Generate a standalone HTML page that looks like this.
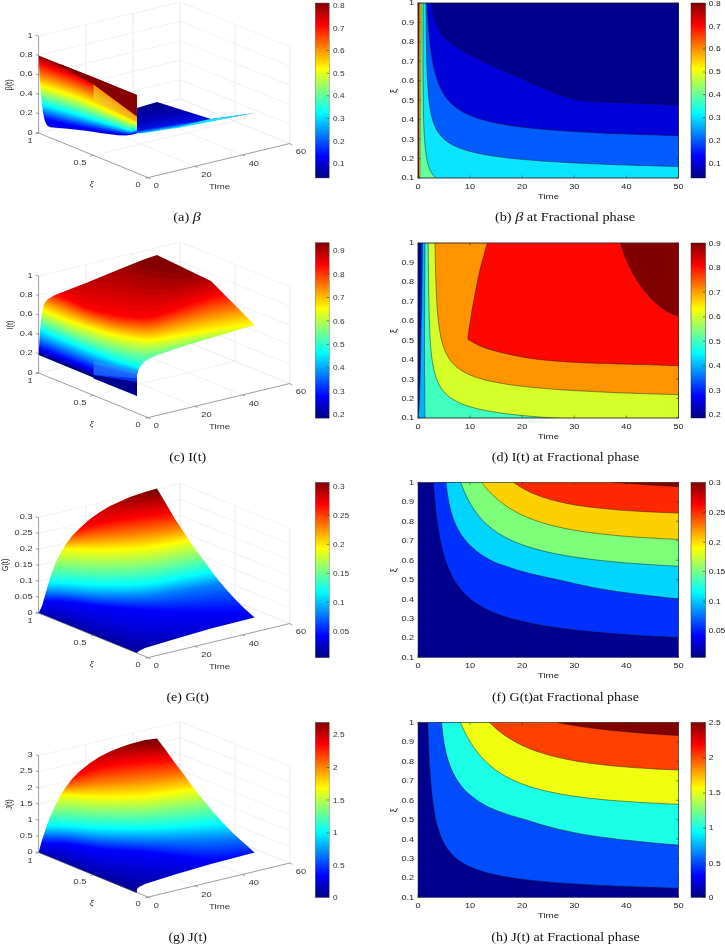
<!DOCTYPE html>
<html lang="en"><head><meta charset="utf-8"><title>Fractional phase figures</title>
<style>html,body{margin:0;padding:0;background:#fff}svg{display:block}</style></head>
<body>
<svg width="725" height="944" viewBox="0 0 725 944">
<rect width="725" height="944" fill="#fff"/>
<defs><filter id="soft" x="0" y="0" width="100%" height="100%" filterUnits="userSpaceOnUse" color-interpolation-filters="sRGB"><feGaussianBlur stdDeviation="0.5"/></filter></defs>
<g filter="url(#soft)">
<rect width="725" height="944" fill="#fff"/>
<defs><linearGradient id="jet" x1="0" y1="1" x2="0" y2="0">
<stop offset="0" stop-color="#000080"/>
<stop offset="0.125" stop-color="#0000ff"/>
<stop offset="0.375" stop-color="#00ffff"/>
<stop offset="0.625" stop-color="#ffff00"/>
<stop offset="0.875" stop-color="#ff0000"/>
<stop offset="1" stop-color="#800000"/>
</linearGradient></defs>
<line x1="85.8" y1="121.7" x2="195.2" y2="166.3" stroke="#e9e9e9" stroke-width="0.6"/>
<line x1="133" y1="110.3" x2="242.4" y2="154.9" stroke="#e9e9e9" stroke-width="0.6"/>
<line x1="180.2" y1="99" x2="289.6" y2="143.6" stroke="#e9e9e9" stroke-width="0.6"/>
<line x1="38.6" y1="133" x2="180.2" y2="99" stroke="#e9e9e9" stroke-width="0.6"/>
<line x1="93.3" y1="155.3" x2="234.9" y2="121.3" stroke="#e9e9e9" stroke-width="0.6"/>
<line x1="85.8" y1="121.7" x2="85.8" y2="24.7" stroke="#dcdcdc" stroke-width="0.6"/>
<line x1="133" y1="110.3" x2="133" y2="13.3" stroke="#dcdcdc" stroke-width="0.6"/>
<line x1="180.2" y1="99" x2="180.2" y2="2" stroke="#dcdcdc" stroke-width="0.6"/>
<line x1="235.1" y1="121.3" x2="235.1" y2="24.3" stroke="#dcdcdc" stroke-width="0.6"/>
<line x1="289.8" y1="143.6" x2="289.8" y2="46.6" stroke="#dcdcdc" stroke-width="0.6"/>
<line x1="38.6" y1="133" x2="180.4" y2="99" stroke="#e9e9e9" stroke-width="0.6"/>
<line x1="180.4" y1="99" x2="289.6" y2="143.6" stroke="#e9e9e9" stroke-width="0.6"/>
<line x1="38.6" y1="113.6" x2="180.4" y2="79.6" stroke="#e9e9e9" stroke-width="0.6"/>
<line x1="180.4" y1="79.6" x2="289.6" y2="124.2" stroke="#e9e9e9" stroke-width="0.6"/>
<line x1="38.6" y1="94.2" x2="180.4" y2="60.2" stroke="#e9e9e9" stroke-width="0.6"/>
<line x1="180.4" y1="60.2" x2="289.6" y2="104.8" stroke="#e9e9e9" stroke-width="0.6"/>
<line x1="38.6" y1="74.8" x2="180.4" y2="40.8" stroke="#e9e9e9" stroke-width="0.6"/>
<line x1="180.4" y1="40.8" x2="289.6" y2="85.4" stroke="#e9e9e9" stroke-width="0.6"/>
<line x1="38.6" y1="55.4" x2="180.4" y2="21.4" stroke="#e9e9e9" stroke-width="0.6"/>
<line x1="180.4" y1="21.4" x2="289.6" y2="66" stroke="#e9e9e9" stroke-width="0.6"/>
<line x1="38.6" y1="36" x2="180.4" y2="2" stroke="#e9e9e9" stroke-width="0.6"/>
<line x1="180.4" y1="2" x2="289.6" y2="46.6" stroke="#e9e9e9" stroke-width="0.6"/>
<defs><linearGradient id="fla" gradientUnits="userSpaceOnUse" x1="150" y1="104" x2="154.6" y2="131.6"><stop offset="0" stop-color="#00008c"/><stop offset="0.55" stop-color="#0000b8"/><stop offset="0.86" stop-color="#0010e8"/><stop offset="0.95" stop-color="#0090ff"/><stop offset="1" stop-color="#30ffff"/></linearGradient></defs>
<path d="M136.8 108 L157 102 L211 119 L254.6 113 L211 121.2 L175 128.3 L145 132.9 L139 133.4 L136.8 133.2Z" fill="url(#fla)"/>
<path d="M208 119.6 L254.6 112.7 L211 121.4 L175 128.5 L175 127.6Z" fill="#18e0ff"/>
<mask id="ca" maskUnits="userSpaceOnUse" x="0" y="0" width="725" height="944"><path d="M38.6 55.4 L136.9 95.1 L136.9 133.3 L133 134.6 L126 135.4 L118 135.2 L100 133 L88 131 L70 129 L50.3 127.2 L47.4 125.8 L45 121.4 L43 112.7 L41.1 98.3 L39.7 79Z" fill="#fff"/></mask>
<g mask="url(#ca)">
<path d="M34 50.5 L43.8 54.5 L57.6 60.1 L70 65.1 L78.8 68.6 L86.1 71.6 L93.6 74.6 L102.1 78.1 L110.8 81.6 L118 84.5 L123.1 86.5 L126.8 88 L130 89.3 L133.3 90.6 L136.1 91.8 L138 92.6 L138 145 L34 145Z" fill="#870000"/>
<path d="M34 52.8 L43.8 56.7 L57.6 62.3 L70 67.3 L78.8 70.9 L86.1 73.9 L93.6 76.9 L102.1 80.3 L110.8 83.8 L118 86.7 L123.1 88.8 L126.8 90.3 L130 91.6 L133.3 92.9 L136.1 94 L138 94.8 L138 145 L34 145Z" fill="#960000"/>
<path d="M34 55 L43.8 59 L57.6 64.6 L70 69.6 L78.8 73.1 L86.1 76.1 L93.6 79.1 L102.1 82.6 L110.8 86.1 L118 89 L123.1 91 L126.8 92.5 L130 93.8 L133.3 95.1 L136.1 96.3 L138 97.1 L138 145 L34 145Z" fill="#a40000"/>
<path d="M34 55.8 L43.8 59.8 L57.6 65.3 L70 70.2 L78.8 73.8 L86.1 76.7 L93.6 79.8 L102.1 83.2 L110.8 86.7 L118 89.6 L123.1 91.7 L126.8 93.2 L130 94.5 L133.3 95.8 L136.1 96.9 L138 97.7 L138 145 L34 145Z" fill="#b00000"/>
<path d="M34 56.7 L43.8 60.5 L57.6 66 L70 70.9 L78.8 74.4 L86.1 77.4 L93.6 80.4 L102.1 83.8 L110.8 87.3 L118 90.2 L123.1 92.3 L126.8 93.8 L130 95.1 L133.3 96.4 L136.1 97.5 L138 98.3 L138 145 L34 145Z" fill="#bc0000"/>
<path d="M34 57.5 L43.8 61.3 L57.6 66.7 L70 71.5 L78.8 75 L86.1 78 L93.6 81.1 L102.1 84.5 L110.8 87.9 L118 90.9 L123.1 92.9 L126.8 94.4 L130 95.8 L133.3 97.1 L136.1 98.2 L138 98.9 L138 145 L34 145Z" fill="#c80000"/>
<path d="M34 58.3 L43.8 62 L57.6 67.4 L70 72.2 L78.8 75.7 L86.1 78.7 L93.6 81.7 L102.1 85.1 L110.8 88.6 L118 91.5 L123.1 93.6 L126.8 95.1 L130 96.4 L133.3 97.7 L136.1 98.8 L138 99.5 L138 145 L34 145Z" fill="#d50000"/>
<path d="M34 59.1 L43.8 62.8 L57.6 68.1 L70 72.8 L78.8 76.3 L86.1 79.3 L93.6 82.4 L102.1 85.8 L110.8 89.2 L118 92.1 L123.1 94.2 L126.8 95.7 L130 97.1 L133.3 98.3 L136.1 99.4 L138 100.1 L138 145 L34 145Z" fill="#e10000"/>
<path d="M34 59.9 L43.8 63.6 L57.6 68.8 L70 73.5 L78.8 77 L86.1 80 L93.6 83 L102.1 86.4 L110.8 89.8 L118 92.7 L123.1 94.8 L126.8 96.4 L130 97.7 L133.3 99 L136.1 100 L138 100.8 L138 145 L34 145Z" fill="#ed0000"/>
<path d="M34 60.7 L43.8 64.3 L57.6 69.5 L70 74.1 L78.8 77.6 L86.1 80.6 L93.6 83.7 L102.1 87.1 L110.8 90.5 L118 93.4 L123.1 95.5 L126.8 97 L130 98.4 L133.3 99.6 L136.1 100.7 L138 101.4 L138 145 L34 145Z" fill="#f90000"/>
<path d="M34 61.5 L43.8 65.1 L57.6 70.2 L70 74.8 L78.8 78.2 L86.1 81.3 L93.6 84.3 L102.1 87.7 L110.8 91.1 L118 94 L123.1 96.1 L126.8 97.7 L130 99 L133.3 100.3 L136.1 101.3 L138 102 L138 145 L34 145Z" fill="#ff0600"/>
<path d="M34 62.6 L43.8 66.2 L57.6 71.2 L70 75.8 L78.8 79.2 L86.1 82.3 L93.6 85.3 L102.1 88.7 L110.8 92.2 L118 95.1 L123.1 97.2 L126.8 98.8 L130 100.1 L133.3 101.4 L136.1 102.4 L138 103.1 L138 145 L34 145Z" fill="#ff1300"/>
<path d="M34 63.8 L43.8 67.3 L57.6 72.2 L70 76.8 L78.8 80.2 L86.1 83.2 L93.6 86.3 L102.1 89.7 L110.8 93.2 L118 96.2 L123.1 98.3 L126.8 99.8 L130 101.2 L133.3 102.5 L136.1 103.5 L138 104.2 L138 145 L34 145Z" fill="#ff2000"/>
<path d="M34 64.9 L43.8 68.4 L57.6 73.3 L70 77.8 L78.8 81.2 L86.1 84.2 L93.6 87.3 L102.1 90.8 L110.8 94.3 L118 97.2 L123.1 99.4 L126.8 100.9 L130 102.3 L133.3 103.6 L136.1 104.6 L138 105.3 L138 145 L34 145Z" fill="#ff2d00"/>
<path d="M34 66 L43.8 69.5 L57.6 74.3 L70 78.8 L78.8 82.2 L86.1 85.2 L93.6 88.3 L102.1 91.8 L110.8 95.3 L118 98.3 L123.1 100.4 L126.8 102 L130 103.4 L133.3 104.7 L136.1 105.7 L138 106.4 L138 145 L34 145Z" fill="#ff3900"/>
<path d="M34 67.1 L43.8 70.5 L57.6 75.4 L70 79.8 L78.8 83.2 L86.1 86.2 L93.6 89.3 L102.1 92.8 L110.8 96.4 L118 99.4 L123.1 101.5 L126.8 103.1 L130 104.5 L133.3 105.8 L136.1 106.8 L138 107.5 L138 145 L34 145Z" fill="#ff4600"/>
<path d="M34 68.2 L43.8 71.6 L57.6 76.4 L70 80.9 L78.8 84.2 L86.1 87.2 L93.6 90.3 L102.1 93.8 L110.8 97.4 L118 100.5 L123.1 102.6 L126.8 104.2 L130 105.6 L133.3 106.9 L136.1 107.9 L138 108.6 L138 145 L34 145Z" fill="#ff5300"/>
<path d="M34 69.4 L43.8 72.7 L57.6 77.5 L70 81.9 L78.8 85.2 L86.1 88.2 L93.6 91.3 L102.1 94.8 L110.8 98.5 L118 101.5 L123.1 103.7 L126.8 105.3 L130 106.7 L133.3 108 L136.1 109 L138 109.7 L138 145 L34 145Z" fill="#ff6000"/>
<path d="M34 70.5 L43.8 73.8 L57.6 78.5 L70 82.9 L78.8 86.2 L86.1 89.2 L93.6 92.3 L102.1 95.9 L110.8 99.5 L118 102.6 L123.1 104.8 L126.8 106.4 L130 107.8 L133.3 109.1 L136.1 110.1 L138 110.8 L138 145 L34 145Z" fill="#ff6c00"/>
<path d="M34 71.6 L43.8 74.9 L57.6 79.6 L70 83.9 L78.8 87.2 L86.1 90.2 L93.6 93.3 L102.1 96.9 L110.8 100.6 L118 103.7 L123.1 105.9 L126.8 107.5 L130 108.9 L133.3 110.2 L136.1 111.2 L138 111.9 L138 145 L34 145Z" fill="#ff7900"/>
<path d="M34 72.8 L43.8 76 L57.6 80.6 L70 84.9 L78.8 88.2 L86.1 91.2 L93.6 94.3 L102.1 97.9 L110.8 101.6 L118 104.8 L123.1 107 L126.8 108.6 L130 110 L133.3 111.3 L136.1 112.3 L138 113 L138 145 L34 145Z" fill="#ff8600"/>
<path d="M34 73.9 L43.8 77.1 L57.6 81.6 L70 85.9 L78.8 89.2 L86.1 92.2 L93.6 95.3 L102.1 98.9 L110.8 102.7 L118 105.8 L123.1 108.1 L126.8 109.7 L130 111.1 L133.3 112.4 L136.1 113.4 L138 114.1 L138 145 L34 145Z" fill="#ff9300"/>
<path d="M34 75 L43.8 78.2 L57.6 82.7 L70 86.9 L78.8 90.2 L86.1 93.2 L93.6 96.3 L102.1 99.9 L110.8 103.7 L118 106.9 L123.1 109.1 L126.8 110.8 L130 112.2 L133.3 113.5 L136.1 114.5 L138 115.2 L138 145 L34 145Z" fill="#ff9f00"/>
<path d="M34 76.1 L43.8 79.3 L57.6 83.7 L70 87.9 L78.8 91.2 L86.1 94.2 L93.6 97.3 L102.1 101 L110.8 104.8 L118 108 L123.1 110.2 L126.8 111.9 L130 113.3 L133.3 114.6 L136.1 115.6 L138 116.3 L138 145 L34 145Z" fill="#ffac00"/>
<path d="M34 77.2 L43.8 80.4 L57.6 84.8 L70 88.9 L78.8 92.2 L86.1 95.2 L93.6 98.3 L102.1 102 L110.8 105.8 L118 109 L123.1 111.3 L126.8 113 L130 114.4 L133.3 115.7 L136.1 116.7 L138 117.4 L138 145 L34 145Z" fill="#ffb900"/>
<path d="M34 78.4 L43.8 81.5 L57.6 85.8 L70 90 L78.8 93.2 L86.1 96.2 L93.6 99.3 L102.1 103 L110.8 106.9 L118 110.1 L123.1 112.4 L126.8 114.1 L130 115.5 L133.3 116.8 L136.1 117.8 L138 118.5 L138 145 L34 145Z" fill="#ffc600"/>
<path d="M34 79.5 L43.8 82.5 L57.6 86.9 L70 91 L78.8 94.2 L86.1 97.1 L93.6 100.3 L102.1 104 L110.8 107.9 L118 111.2 L123.1 113.5 L126.8 115.2 L130 116.6 L133.3 117.9 L136.1 118.9 L138 119.6 L138 145 L34 145Z" fill="#ffd200"/>
<path d="M34 80.6 L43.8 83.6 L57.6 87.9 L70 92 L78.8 95.2 L86.1 98.1 L93.6 101.3 L102.1 105 L110.8 109 L118 112.3 L123.1 114.6 L126.8 116.3 L130 117.7 L133.3 119 L136.1 120 L138 120.7 L138 145 L34 145Z" fill="#ffdf00"/>
<path d="M34 81.8 L43.8 84.7 L57.6 89 L70 93 L78.8 96.2 L86.1 99.1 L93.6 102.3 L102.1 106.1 L110.8 110 L118 113.3 L123.1 115.7 L126.8 117.4 L130 118.8 L133.3 120.1 L136.1 121.1 L138 121.8 L138 145 L34 145Z" fill="#ffec00"/>
<path d="M34 82.9 L43.8 85.8 L57.6 90 L70 94 L78.8 97.2 L86.1 100.1 L93.6 103.3 L102.1 107.1 L110.8 111.1 L118 114.4 L123.1 116.8 L126.8 118.5 L130 119.9 L133.3 121.2 L136.1 122.2 L138 122.9 L138 145 L34 145Z" fill="#fff900"/>
<path d="M34 84 L43.8 86.9 L57.6 91.1 L70 95 L78.8 98.2 L86.1 101.1 L93.6 104.3 L102.1 108.1 L110.8 112.1 L118 115.5 L123.1 117.8 L126.8 119.6 L130 121 L133.3 122.3 L136.1 123.3 L138 124 L138 145 L34 145Z" fill="#f9ff06"/>
<path d="M34 84.9 L43.8 87.8 L57.6 91.9 L70 95.9 L78.8 99 L86.1 101.9 L93.6 105.1 L102.1 108.8 L110.8 112.7 L118 116.1 L123.1 118.4 L126.8 120.1 L130 121.5 L133.3 122.7 L136.1 123.6 L138 124.3 L138 145 L34 145Z" fill="#ecff13"/>
<path d="M34 85.8 L43.8 88.7 L57.6 92.8 L70 96.7 L78.8 99.8 L86.1 102.7 L93.6 105.8 L102.1 109.5 L110.8 113.4 L118 116.6 L123.1 118.9 L126.8 120.6 L130 122 L133.3 123.1 L136.1 124 L138 124.5 L138 145 L34 145Z" fill="#dfff20"/>
<path d="M34 86.7 L43.8 89.6 L57.6 93.7 L70 97.6 L78.8 100.7 L86.1 103.5 L93.6 106.6 L102.1 110.2 L110.8 114 L118 117.2 L123.1 119.4 L126.8 121.1 L130 122.4 L133.3 123.5 L136.1 124.3 L138 124.8 L138 145 L34 145Z" fill="#d2ff2d"/>
<path d="M34 87.6 L43.8 90.5 L57.6 94.6 L70 98.5 L78.8 101.5 L86.1 104.3 L93.6 107.3 L102.1 110.9 L110.8 114.6 L118 117.8 L123.1 120 L126.8 121.6 L130 122.9 L133.3 123.9 L136.1 124.6 L138 125.1 L138 145 L34 145Z" fill="#c6ff39"/>
<path d="M34 88.5 L43.8 91.4 L57.6 95.5 L70 99.3 L78.8 102.3 L86.1 105.1 L93.6 108.1 L102.1 111.6 L110.8 115.2 L118 118.3 L123.1 120.5 L126.8 122.1 L130 123.4 L133.3 124.3 L136.1 125 L138 125.4 L138 145 L34 145Z" fill="#b9ff46"/>
<path d="M34 89.4 L43.8 92.3 L57.6 96.4 L70 100.2 L78.8 103.2 L86.1 105.9 L93.6 108.9 L102.1 112.3 L110.8 115.9 L118 118.9 L123.1 121 L126.8 122.6 L130 123.8 L133.3 124.8 L136.1 125.3 L138 125.7 L138 145 L34 145Z" fill="#acff53"/>
<path d="M34 90.3 L43.8 93.2 L57.6 97.2 L70 101.1 L78.8 104 L86.1 106.8 L93.6 109.6 L102.1 113 L110.8 116.5 L118 119.5 L123.1 121.6 L126.8 123.1 L130 124.3 L133.3 125.2 L136.1 125.6 L138 125.9 L138 145 L34 145Z" fill="#9fff60"/>
<path d="M34 91.2 L43.8 94.1 L57.6 98.1 L70 101.9 L78.8 104.9 L86.1 107.6 L93.6 110.4 L102.1 113.7 L110.8 117.1 L118 120 L123.1 122.1 L126.8 123.6 L130 124.8 L133.3 125.6 L136.1 126 L138 126.2 L138 145 L34 145Z" fill="#93ff6c"/>
<path d="M34 92.1 L43.8 95 L57.6 99 L70 102.8 L78.8 105.7 L86.1 108.4 L93.6 111.1 L102.1 114.4 L110.8 117.7 L118 120.6 L123.1 122.6 L126.8 124.1 L130 125.3 L133.3 126 L136.1 126.3 L138 126.5 L138 145 L34 145Z" fill="#86ff79"/>
<path d="M34 93 L43.8 95.8 L57.6 99.9 L70 103.7 L78.8 106.5 L86.1 109.2 L93.6 111.9 L102.1 115.1 L110.8 118.4 L118 121.2 L123.1 123.2 L126.8 124.7 L130 125.8 L133.3 126.4 L136.1 126.6 L138 126.8 L138 145 L34 145Z" fill="#79ff86"/>
<path d="M34 93.9 L43.8 96.7 L57.6 100.8 L70 104.5 L78.8 107.4 L86.1 110 L93.6 112.7 L102.1 115.8 L110.8 119 L118 121.7 L123.1 123.7 L126.8 125.2 L130 126.2 L133.3 126.8 L136.1 127 L138 127 L138 145 L34 145Z" fill="#6cff93"/>
<path d="M34 94.8 L43.8 97.6 L57.6 101.6 L70 105.4 L78.8 108.2 L86.1 110.8 L93.6 113.4 L102.1 116.5 L110.8 119.6 L118 122.3 L123.1 124.2 L126.8 125.7 L130 126.7 L133.3 127.2 L136.1 127.3 L138 127.3 L138 145 L34 145Z" fill="#60ff9f"/>
<path d="M34 95.7 L43.8 98.5 L57.6 102.5 L70 106.2 L78.8 109.1 L86.1 111.6 L93.6 114.2 L102.1 117.2 L110.8 120.3 L118 122.8 L123.1 124.8 L126.8 126.2 L130 127.2 L133.3 127.6 L136.1 127.6 L138 127.6 L138 145 L34 145Z" fill="#53ffac"/>
<path d="M34 96.6 L43.8 99.4 L57.6 103.4 L70 107.1 L78.8 109.9 L86.1 112.4 L93.6 114.9 L102.1 117.9 L110.8 120.9 L118 123.4 L123.1 125.3 L126.8 126.7 L130 127.7 L133.3 128 L136.1 127.9 L138 127.8 L138 145 L34 145Z" fill="#46ffb9"/>
<path d="M34 97.5 L43.8 100.3 L57.6 104.3 L70 108 L78.8 110.7 L86.1 113.2 L93.6 115.7 L102.1 118.6 L110.8 121.5 L118 124 L123.1 125.8 L126.8 127.2 L130 128.1 L133.3 128.4 L136.1 128.3 L138 128.1 L138 145 L34 145Z" fill="#39ffc6"/>
<path d="M34 98.4 L43.8 101.2 L57.6 105.2 L70 108.8 L78.8 111.6 L86.1 114 L93.6 116.5 L102.1 119.3 L110.8 122.1 L118 124.5 L123.1 126.3 L126.8 127.7 L130 128.6 L133.3 128.8 L136.1 128.6 L138 128.4 L138 145 L34 145Z" fill="#2dffd2"/>
<path d="M34 99.3 L43.8 102.1 L57.6 106.1 L70 109.7 L78.8 112.4 L86.1 114.8 L93.6 117.2 L102.1 120 L110.8 122.8 L118 125.1 L123.1 126.9 L126.8 128.2 L130 129.1 L133.3 129.3 L136.1 128.9 L138 128.7 L138 145 L34 145Z" fill="#20ffdf"/>
<path d="M34 100.2 L43.8 103 L57.6 106.9 L70 110.6 L78.8 113.2 L86.1 115.6 L93.6 118 L102.1 120.7 L110.8 123.4 L118 125.7 L123.1 127.4 L126.8 128.7 L130 129.6 L133.3 129.7 L136.1 129.3 L138 128.9 L138 145 L34 145Z" fill="#13ffec"/>
<path d="M34 101.1 L43.8 103.9 L57.6 107.8 L70 111.4 L78.8 114.1 L86.1 116.4 L93.6 118.7 L102.1 121.4 L110.8 124 L118 126.2 L123.1 127.9 L126.8 129.2 L130 130 L133.3 130.1 L136.1 129.6 L138 129.2 L138 145 L34 145Z" fill="#06fff9"/>
<path d="M34 102 L43.8 104.8 L57.6 108.7 L70 112.3 L78.8 114.9 L86.1 117.2 L93.6 119.5 L102.1 122.1 L110.8 124.6 L118 126.8 L123.1 128.5 L126.8 129.7 L130 130.5 L133.3 130.5 L136.1 129.9 L138 129.5 L138 145 L34 145Z" fill="#00f9ff"/>
<path d="M34 102.7 L43.8 105.5 L57.6 109.4 L70 112.9 L78.8 115.5 L86.1 117.8 L93.6 120 L102.1 122.5 L110.8 125 L118 127.1 L123.1 128.8 L126.8 130 L130 130.7 L133.3 130.7 L136.1 130.1 L138 129.6 L138 145 L34 145Z" fill="#00ecff"/>
<path d="M34 103.5 L43.8 106.2 L57.6 110.1 L70 113.6 L78.8 116.1 L86.1 118.3 L93.6 120.5 L102.1 122.9 L110.8 125.4 L118 127.5 L123.1 129.1 L126.8 130.2 L130 130.9 L133.3 130.8 L136.1 130.2 L138 129.8 L138 145 L34 145Z" fill="#00dfff"/>
<path d="M34 104.2 L43.8 106.9 L57.6 110.8 L70 114.2 L78.8 116.7 L86.1 118.9 L93.6 121 L102.1 123.4 L110.8 125.8 L118 127.8 L123.1 129.3 L126.8 130.5 L130 131.1 L133.3 131 L136.1 130.4 L138 129.9 L138 145 L34 145Z" fill="#00d2ff"/>
<path d="M34 104.9 L43.8 107.6 L57.6 111.4 L70 114.9 L78.8 117.3 L86.1 119.4 L93.6 121.5 L102.1 123.8 L110.8 126.2 L118 128.2 L123.1 129.6 L126.8 130.7 L130 131.3 L133.3 131.2 L136.1 130.5 L138 130 L138 145 L34 145Z" fill="#00c6ff"/>
<path d="M34 105.6 L43.8 108.3 L57.6 112.1 L70 115.5 L78.8 117.9 L86.1 119.9 L93.6 122 L102.1 124.3 L110.8 126.6 L118 128.5 L123.1 129.9 L126.8 131 L130 131.5 L133.3 131.3 L136.1 130.7 L138 130.2 L138 145 L34 145Z" fill="#00b9ff"/>
<path d="M34 106.3 L43.8 109 L57.6 112.8 L70 116.2 L78.8 118.5 L86.1 120.5 L93.6 122.5 L102.1 124.7 L110.8 127 L118 128.8 L123.1 130.2 L126.8 131.2 L130 131.7 L133.3 131.5 L136.1 130.8 L138 130.3 L138 145 L34 145Z" fill="#00acff"/>
<path d="M34 107.1 L43.8 109.7 L57.6 113.5 L70 116.8 L78.8 119.1 L86.1 121 L93.6 123 L102.1 125.2 L110.8 127.4 L118 129.2 L123.1 130.5 L126.8 131.5 L130 131.9 L133.3 131.7 L136.1 131 L138 130.4 L138 145 L34 145Z" fill="#009fff"/>
<path d="M34 107.8 L43.8 110.4 L57.6 114.2 L70 117.5 L78.8 119.7 L86.1 121.6 L93.6 123.5 L102.1 125.6 L110.8 127.8 L118 129.5 L123.1 130.8 L126.8 131.7 L130 132.1 L133.3 131.9 L136.1 131.1 L138 130.6 L138 145 L34 145Z" fill="#0093ff"/>
<path d="M34 108.5 L43.8 111.1 L57.6 114.8 L70 118.1 L78.8 120.3 L86.1 122.1 L93.6 124 L102.1 126 L110.8 128.1 L118 129.9 L123.1 131.1 L126.8 131.9 L130 132.3 L133.3 132 L136.1 131.3 L138 130.7 L138 145 L34 145Z" fill="#0086ff"/>
<path d="M34 109.2 L43.8 111.9 L57.6 115.5 L70 118.8 L78.8 120.9 L86.1 122.7 L93.6 124.5 L102.1 126.5 L110.8 128.5 L118 130.2 L123.1 131.4 L126.8 132.2 L130 132.6 L133.3 132.2 L136.1 131.4 L138 130.8 L138 145 L34 145Z" fill="#0079ff"/>
<path d="M34 110 L43.8 112.6 L57.6 116.2 L70 119.4 L78.8 121.5 L86.1 123.2 L93.6 124.9 L102.1 126.9 L110.8 128.9 L118 130.5 L123.1 131.7 L126.8 132.4 L130 132.8 L133.3 132.4 L136.1 131.6 L138 131 L138 145 L34 145Z" fill="#006cff"/>
<path d="M34 110.7 L43.8 113.3 L57.6 116.9 L70 120 L78.8 122.1 L86.1 123.8 L93.6 125.4 L102.1 127.4 L110.8 129.3 L118 130.9 L123.1 132 L126.8 132.7 L130 133 L133.3 132.6 L136.1 131.7 L138 131.1 L138 145 L34 145Z" fill="#0060ff"/>
<path d="M34 111.4 L43.8 114 L57.6 117.6 L70 120.7 L78.8 122.7 L86.1 124.3 L93.6 125.9 L102.1 127.8 L110.8 129.7 L118 131.2 L123.1 132.3 L126.8 132.9 L130 133.2 L133.3 132.7 L136.1 131.9 L138 131.3 L138 145 L34 145Z" fill="#0053ff"/>
<path d="M34 112.2 L43.8 114.7 L57.6 118.2 L70 121.3 L78.8 123.3 L86.1 124.9 L93.6 126.4 L102.1 128.3 L110.8 130.1 L118 131.6 L123.1 132.5 L126.8 133.2 L130 133.4 L133.3 132.9 L136.1 132 L138 131.4 L138 145 L34 145Z" fill="#0046ff"/>
<path d="M34 112.9 L43.8 115.4 L57.6 118.9 L70 122 L78.8 123.9 L86.1 125.4 L93.6 126.9 L102.1 128.7 L110.8 130.5 L118 131.9 L123.1 132.8 L126.8 133.4 L130 133.6 L133.3 133.1 L136.1 132.2 L138 131.5 L138 145 L34 145Z" fill="#0039ff"/>
<path d="M34 113.6 L43.8 116.1 L57.6 119.6 L70 122.6 L78.8 124.5 L86.1 126 L93.6 127.4 L102.1 129.1 L110.8 130.9 L118 132.2 L123.1 133.1 L126.8 133.7 L130 133.8 L133.3 133.3 L136.1 132.3 L138 131.7 L138 145 L34 145Z" fill="#002dff"/>
<path d="M34 114.3 L43.8 116.8 L57.6 120.3 L70 123.3 L78.8 125.1 L86.1 126.5 L93.6 127.9 L102.1 129.6 L110.8 131.3 L118 132.6 L123.1 133.4 L126.8 133.9 L130 134 L133.3 133.4 L136.1 132.5 L138 131.8 L138 145 L34 145Z" fill="#0020ff"/>
<path d="M34 115 L43.8 117.5 L57.6 121 L70 123.9 L78.8 125.7 L86.1 127.1 L93.6 128.4 L102.1 130 L110.8 131.7 L118 132.9 L123.1 133.7 L126.8 134.1 L130 134.2 L133.3 133.6 L136.1 132.6 L138 131.9 L138 145 L34 145Z" fill="#0013ff"/>
<path d="M34 115.8 L43.8 118.2 L57.6 121.6 L70 124.6 L78.8 126.3 L86.1 127.6 L93.6 128.9 L102.1 130.5 L110.8 132 L118 133.3 L123.1 134 L126.8 134.4 L130 134.4 L133.3 133.8 L136.1 132.8 L138 132.1 L138 145 L34 145Z" fill="#0006ff"/>
<path d="M34 116.5 L43.8 118.9 L57.6 122.3 L70 125.2 L78.8 126.9 L86.1 128.2 L93.6 129.4 L102.1 130.9 L110.8 132.4 L118 133.6 L123.1 134.3 L126.8 134.6 L130 134.6 L133.3 134 L136.1 132.9 L138 132.2 L138 145 L34 145Z" fill="#0000f8"/>
<path d="M34 119.8 L43.8 121.8 L57.6 124.6 L70 127 L78.8 128.4 L86.1 129.5 L93.6 130.5 L102.1 132 L110.8 133.5 L118 134.6 L123.1 135.2 L126.8 135.5 L130 135.4 L133.3 134.8 L136.1 133.8 L138 133.1 L138 145 L34 145Z" fill="#0000eb"/>
<path d="M34 123.2 L43.8 124.7 L57.6 126.9 L70 128.8 L78.8 129.9 L86.1 130.7 L93.6 131.7 L102.1 133 L110.8 134.5 L118 135.6 L123.1 136.2 L126.8 136.3 L130 136.2 L133.3 135.6 L136.1 134.6 L138 133.9 L138 145 L34 145Z" fill="#0000dd"/>
<path d="M34 126.5 L43.8 127.6 L57.6 129.2 L70 130.6 L78.8 131.4 L86.1 132 L93.6 132.8 L102.1 134.1 L110.8 135.5 L118 136.6 L123.1 137.1 L126.8 137.2 L130 137 L133.3 136.4 L136.1 135.5 L138 134.8 L138 145 L34 145Z" fill="#0000d6"/>
</g>
<defs><linearGradient id="ora" gradientUnits="userSpaceOnUse" x1="115" y1="100.5" x2="109" y2="109.5"><stop offset="0" stop-color="#ff9400"/><stop offset="0.35" stop-color="#f4b31c"/><stop offset="1" stop-color="#f6d11a"/></linearGradient></defs>
<path d="M93.7 84.5 L136.9 116.3 L136.9 122 L93.7 100.5Z" fill="url(#ora)"/>
<path d="M93.7 77.3 L136.9 95.1 L136.9 116.6 L93.7 84.6 L60 66 L60 64Z" fill="#860000"/>
<line x1="38.6" y1="133" x2="38.6" y2="36" stroke="#5e5e5e" stroke-width="0.6"/>
<line x1="38.6" y1="133" x2="148" y2="177.6" stroke="#5e5e5e" stroke-width="0.6"/>
<line x1="148" y1="177.6" x2="289.6" y2="143.6" stroke="#5e5e5e" stroke-width="0.6"/>
<line x1="38.6" y1="133" x2="35.8" y2="132.2" stroke="#5e5e5e" stroke-width="0.6"/>
<text transform="translate(32.6,134.6) scale(1.270,1)" font-family='"Liberation Sans", sans-serif' font-size="7.30" text-anchor="end" fill="#333">0</text>
<line x1="38.6" y1="113.6" x2="35.8" y2="112.8" stroke="#5e5e5e" stroke-width="0.6"/>
<text transform="translate(32.6,115.2) scale(1.270,1)" font-family='"Liberation Sans", sans-serif' font-size="7.30" text-anchor="end" fill="#333">0.2</text>
<line x1="38.6" y1="94.2" x2="35.8" y2="93.4" stroke="#5e5e5e" stroke-width="0.6"/>
<text transform="translate(32.6,95.8) scale(1.270,1)" font-family='"Liberation Sans", sans-serif' font-size="7.30" text-anchor="end" fill="#333">0.4</text>
<line x1="38.6" y1="74.8" x2="35.8" y2="74" stroke="#5e5e5e" stroke-width="0.6"/>
<text transform="translate(32.6,76.4) scale(1.270,1)" font-family='"Liberation Sans", sans-serif' font-size="7.30" text-anchor="end" fill="#333">0.6</text>
<line x1="38.6" y1="55.4" x2="35.8" y2="54.6" stroke="#5e5e5e" stroke-width="0.6"/>
<text transform="translate(32.6,57) scale(1.270,1)" font-family='"Liberation Sans", sans-serif' font-size="7.30" text-anchor="end" fill="#333">0.8</text>
<line x1="38.6" y1="36" x2="35.8" y2="35.2" stroke="#5e5e5e" stroke-width="0.6"/>
<text transform="translate(32.6,37.6) scale(1.270,1)" font-family='"Liberation Sans", sans-serif' font-size="7.30" text-anchor="end" fill="#333">1</text>
<line x1="38.6" y1="133" x2="35.6" y2="133.9" stroke="#5e5e5e" stroke-width="0.6"/>
<text transform="translate(30,143.2) scale(1.270,1)" font-family='"Liberation Sans", sans-serif' font-size="7.30" text-anchor="middle" fill="#333">1</text>
<line x1="93.3" y1="155.3" x2="90.3" y2="156.2" stroke="#5e5e5e" stroke-width="0.6"/>
<text transform="translate(80,164.8) scale(1.270,1)" font-family='"Liberation Sans", sans-serif' font-size="7.30" text-anchor="middle" fill="#333">0.5</text>
<line x1="148" y1="177.6" x2="145" y2="178.5" stroke="#5e5e5e" stroke-width="0.6"/>
<text transform="translate(138,186.6) scale(1.270,1)" font-family='"Liberation Sans", sans-serif' font-size="7.30" text-anchor="middle" fill="#333">0</text>
<line x1="148" y1="177.6" x2="150.6" y2="178.8" stroke="#5e5e5e" stroke-width="0.6"/>
<text transform="translate(156.4,188.4) scale(1.270,1)" font-family='"Liberation Sans", sans-serif' font-size="7.30" text-anchor="middle" fill="#333">0</text>
<line x1="195.2" y1="166.3" x2="197.8" y2="167.5" stroke="#5e5e5e" stroke-width="0.6"/>
<text transform="translate(206.4,177.1) scale(1.270,1)" font-family='"Liberation Sans", sans-serif' font-size="7.30" text-anchor="middle" fill="#333">20</text>
<line x1="242.4" y1="154.9" x2="245" y2="156.1" stroke="#5e5e5e" stroke-width="0.6"/>
<text transform="translate(253.8,165.8) scale(1.270,1)" font-family='"Liberation Sans", sans-serif' font-size="7.30" text-anchor="middle" fill="#333">40</text>
<line x1="289.6" y1="143.6" x2="292.2" y2="144.8" stroke="#5e5e5e" stroke-width="0.6"/>
<text transform="translate(301,154.2) scale(1.270,1)" font-family='"Liberation Sans", sans-serif' font-size="7.30" text-anchor="middle" fill="#333">60</text>
<text transform="translate(91.5,185.8) scale(1.200,1)" font-family='"Liberation Sans", sans-serif' font-size="7.80" text-anchor="middle" fill="#333" font-style="italic">ξ</text>
<text transform="translate(219.5,189.2) scale(1.270,1)" font-family='"Liberation Sans", sans-serif' font-size="7.60" text-anchor="middle" fill="#333">Time</text>
<text transform="translate(12.2,85) scale(1.270,1) rotate(-90)" font-family='"Liberation Sans", sans-serif' font-size="7.40" text-anchor="middle" fill="#333">β(t)</text>
<rect x="315.2" y="3" width="14" height="175" fill="url(#jet)" stroke="#666" stroke-width="0.45"/>
<line x1="326.6" y1="5.4" x2="329.2" y2="5.4" stroke="#444" stroke-width="0.6"/>
<text transform="translate(333,8) scale(1.140,1)" font-family='"Liberation Sans", sans-serif' font-size="7.30" text-anchor="start" fill="#333">0.8</text>
<line x1="326.6" y1="28" x2="329.2" y2="28" stroke="#444" stroke-width="0.6"/>
<text transform="translate(333,30.6) scale(1.140,1)" font-family='"Liberation Sans", sans-serif' font-size="7.30" text-anchor="start" fill="#333">0.7</text>
<line x1="326.6" y1="50.6" x2="329.2" y2="50.6" stroke="#444" stroke-width="0.6"/>
<text transform="translate(333,53.2) scale(1.140,1)" font-family='"Liberation Sans", sans-serif' font-size="7.30" text-anchor="start" fill="#333">0.6</text>
<line x1="326.6" y1="73.2" x2="329.2" y2="73.2" stroke="#444" stroke-width="0.6"/>
<text transform="translate(333,75.8) scale(1.140,1)" font-family='"Liberation Sans", sans-serif' font-size="7.30" text-anchor="start" fill="#333">0.5</text>
<line x1="326.6" y1="95.8" x2="329.2" y2="95.8" stroke="#444" stroke-width="0.6"/>
<text transform="translate(333,98.4) scale(1.140,1)" font-family='"Liberation Sans", sans-serif' font-size="7.30" text-anchor="start" fill="#333">0.4</text>
<line x1="326.6" y1="118.4" x2="329.2" y2="118.4" stroke="#444" stroke-width="0.6"/>
<text transform="translate(333,121) scale(1.140,1)" font-family='"Liberation Sans", sans-serif' font-size="7.30" text-anchor="start" fill="#333">0.3</text>
<line x1="326.6" y1="141" x2="329.2" y2="141" stroke="#444" stroke-width="0.6"/>
<text transform="translate(333,143.6) scale(1.140,1)" font-family='"Liberation Sans", sans-serif' font-size="7.30" text-anchor="start" fill="#333">0.2</text>
<line x1="326.6" y1="163.6" x2="329.2" y2="163.6" stroke="#444" stroke-width="0.6"/>
<text transform="translate(333,166.2) scale(1.140,1)" font-family='"Liberation Sans", sans-serif' font-size="7.30" text-anchor="start" fill="#333">0.1</text>
<line x1="85.8" y1="361.7" x2="195.2" y2="406.3" stroke="#e9e9e9" stroke-width="0.6"/>
<line x1="133" y1="350.3" x2="242.4" y2="394.9" stroke="#e9e9e9" stroke-width="0.6"/>
<line x1="180.2" y1="339" x2="289.6" y2="383.6" stroke="#e9e9e9" stroke-width="0.6"/>
<line x1="38.6" y1="373" x2="180.2" y2="339" stroke="#e9e9e9" stroke-width="0.6"/>
<line x1="93.3" y1="395.3" x2="234.9" y2="361.3" stroke="#e9e9e9" stroke-width="0.6"/>
<line x1="85.8" y1="361.7" x2="85.8" y2="264.7" stroke="#dcdcdc" stroke-width="0.6"/>
<line x1="133" y1="350.3" x2="133" y2="253.3" stroke="#dcdcdc" stroke-width="0.6"/>
<line x1="180.2" y1="339" x2="180.2" y2="242" stroke="#dcdcdc" stroke-width="0.6"/>
<line x1="235.1" y1="361.3" x2="235.1" y2="264.3" stroke="#dcdcdc" stroke-width="0.6"/>
<line x1="289.8" y1="383.6" x2="289.8" y2="286.6" stroke="#dcdcdc" stroke-width="0.6"/>
<line x1="38.6" y1="373" x2="180.4" y2="339" stroke="#e9e9e9" stroke-width="0.6"/>
<line x1="180.4" y1="339" x2="289.6" y2="383.6" stroke="#e9e9e9" stroke-width="0.6"/>
<line x1="38.6" y1="353.6" x2="180.4" y2="319.6" stroke="#e9e9e9" stroke-width="0.6"/>
<line x1="180.4" y1="319.6" x2="289.6" y2="364.2" stroke="#e9e9e9" stroke-width="0.6"/>
<line x1="38.6" y1="334.2" x2="180.4" y2="300.2" stroke="#e9e9e9" stroke-width="0.6"/>
<line x1="180.4" y1="300.2" x2="289.6" y2="344.8" stroke="#e9e9e9" stroke-width="0.6"/>
<line x1="38.6" y1="314.8" x2="180.4" y2="280.8" stroke="#e9e9e9" stroke-width="0.6"/>
<line x1="180.4" y1="280.8" x2="289.6" y2="325.4" stroke="#e9e9e9" stroke-width="0.6"/>
<line x1="38.6" y1="295.4" x2="180.4" y2="261.4" stroke="#e9e9e9" stroke-width="0.6"/>
<line x1="180.4" y1="261.4" x2="289.6" y2="306" stroke="#e9e9e9" stroke-width="0.6"/>
<line x1="38.6" y1="276" x2="180.4" y2="242" stroke="#e9e9e9" stroke-width="0.6"/>
<line x1="180.4" y1="242" x2="289.6" y2="286.6" stroke="#e9e9e9" stroke-width="0.6"/>
<mask id="cc" maskUnits="userSpaceOnUse" x="0" y="0" width="725" height="944"><path d="M38.6 355 L136.8 395.6 L136.8 376 L139 368 L145 361 L155 356 L175 349 L211 338 L254.6 325 L211 281 L157 255 L145 259 L120 269 L86 283 L55 295 L48 299 L44 304 L42 312 L40 330Z" fill="#fff"/></mask>
<g mask="url(#cc)">
<path d="M34 240 L40.7 240 L50.4 240 L60 240 L68.7 240 L77.5 240 L86 240 L94.3 240 L102.4 240 L110 240 L117 240 L123.5 240 L130 240 L136.5 240 L143 240 L150 240 L157.6 240 L165.7 240 L175 240 L185.8 240 L197.8 240 L211 240 L227.6 240 L245.4 240 L258 240 L258 417.3 L34 417.3Z" fill="#800000"/>
<path d="M34 250 L40.7 249.9 L50.4 249.9 L60 250 L68.7 250.4 L77.5 251.1 L86 252 L94.3 253.2 L102.4 254.6 L110 256 L117 257.3 L123.5 258.7 L130 260 L136.5 261.4 L143 262.8 L150 264 L157.6 265 L165.7 265.9 L175 266 L185.8 265.4 L197.8 264.1 L211 262 L227.6 258.1 L245.4 253.4 L258 250 L258 417.3 L34 417.3Z" fill="#870000"/>
<path d="M34 259 L40.7 259 L50.4 258.9 L60 259 L68.7 259.2 L77.5 259.6 L86 260 L94.3 260.5 L102.4 261.2 L110 262 L117 263 L123.5 264.2 L130 265.5 L136.5 267 L143 268.6 L150 270 L157.6 271.2 L165.7 272.3 L175 272.5 L185.8 271.8 L197.8 270.3 L211 268 L227.6 264.1 L245.4 259.4 L258 256 L258 417.3 L34 417.3Z" fill="#960000"/>
<path d="M34 268 L40.7 268 L50.4 268 L60 268 L68.7 268 L77.5 268 L86 268 L94.3 267.9 L102.4 267.8 L110 268 L117 268.7 L123.5 269.7 L130 271 L136.5 272.6 L143 274.4 L150 276 L157.6 277.4 L165.7 278.7 L175 279 L185.8 278.2 L197.8 276.5 L211 274 L227.6 270.1 L245.4 265.4 L258 262 L258 417.3 L34 417.3Z" fill="#a60000"/>
<path d="M34 275.5 L40.7 275.5 L50.4 275.5 L60 275.5 L68.7 275.5 L77.5 275.5 L86 275.5 L94.3 275.2 L102.4 274.9 L110 275 L117 275.8 L123.5 277.1 L130 278.5 L136.5 280 L143 281.5 L150 282.8 L157.6 283.7 L165.7 284.2 L175 284 L185.8 282.8 L197.8 280.7 L211 278 L227.6 274 L245.4 269.3 L258 266 L258 417.3 L34 417.3Z" fill="#b50000"/>
<path d="M34 283 L40.7 283 L50.4 283 L60 283 L68.7 283 L77.5 283.1 L86 283 L94.3 282.6 L102.4 282 L110 282 L117 283 L123.5 284.5 L130 286 L136.5 287.4 L143 288.6 L150 289.5 L157.6 289.9 L165.7 289.8 L175 289 L185.8 287.3 L197.8 284.9 L211 282 L227.6 277.9 L245.4 273.3 L258 270 L258 417.3 L34 417.3Z" fill="#c30000"/>
<path d="M34 283.8 L40.7 284.2 L50.4 284.8 L60 285.5 L68.7 286.3 L77.5 287.2 L86 287.9 L94.3 288 L102.4 288 L110 288.4 L117 289.4 L123.5 290.8 L130 292.1 L136.5 293.3 L143 294.4 L150 295 L157.6 295 L165.7 294.4 L175 293.1 L185.8 291 L197.8 288.2 L211 285 L227.6 280.9 L245.4 276.4 L258 273.2 L258 417.3 L34 417.3Z" fill="#d10000"/>
<path d="M34 284.6 L40.7 285.4 L50.4 286.6 L60 288 L68.7 289.6 L77.5 291.3 L86 292.7 L94.3 293.5 L102.4 294 L110 294.7 L117 295.8 L123.5 297.1 L130 298.2 L136.5 299.3 L143 300.2 L150 300.5 L157.6 300 L165.7 298.9 L175 297.2 L185.8 294.7 L197.8 291.5 L211 288 L227.6 283.9 L245.4 279.5 L258 276.4 L258 417.3 L34 417.3Z" fill="#de0000"/>
<path d="M34 285.4 L40.7 286.6 L50.4 288.5 L60 290.5 L68.7 292.8 L77.5 295.4 L86 297.6 L94.3 299 L102.4 300.1 L110 301.1 L117 302.2 L123.5 303.3 L130 304.3 L136.5 305.2 L143 306 L150 306 L157.6 305.1 L165.7 303.5 L175 301.3 L185.8 298.3 L197.8 294.7 L211 291 L227.6 286.9 L245.4 282.6 L258 279.6 L258 417.3 L34 417.3Z" fill="#eb0000"/>
<path d="M34 286.2 L40.7 287.9 L50.4 290.3 L60 293 L68.7 296.1 L77.5 299.5 L86 302.4 L94.3 304.5 L102.4 306.1 L110 307.4 L117 308.6 L123.5 309.6 L130 310.4 L136.5 311.2 L143 311.7 L150 311.5 L157.6 310.2 L165.7 308.1 L175 305.4 L185.8 302 L197.8 298 L211 294 L227.6 289.8 L245.4 285.7 L258 282.8 L258 417.3 L34 417.3Z" fill="#f80000"/>
<path d="M34 287 L40.7 289.1 L50.4 292.1 L60 295.5 L68.7 299.4 L77.5 303.6 L86 307.3 L94.3 310 L102.4 312.1 L110 313.8 L117 315.1 L123.5 315.9 L130 316.5 L136.5 317.1 L143 317.5 L150 317 L157.6 315.3 L165.7 312.7 L175 309.5 L185.8 305.6 L197.8 301.2 L211 297 L227.6 292.8 L245.4 288.8 L258 286 L258 417.3 L34 417.3Z" fill="#ff0600"/>
<path d="M34 287.9 L40.7 290 L50.4 293.1 L60 296.6 L68.7 300.4 L77.5 304.6 L86 308.3 L94.3 311 L102.4 313.1 L110 314.8 L117 316.1 L123.5 317 L130 317.6 L136.5 318.2 L143 318.6 L150 318.1 L157.6 316.5 L165.7 313.9 L175 310.9 L185.8 307.1 L197.8 302.8 L211 298.7 L227.6 294.6 L245.4 290.6 L258 287.9 L258 417.3 L34 417.3Z" fill="#ff1300"/>
<path d="M34 288.8 L40.7 291 L50.4 294.1 L60 297.6 L68.7 301.5 L77.5 305.6 L86 309.2 L94.3 312 L102.4 314.1 L110 315.8 L117 317.2 L123.5 318.1 L130 318.7 L136.5 319.4 L143 319.8 L150 319.3 L157.6 317.7 L165.7 315.2 L175 312.2 L185.8 308.6 L197.8 304.4 L211 300.4 L227.6 296.4 L245.4 292.5 L258 289.8 L258 417.3 L34 417.3Z" fill="#ff2000"/>
<path d="M34 289.7 L40.7 291.9 L50.4 295.1 L60 298.6 L68.7 302.5 L77.5 306.6 L86 310.2 L94.3 312.9 L102.4 315.1 L110 316.9 L117 318.2 L123.5 319.1 L130 319.8 L136.5 320.5 L143 320.9 L150 320.4 L157.6 318.9 L165.7 316.5 L175 313.6 L185.8 310 L197.8 306 L211 302.1 L227.6 298.2 L245.4 294.4 L258 291.7 L258 417.3 L34 417.3Z" fill="#ff2d00"/>
<path d="M34 290.6 L40.7 292.9 L50.4 296.2 L60 299.7 L68.7 303.5 L77.5 307.6 L86 311.2 L94.3 313.9 L102.4 316.1 L110 317.9 L117 319.2 L123.5 320.2 L130 320.9 L136.5 321.6 L143 322 L150 321.6 L157.6 320.1 L165.7 317.7 L175 314.9 L185.8 311.5 L197.8 307.6 L211 303.8 L227.6 300 L245.4 296.2 L258 293.6 L258 417.3 L34 417.3Z" fill="#ff3900"/>
<path d="M34 291.5 L40.7 293.8 L50.4 297.2 L60 300.8 L68.7 304.6 L77.5 308.6 L86 312.1 L94.3 314.9 L102.4 317.1 L110 318.9 L117 320.3 L123.5 321.3 L130 322 L136.5 322.7 L143 323.1 L150 322.8 L157.6 321.3 L165.7 319 L175 316.2 L185.8 313 L197.8 309.2 L211 305.5 L227.6 301.7 L245.4 298.1 L258 295.5 L258 417.3 L34 417.3Z" fill="#ff4600"/>
<path d="M34 292.4 L40.7 294.8 L50.4 298.2 L60 301.8 L68.7 305.6 L77.5 309.6 L86 313.1 L94.3 315.9 L102.4 318.1 L110 319.9 L117 321.3 L123.5 322.4 L130 323.1 L136.5 323.8 L143 324.2 L150 323.9 L157.6 322.5 L165.7 320.3 L175 317.6 L185.8 314.4 L197.8 310.8 L211 307.2 L227.6 303.5 L245.4 299.9 L258 297.4 L258 417.3 L34 417.3Z" fill="#ff5300"/>
<path d="M34 293.3 L40.7 295.7 L50.4 299.2 L60 302.9 L68.7 306.6 L77.5 310.6 L86 314.1 L94.3 316.8 L102.4 319.1 L110 320.9 L117 322.4 L123.5 323.4 L130 324.2 L136.5 324.9 L143 325.4 L150 325.1 L157.6 323.7 L165.7 321.5 L175 318.9 L185.8 315.9 L197.8 312.4 L211 308.9 L227.6 305.3 L245.4 301.8 L258 299.3 L258 417.3 L34 417.3Z" fill="#ff6000"/>
<path d="M34 294.2 L40.7 296.7 L50.4 300.2 L60 303.9 L68.7 307.7 L77.5 311.6 L86 315.1 L94.3 317.8 L102.4 320.1 L110 322 L117 323.4 L123.5 324.5 L130 325.3 L136.5 326 L143 326.5 L150 326.2 L157.6 324.9 L165.7 322.8 L175 320.3 L185.8 317.3 L197.8 314 L211 310.6 L227.6 307.1 L245.4 303.6 L258 301.2 L258 417.3 L34 417.3Z" fill="#ff6c00"/>
<path d="M34 295.1 L40.7 297.6 L50.4 301.2 L60 304.9 L68.7 308.7 L77.5 312.6 L86 316 L94.3 318.8 L102.4 321.1 L110 323 L117 324.5 L123.5 325.6 L130 326.4 L136.5 327.1 L143 327.6 L150 327.4 L157.6 326.1 L165.7 324.1 L175 321.6 L185.8 318.8 L197.8 315.5 L211 312.3 L227.6 308.9 L245.4 305.5 L258 303.1 L258 417.3 L34 417.3Z" fill="#ff7900"/>
<path d="M34 296 L40.7 298.6 L50.4 302.2 L60 306 L68.7 309.7 L77.5 313.6 L86 317 L94.3 319.8 L102.4 322.1 L110 324 L117 325.5 L123.5 326.6 L130 327.5 L136.5 328.3 L143 328.7 L150 328.5 L157.6 327.3 L165.7 325.3 L175 323 L185.8 320.3 L197.8 317.1 L211 314 L227.6 310.7 L245.4 307.3 L258 305 L258 417.3 L34 417.3Z" fill="#ff8600"/>
<path d="M34 297 L40.7 299.6 L50.4 303.3 L60 307.1 L68.7 310.8 L77.5 314.6 L86 318 L94.3 320.7 L102.4 323.1 L110 325 L117 326.5 L123.5 327.7 L130 328.6 L136.5 329.4 L143 329.9 L150 329.6 L157.6 328.5 L165.7 326.6 L175 324.4 L185.8 321.7 L197.8 318.7 L211 315.6 L227.6 312.4 L245.4 309.1 L258 306.9 L258 417.3 L34 417.3Z" fill="#ff9300"/>
<path d="M34 298.1 L40.7 300.7 L50.4 304.4 L60 308.3 L68.7 311.9 L77.5 315.7 L86 319 L94.3 321.7 L102.4 324 L110 326 L117 327.6 L123.5 328.7 L130 329.6 L136.5 330.4 L143 331 L150 330.8 L157.6 329.7 L165.7 327.9 L175 325.7 L185.8 323.2 L197.8 320.2 L211 317.3 L227.6 314.1 L245.4 310.9 L258 308.7 L258 417.3 L34 417.3Z" fill="#ff9f00"/>
<path d="M34 299.1 L40.7 301.8 L50.4 305.6 L60 309.4 L68.7 313 L77.5 316.7 L86 320 L94.3 322.7 L102.4 325 L110 327 L117 328.6 L123.5 329.8 L130 330.7 L136.5 331.5 L143 332.1 L150 331.9 L157.6 330.9 L165.7 329.1 L175 327.1 L185.8 324.6 L197.8 321.8 L211 318.9 L227.6 315.9 L245.4 312.7 L258 310.6 L258 417.3 L34 417.3Z" fill="#ffac00"/>
<path d="M34 300.2 L40.7 302.8 L50.4 306.7 L60 310.5 L68.7 314.1 L77.5 317.7 L86 321 L94.3 323.7 L102.4 326 L110 328 L117 329.6 L123.5 330.8 L130 331.8 L136.5 332.6 L143 333.2 L150 333.1 L157.6 332.1 L165.7 330.4 L175 328.4 L185.8 326 L197.8 323.3 L211 320.6 L227.6 317.6 L245.4 314.5 L258 312.4 L258 417.3 L34 417.3Z" fill="#ffb900"/>
<path d="M34 301.2 L40.7 303.9 L50.4 307.8 L60 311.6 L68.7 315.2 L77.5 318.8 L86 321.9 L94.3 324.7 L102.4 327 L110 329 L117 330.6 L123.5 331.9 L130 332.9 L136.5 333.7 L143 334.3 L150 334.2 L157.6 333.3 L165.7 331.7 L175 329.8 L185.8 327.5 L197.8 324.9 L211 322.2 L227.6 319.3 L245.4 316.3 L258 314.2 L258 417.3 L34 417.3Z" fill="#ffc600"/>
<path d="M34 302.2 L40.7 305 L50.4 308.9 L60 312.8 L68.7 316.3 L77.5 319.8 L86 322.9 L94.3 325.6 L102.4 328 L110 330 L117 331.6 L123.5 332.9 L130 333.9 L136.5 334.8 L143 335.4 L150 335.4 L157.6 334.5 L165.7 333 L175 331.1 L185.8 328.9 L197.8 326.5 L211 323.9 L227.6 321.1 L245.4 318.1 L258 316.1 L258 417.3 L34 417.3Z" fill="#ffd200"/>
<path d="M34 303.3 L40.7 306.1 L50.4 310 L60 313.9 L68.7 317.4 L77.5 320.8 L86 323.9 L94.3 326.6 L102.4 329 L110 331 L117 332.6 L123.5 334 L130 335 L136.5 335.9 L143 336.5 L150 336.6 L157.6 335.7 L165.7 334.2 L175 332.4 L185.8 330.4 L197.8 328 L211 325.6 L227.6 322.8 L245.4 319.9 L258 317.9 L258 417.3 L34 417.3Z" fill="#ffdf00"/>
<path d="M34 304.3 L40.7 307.1 L50.4 311.1 L60 315 L68.7 318.5 L77.5 321.9 L86 324.9 L94.3 327.6 L102.4 330 L110 332 L117 333.7 L123.5 335 L130 336.1 L136.5 337 L143 337.7 L150 337.7 L157.6 336.9 L165.7 335.5 L175 333.8 L185.8 331.8 L197.8 329.6 L211 327.2 L227.6 324.5 L245.4 321.7 L258 319.8 L258 417.3 L34 417.3Z" fill="#ffec00"/>
<path d="M34 305.4 L40.7 308.2 L50.4 312.2 L60 316.2 L68.7 319.6 L77.5 322.9 L86 325.9 L94.3 328.6 L102.4 331 L110 333 L117 334.7 L123.5 336 L130 337.1 L136.5 338.1 L143 338.8 L150 338.9 L157.6 338.1 L165.7 336.8 L175 335.1 L185.8 333.3 L197.8 331.1 L211 328.9 L227.6 326.2 L245.4 323.6 L258 321.6 L258 417.3 L34 417.3Z" fill="#fff900"/>
<path d="M34 306.4 L40.7 309.3 L50.4 313.4 L60 317.3 L68.7 320.7 L77.5 323.9 L86 326.9 L94.3 329.6 L102.4 331.9 L110 334 L117 335.7 L123.5 337.1 L130 338.2 L136.5 339.2 L143 339.9 L150 340 L157.6 339.3 L165.7 338 L175 336.5 L185.8 334.7 L197.8 332.7 L211 330.5 L227.6 328 L245.4 325.4 L258 323.5 L258 417.3 L34 417.3Z" fill="#f9ff06"/>
<path d="M34 307.4 L40.7 310.3 L50.4 314.4 L60 318.4 L68.7 321.8 L77.5 325 L86 328 L94.3 330.7 L102.4 333.1 L110 335.2 L117 336.9 L123.5 338.3 L130 339.5 L136.5 340.5 L143 341.2 L150 341.3 L157.6 340.6 L165.7 339.3 L175 337.6 L185.8 335.8 L197.8 333.7 L211 331.6 L227.6 329 L245.4 326.4 L258 324.6 L258 417.3 L34 417.3Z" fill="#ecff13"/>
<path d="M34 308.4 L40.7 311.3 L50.4 315.5 L60 319.4 L68.7 322.9 L77.5 326.1 L86 329.1 L94.3 331.8 L102.4 334.3 L110 336.4 L117 338.2 L123.5 339.6 L130 340.8 L136.5 341.8 L143 342.5 L150 342.6 L157.6 341.8 L165.7 340.5 L175 338.8 L185.8 336.9 L197.8 334.8 L211 332.6 L227.6 330.1 L245.4 327.4 L258 325.6 L258 417.3 L34 417.3Z" fill="#dfff20"/>
<path d="M34 309.4 L40.7 312.4 L50.4 316.5 L60 320.5 L68.7 323.9 L77.5 327.2 L86 330.2 L94.3 333 L102.4 335.4 L110 337.6 L117 339.4 L123.5 340.9 L130 342 L136.5 343.1 L143 343.8 L150 343.9 L157.6 343.1 L165.7 341.7 L175 339.9 L185.8 338.1 L197.8 335.9 L211 333.6 L227.6 331.1 L245.4 328.5 L258 326.6 L258 417.3 L34 417.3Z" fill="#d2ff2d"/>
<path d="M34 310.4 L40.7 313.4 L50.4 317.6 L60 321.6 L68.7 325 L77.5 328.3 L86 331.3 L94.3 334.1 L102.4 336.6 L110 338.8 L117 340.6 L123.5 342.1 L130 343.3 L136.5 344.4 L143 345.1 L150 345.2 L157.6 344.4 L165.7 342.9 L175 341.1 L185.8 339.2 L197.8 337 L211 334.7 L227.6 332.2 L245.4 329.5 L258 327.7 L258 417.3 L34 417.3Z" fill="#c6ff39"/>
<path d="M34 311.4 L40.7 314.4 L50.4 318.6 L60 322.6 L68.7 326.1 L77.5 329.4 L86 332.4 L94.3 335.2 L102.4 337.8 L110 340 L117 341.9 L123.5 343.4 L130 344.6 L136.5 345.7 L143 346.4 L150 346.5 L157.6 345.6 L165.7 344.1 L175 342.2 L185.8 340.3 L197.8 338 L211 335.8 L227.6 333.2 L245.4 330.6 L258 328.8 L258 417.3 L34 417.3Z" fill="#b9ff46"/>
<path d="M34 312.5 L40.7 315.4 L50.4 319.7 L60 323.7 L68.7 327.2 L77.5 330.5 L86 333.6 L94.3 336.4 L102.4 339 L110 341.2 L117 343.1 L123.5 344.6 L130 345.9 L136.5 347 L143 347.7 L150 347.8 L157.6 346.9 L165.7 345.3 L175 343.4 L185.8 341.4 L197.8 339.1 L211 336.8 L227.6 334.2 L245.4 331.6 L258 329.8 L258 417.3 L34 417.3Z" fill="#acff53"/>
<path d="M34 313.5 L40.7 316.5 L50.4 320.7 L60 324.8 L68.7 328.3 L77.5 331.6 L86 334.7 L94.3 337.5 L102.4 340.1 L110 342.4 L117 344.3 L123.5 345.9 L130 347.2 L136.5 348.3 L143 349 L150 349.1 L157.6 348.1 L165.7 346.5 L175 344.6 L185.8 342.5 L197.8 340.2 L211 337.9 L227.6 335.3 L245.4 332.7 L258 330.9 L258 417.3 L34 417.3Z" fill="#9fff60"/>
<path d="M34 314.5 L40.7 317.5 L50.4 321.8 L60 325.9 L68.7 329.4 L77.5 332.7 L86 335.8 L94.3 338.7 L102.4 341.3 L110 343.6 L117 345.5 L123.5 347.2 L130 348.4 L136.5 349.6 L143 350.3 L150 350.4 L157.6 349.4 L165.7 347.7 L175 345.7 L185.8 343.6 L197.8 341.3 L211 338.9 L227.6 336.3 L245.4 333.7 L258 331.9 L258 417.3 L34 417.3Z" fill="#93ff6c"/>
<path d="M34 315.5 L40.7 318.5 L50.4 322.8 L60 326.9 L68.7 330.4 L77.5 333.8 L86 336.9 L94.3 339.8 L102.4 342.5 L110 344.8 L117 346.8 L123.5 348.4 L130 349.7 L136.5 350.9 L143 351.7 L150 351.7 L157.6 350.7 L165.7 348.9 L175 346.9 L185.8 344.7 L197.8 342.3 L211 339.9 L227.6 337.4 L245.4 334.8 L258 332.9 L258 417.3 L34 417.3Z" fill="#86ff79"/>
<path d="M34 316.5 L40.7 319.5 L50.4 323.9 L60 328 L68.7 331.5 L77.5 334.9 L86 338 L94.3 340.9 L102.4 343.6 L110 346 L117 348 L123.5 349.7 L130 351 L136.5 352.1 L143 353 L150 353 L157.6 351.9 L165.7 350.1 L175 348 L185.8 345.8 L197.8 343.4 L211 341 L227.6 338.4 L245.4 335.8 L258 334 L258 417.3 L34 417.3Z" fill="#79ff86"/>
<path d="M34 317.6 L40.7 320.6 L50.4 324.9 L60 329 L68.7 332.6 L77.5 335.9 L86 339.1 L94.3 342 L102.4 344.8 L110 347.2 L117 349.3 L123.5 351 L130 352.4 L136.5 353.6 L143 354.5 L150 354.6 L157.6 353.5 L165.7 351.6 L175 349.4 L185.8 347.1 L197.8 344.7 L211 342.2 L227.6 339.6 L245.4 336.9 L258 335.1 L258 417.3 L34 417.3Z" fill="#6cff93"/>
<path d="M34 318.6 L40.7 321.6 L50.4 325.9 L60 330 L68.7 333.6 L77.5 337 L86 340.2 L94.3 343.2 L102.4 345.9 L110 348.4 L117 350.5 L123.5 352.3 L130 353.8 L136.5 355.1 L143 356.1 L150 356.2 L157.6 355.1 L165.7 353 L175 350.8 L185.8 348.5 L197.8 345.9 L211 343.4 L227.6 340.7 L245.4 338.1 L258 336.2 L258 417.3 L34 417.3Z" fill="#60ff9f"/>
<path d="M34 319.6 L40.7 322.7 L50.4 326.9 L60 331.1 L68.7 334.6 L77.5 338.1 L86 341.3 L94.3 344.3 L102.4 347.1 L110 349.6 L117 351.8 L123.5 353.7 L130 355.2 L136.5 356.6 L143 357.7 L150 357.8 L157.6 356.6 L165.7 354.5 L175 352.2 L185.8 349.8 L197.8 347.2 L211 344.6 L227.6 341.9 L245.4 339.2 L258 337.3 L258 417.3 L34 417.3Z" fill="#53ffac"/>
<path d="M34 320.7 L40.7 323.7 L50.4 327.9 L60 332.1 L68.7 335.7 L77.5 339.1 L86 342.4 L94.3 345.4 L102.4 348.3 L110 350.8 L117 353 L123.5 355 L130 356.6 L136.5 358.1 L143 359.2 L150 359.4 L157.6 358.2 L165.7 356 L175 353.6 L185.8 351.1 L197.8 348.4 L211 345.8 L227.6 343 L245.4 340.3 L258 338.4 L258 417.3 L34 417.3Z" fill="#46ffb9"/>
<path d="M34 321.8 L40.7 324.7 L50.4 329 L60 333.1 L68.7 336.7 L77.5 340.2 L86 343.4 L94.3 346.5 L102.4 349.4 L110 352 L117 354.3 L123.5 356.3 L130 358 L136.5 359.6 L143 360.8 L150 361 L157.6 359.7 L165.7 357.5 L175 355 L185.8 352.5 L197.8 349.7 L211 347 L227.6 344.2 L245.4 341.4 L258 339.5 L258 417.3 L34 417.3Z" fill="#39ffc6"/>
<path d="M34 322.8 L40.7 325.8 L50.4 330 L60 334.1 L68.7 337.7 L77.5 341.2 L86 344.5 L94.3 347.6 L102.4 350.6 L110 353.2 L117 355.6 L123.5 357.6 L130 359.4 L136.5 361 L143 362.3 L150 362.6 L157.6 361.3 L165.7 359 L175 356.4 L185.8 353.8 L197.8 351 L211 348.2 L227.6 345.3 L245.4 342.5 L258 340.6 L258 417.3 L34 417.3Z" fill="#2dffd2"/>
<path d="M34 323.9 L40.7 326.8 L50.4 331 L60 335.1 L68.7 338.8 L77.5 342.3 L86 345.6 L94.3 348.8 L102.4 351.7 L110 354.4 L117 356.8 L123.5 359 L130 360.8 L136.5 362.5 L143 363.9 L150 364.2 L157.6 362.9 L165.7 360.4 L175 357.8 L185.8 355.1 L197.8 352.2 L211 349.4 L227.6 346.5 L245.4 343.7 L258 341.7 L258 417.3 L34 417.3Z" fill="#20ffdf"/>
<path d="M34 324.9 L40.7 327.8 L50.4 332 L60 336.2 L68.7 339.8 L77.5 343.4 L86 346.7 L94.3 349.9 L102.4 352.9 L110 355.6 L117 358.1 L123.5 360.3 L130 362.2 L136.5 364 L143 365.5 L150 365.8 L157.6 364.4 L165.7 361.9 L175 359.2 L185.8 356.5 L197.8 353.5 L211 350.6 L227.6 347.7 L245.4 344.8 L258 342.8 L258 417.3 L34 417.3Z" fill="#13ffec"/>
<path d="M34 325.9 L40.7 328.9 L50.4 333.1 L60 337.2 L68.7 340.8 L77.5 344.4 L86 347.8 L94.3 351 L102.4 354 L110 356.8 L117 359.3 L123.5 361.6 L130 363.6 L136.5 365.5 L143 367 L150 367.4 L157.6 366 L165.7 363.4 L175 360.6 L185.8 357.8 L197.8 354.7 L211 351.8 L227.6 348.8 L245.4 345.9 L258 343.9 L258 417.3 L34 417.3Z" fill="#06fff9"/>
<path d="M34 327 L40.7 329.9 L50.4 334.1 L60 338.2 L68.7 341.9 L77.5 345.5 L86 348.9 L94.3 352.1 L102.4 355.2 L110 358 L117 360.6 L123.5 363 L130 365 L136.5 367 L143 368.6 L150 369 L157.6 367.6 L165.7 364.9 L175 362 L185.8 359.1 L197.8 356 L211 353 L227.6 350 L245.4 347 L258 345 L258 417.3 L34 417.3Z" fill="#00f9ff"/>
<path d="M34 328 L40.7 330.9 L50.4 335 L60 339.1 L68.7 342.8 L77.5 346.4 L86 349.8 L94.3 353 L102.4 356.1 L110 358.9 L117 361.4 L123.5 363.7 L130 365.6 L136.5 367.6 L143 369.2 L150 369.6 L157.6 368.2 L165.7 365.6 L175 362.8 L185.8 360 L197.8 356.9 L211 353.9 L227.6 350.9 L245.4 348 L258 346 L258 417.3 L34 417.3Z" fill="#00ecff"/>
<path d="M34 329 L40.7 331.9 L50.4 336 L60 340.1 L68.7 343.7 L77.5 347.3 L86 350.7 L94.3 354 L102.4 357 L110 359.8 L117 362.3 L123.5 364.4 L130 366.3 L136.5 368.2 L143 369.8 L150 370.2 L157.6 368.9 L165.7 366.4 L175 363.6 L185.8 360.8 L197.8 357.7 L211 354.8 L227.6 351.8 L245.4 349 L258 347 L258 417.3 L34 417.3Z" fill="#00dfff"/>
<path d="M34 330 L40.7 332.9 L50.4 336.9 L60 341 L68.7 344.6 L77.5 348.2 L86 351.6 L94.3 354.9 L102.4 357.9 L110 360.7 L117 363.1 L123.5 365.1 L130 366.9 L136.5 368.8 L143 370.4 L150 370.8 L157.6 369.5 L165.7 367.1 L175 364.4 L185.8 361.6 L197.8 358.6 L211 355.7 L227.6 352.8 L245.4 350 L258 348 L258 417.3 L34 417.3Z" fill="#00d2ff"/>
<path d="M34 331 L40.7 333.8 L50.4 337.9 L60 341.9 L68.7 345.5 L77.5 349.1 L86 352.5 L94.3 355.8 L102.4 358.9 L110 361.6 L117 363.9 L123.5 365.9 L130 367.6 L136.5 369.4 L143 371 L150 371.4 L157.6 370.2 L165.7 367.8 L175 365.2 L185.8 362.5 L197.8 359.5 L211 356.6 L227.6 353.7 L245.4 350.9 L258 349 L258 417.3 L34 417.3Z" fill="#00c6ff"/>
<path d="M34 332 L40.7 334.8 L50.4 338.9 L60 342.9 L68.7 346.5 L77.5 350 L86 353.4 L94.3 356.7 L102.4 359.8 L110 362.5 L117 364.7 L123.5 366.6 L130 368.2 L136.5 370 L143 371.5 L150 372 L157.6 370.8 L165.7 368.5 L175 366 L185.8 363.3 L197.8 360.4 L211 357.5 L227.6 354.6 L245.4 351.9 L258 350 L258 417.3 L34 417.3Z" fill="#00b9ff"/>
<path d="M34 333 L40.7 335.8 L50.4 339.8 L60 343.8 L68.7 347.4 L77.5 351 L86 354.4 L94.3 357.6 L102.4 360.7 L110 363.4 L117 365.6 L123.5 367.3 L130 368.9 L136.5 370.6 L143 372.1 L150 372.6 L157.6 371.5 L165.7 369.3 L175 366.8 L185.8 364.2 L197.8 361.2 L211 358.4 L227.6 355.6 L245.4 352.9 L258 351 L258 417.3 L34 417.3Z" fill="#00acff"/>
<path d="M34 334 L40.7 336.8 L50.4 340.8 L60 344.7 L68.7 348.3 L77.5 351.9 L86 355.3 L94.3 358.5 L102.4 361.6 L110 364.3 L117 366.4 L123.5 368.1 L130 369.6 L136.5 371.2 L143 372.7 L150 373.2 L157.6 372.1 L165.7 370 L175 367.6 L185.8 365 L197.8 362.1 L211 359.3 L227.6 356.5 L245.4 353.9 L258 352 L258 417.3 L34 417.3Z" fill="#009fff"/>
<path d="M34 335 L40.7 337.8 L50.4 341.7 L60 345.6 L68.7 349.2 L77.5 352.8 L86 356.2 L94.3 359.4 L102.4 362.5 L110 365.2 L117 367.2 L123.5 368.8 L130 370.2 L136.5 371.8 L143 373.3 L150 373.8 L157.6 372.8 L165.7 370.7 L175 368.4 L185.8 365.8 L197.8 363 L211 360.2 L227.6 357.5 L245.4 354.8 L258 353 L258 417.3 L34 417.3Z" fill="#0093ff"/>
<path d="M34 336 L40.7 338.7 L50.4 342.7 L60 346.6 L68.7 350.1 L77.5 353.7 L86 357.1 L94.3 360.4 L102.4 363.5 L110 366.1 L117 368 L123.5 369.5 L130 370.9 L136.5 372.4 L143 373.9 L150 374.4 L157.6 373.4 L165.7 371.5 L175 369.2 L185.8 366.7 L197.8 363.8 L211 361.1 L227.6 358.4 L245.4 355.8 L258 354 L258 417.3 L34 417.3Z" fill="#0086ff"/>
<path d="M34 337 L40.7 339.7 L50.4 343.6 L60 347.5 L68.7 351.1 L77.5 354.6 L86 358 L94.3 361.3 L102.4 364.4 L110 367 L117 368.9 L123.5 370.2 L130 371.5 L136.5 373.1 L143 374.5 L150 375 L157.6 374.1 L165.7 372.2 L175 370 L185.8 367.5 L197.8 364.7 L211 362 L227.6 359.3 L245.4 356.8 L258 355 L258 417.3 L34 417.3Z" fill="#0079ff"/>
<path d="M34 337.9 L40.7 340.7 L50.4 344.5 L60 348.4 L68.7 351.9 L77.5 355.5 L86 358.9 L94.3 362.2 L102.4 365.3 L110 367.9 L117 369.8 L123.5 371.1 L130 372.4 L136.5 373.9 L143 375.3 L150 375.8 L157.6 374.9 L165.7 373 L175 370.8 L185.8 368.3 L197.8 365.5 L211 362.8 L227.6 360.1 L245.4 357.6 L258 355.8 L258 417.3 L34 417.3Z" fill="#006cff"/>
<path d="M34 338.9 L40.7 341.6 L50.4 345.4 L60 349.3 L68.7 352.8 L77.5 356.4 L86 359.8 L94.3 363.1 L102.4 366.2 L110 368.8 L117 370.6 L123.5 372 L130 373.2 L136.5 374.7 L143 376.1 L150 376.6 L157.6 375.7 L165.7 373.8 L175 371.6 L185.8 369.1 L197.8 366.3 L211 363.6 L227.6 360.9 L245.4 358.4 L258 356.6 L258 417.3 L34 417.3Z" fill="#0060ff"/>
<path d="M34 339.8 L40.7 342.5 L50.4 346.3 L60 350.2 L68.7 353.7 L77.5 357.3 L86 360.7 L94.3 364 L102.4 367.1 L110 369.7 L117 371.5 L123.5 372.8 L130 374.1 L136.5 375.5 L143 376.9 L150 377.4 L157.6 376.5 L165.7 374.6 L175 372.4 L185.8 369.9 L197.8 367.1 L211 364.4 L227.6 361.7 L245.4 359.2 L258 357.4 L258 417.3 L34 417.3Z" fill="#0053ff"/>
<path d="M34 340.8 L40.7 343.4 L50.4 347.3 L60 351.1 L68.7 354.6 L77.5 358.2 L86 361.6 L94.3 364.9 L102.4 368 L110 370.6 L117 372.4 L123.5 373.7 L130 374.9 L136.5 376.4 L143 377.8 L150 378.2 L157.6 377.3 L165.7 375.4 L175 373.2 L185.8 370.7 L197.8 367.9 L211 365.2 L227.6 362.5 L245.4 360 L258 358.2 L258 417.3 L34 417.3Z" fill="#0046ff"/>
<path d="M34 341.7 L40.7 344.4 L50.4 348.2 L60 352 L68.7 355.5 L77.5 359.1 L86 362.4 L94.3 365.7 L102.4 368.9 L110 371.5 L117 373.3 L123.5 374.6 L130 375.8 L136.5 377.2 L143 378.6 L150 379 L157.6 378.1 L165.7 376.2 L175 374 L185.8 371.5 L197.8 368.7 L211 366 L227.6 363.3 L245.4 360.8 L258 359 L258 417.3 L34 417.3Z" fill="#0039ff"/>
<path d="M34 342.6 L40.7 345.3 L50.4 349.1 L60 352.9 L68.7 356.4 L77.5 360 L86 363.3 L94.3 366.6 L102.4 369.8 L110 372.4 L117 374.2 L123.5 375.5 L130 376.6 L136.5 378 L143 379.4 L150 379.8 L157.6 378.9 L165.7 377 L175 374.8 L185.8 372.3 L197.8 369.5 L211 366.8 L227.6 364.1 L245.4 361.6 L258 359.8 L258 417.3 L34 417.3Z" fill="#002dff"/>
<path d="M34 343.6 L40.7 346.2 L50.4 350 L60 353.8 L68.7 357.3 L77.5 360.8 L86 364.2 L94.3 367.5 L102.4 370.7 L110 373.3 L117 375.1 L123.5 376.3 L130 377.4 L136.5 378.9 L143 380.2 L150 380.6 L157.6 379.6 L165.7 377.8 L175 375.6 L185.8 373.1 L197.8 370.3 L211 367.6 L227.6 364.9 L245.4 362.4 L258 360.6 L258 417.3 L34 417.3Z" fill="#0020ff"/>
<path d="M34 344.5 L40.7 347.2 L50.4 350.9 L60 354.7 L68.7 358.2 L77.5 361.7 L86 365.1 L94.3 368.4 L102.4 371.6 L110 374.2 L117 376 L123.5 377.2 L130 378.3 L136.5 379.7 L143 381 L150 381.4 L157.6 380.4 L165.7 378.6 L175 376.4 L185.8 373.9 L197.8 371.1 L211 368.4 L227.6 365.7 L245.4 363.2 L258 361.4 L258 417.3 L34 417.3Z" fill="#0013ff"/>
<path d="M34 345.5 L40.7 348.1 L50.4 351.8 L60 355.6 L68.7 359.1 L77.5 362.6 L86 366 L94.3 369.3 L102.4 372.5 L110 375.1 L117 376.9 L123.5 378.1 L130 379.1 L136.5 380.5 L143 381.8 L150 382.2 L157.6 381.2 L165.7 379.4 L175 377.2 L185.8 374.7 L197.8 371.9 L211 369.2 L227.6 366.5 L245.4 364 L258 362.2 L258 417.3 L34 417.3Z" fill="#0006ff"/>
<path d="M34 346.4 L40.7 349 L50.4 352.7 L60 356.5 L68.7 360 L77.5 363.5 L86 366.9 L94.3 370.2 L102.4 373.4 L110 376 L117 377.7 L123.5 378.9 L130 380 L136.5 381.4 L143 382.6 L150 383 L157.6 382 L165.7 380.2 L175 378 L185.8 375.5 L197.8 372.7 L211 370 L227.6 367.3 L245.4 364.8 L258 363 L258 417.3 L34 417.3Z" fill="#0000f9"/>
<path d="M34 347 L40.7 349.6 L50.4 353.4 L60 357.1 L68.7 360.6 L77.5 364.2 L86 367.6 L94.3 370.9 L102.4 374.1 L110 376.8 L117 378.6 L123.5 379.8 L130 380.9 L136.5 382.3 L143 383.5 L150 383.9 L157.6 382.9 L165.7 381.1 L175 378.9 L185.8 376.4 L197.8 373.6 L211 370.9 L227.6 368.2 L245.4 365.7 L258 363.9 L258 417.3 L34 417.3Z" fill="#0000ec"/>
<path d="M34 347.6 L40.7 350.3 L50.4 354 L60 357.8 L68.7 361.3 L77.5 364.8 L86 368.2 L94.3 371.6 L102.4 374.9 L110 377.6 L117 379.4 L123.5 380.7 L130 381.8 L136.5 383.2 L143 384.4 L150 384.8 L157.6 383.8 L165.7 382 L175 379.8 L185.8 377.3 L197.8 374.5 L211 371.8 L227.6 369.1 L245.4 366.6 L258 364.8 L258 417.3 L34 417.3Z" fill="#0000df"/>
<path d="M34 348.2 L40.7 350.9 L50.4 354.6 L60 358.4 L68.7 361.9 L77.5 365.5 L86 368.9 L94.3 372.3 L102.4 375.6 L110 378.4 L117 380.3 L123.5 381.6 L130 382.7 L136.5 384.1 L143 385.3 L150 385.7 L157.6 384.7 L165.7 382.9 L175 380.7 L185.8 378.2 L197.8 375.4 L211 372.7 L227.6 370 L245.4 367.5 L258 365.7 L258 417.3 L34 417.3Z" fill="#0000d2"/>
<path d="M34 348.8 L40.7 351.5 L50.4 355.3 L60 359.1 L68.7 362.6 L77.5 366.1 L86 369.5 L94.3 373 L102.4 376.4 L110 379.2 L117 381.1 L123.5 382.4 L130 383.6 L136.5 385 L143 386.2 L150 386.6 L157.6 385.6 L165.7 383.8 L175 381.6 L185.8 379.1 L197.8 376.3 L211 373.6 L227.6 370.9 L245.4 368.4 L258 366.6 L258 417.3 L34 417.3Z" fill="#0000c6"/>
<path d="M34 349.4 L40.7 352.1 L50.4 355.9 L60 359.8 L68.7 363.2 L77.5 366.8 L86 370.2 L94.3 373.7 L102.4 377.1 L110 380 L117 381.9 L123.5 383.3 L130 384.5 L136.5 385.9 L143 387.1 L150 387.5 L157.6 386.5 L165.7 384.7 L175 382.5 L185.8 380 L197.8 377.2 L211 374.5 L227.6 371.8 L245.4 369.3 L258 367.5 L258 417.3 L34 417.3Z" fill="#0000b9"/>
<path d="M34 350.1 L40.7 352.7 L50.4 356.6 L60 360.4 L68.7 363.9 L77.5 367.4 L86 370.9 L94.3 374.4 L102.4 377.9 L110 380.8 L117 382.8 L123.5 384.2 L130 385.4 L136.5 386.8 L143 388.1 L150 388.4 L157.6 387.4 L165.7 385.6 L175 383.4 L185.8 380.9 L197.8 378.1 L211 375.4 L227.6 372.7 L245.4 370.2 L258 368.4 L258 417.3 L34 417.3Z" fill="#0000ac"/>
<path d="M34 350.7 L40.7 353.4 L50.4 357.2 L60 361.1 L68.7 364.5 L77.5 368.1 L86 371.5 L94.3 375.1 L102.4 378.7 L110 381.6 L117 383.6 L123.5 385.1 L130 386.3 L136.5 387.7 L143 389 L150 389.3 L157.6 388.3 L165.7 386.5 L175 384.3 L185.8 381.8 L197.8 379 L211 376.3 L227.6 373.6 L245.4 371.1 L258 369.3 L258 417.3 L34 417.3Z" fill="#00009f"/>
<path d="M34 351.3 L40.7 354 L50.4 357.8 L60 361.7 L68.7 365.2 L77.5 368.7 L86 372.2 L94.3 375.8 L102.4 379.4 L110 382.4 L117 384.5 L123.5 385.9 L130 387.2 L136.5 388.6 L143 389.9 L150 390.2 L157.6 389.2 L165.7 387.4 L175 385.2 L185.8 382.7 L197.8 379.9 L211 377.2 L227.6 374.5 L245.4 372 L258 370.2 L258 417.3 L34 417.3Z" fill="#000093"/>
<path d="M34 351.9 L40.7 354.6 L50.4 358.5 L60 362.4 L68.7 365.8 L77.5 369.4 L86 372.8 L94.3 376.5 L102.4 380.2 L110 383.2 L117 385.3 L123.5 386.8 L130 388.1 L136.5 389.5 L143 390.8 L150 391.1 L157.6 390.1 L165.7 388.3 L175 386.1 L185.8 383.6 L197.8 380.8 L211 378.1 L227.6 375.4 L245.4 372.9 L258 371.1 L258 417.3 L34 417.3Z" fill="#000086"/>
<path d="M34 352.5 L40.7 355.2 L50.4 359.1 L60 363 L68.7 366.5 L77.5 370 L86 373.5 L94.3 377.2 L102.4 380.9 L110 384 L117 386.1 L123.5 387.7 L130 389 L136.5 390.4 L143 391.7 L150 392 L157.6 391 L165.7 389.2 L175 387 L185.8 384.5 L197.8 381.7 L211 379 L227.6 376.3 L245.4 373.8 L258 372 L258 417.3 L34 417.3Z" fill="#000080"/>
</g>
<path d="M93.6 374.5 L137 381.8 L137 396 L93.6 378.6Z" fill="#00008f"/>
<path d="M93.6 374.9 L137 378 L137 382.1Z" fill="#0030f0"/>
<defs><linearGradient id="pat" gradientUnits="userSpaceOnUse" x1="115" y1="365" x2="112" y2="377"><stop offset="0" stop-color="#14b0ff"/><stop offset="0.45" stop-color="#1c68ff"/><stop offset="1" stop-color="#1458fa"/></linearGradient></defs>
<path d="M93.6 360.9 L137 371.5 L137 378.3 L93.6 374.9Z" fill="url(#pat)"/>
<line x1="38.6" y1="373" x2="38.6" y2="276" stroke="#5e5e5e" stroke-width="0.6"/>
<line x1="38.6" y1="373" x2="148" y2="417.6" stroke="#5e5e5e" stroke-width="0.6"/>
<line x1="148" y1="417.6" x2="289.6" y2="383.6" stroke="#5e5e5e" stroke-width="0.6"/>
<line x1="38.6" y1="373" x2="35.8" y2="372.2" stroke="#5e5e5e" stroke-width="0.6"/>
<text transform="translate(32.6,374.6) scale(1.270,1)" font-family='"Liberation Sans", sans-serif' font-size="7.30" text-anchor="end" fill="#333">0</text>
<line x1="38.6" y1="353.6" x2="35.8" y2="352.8" stroke="#5e5e5e" stroke-width="0.6"/>
<text transform="translate(32.6,355.2) scale(1.270,1)" font-family='"Liberation Sans", sans-serif' font-size="7.30" text-anchor="end" fill="#333">0.2</text>
<line x1="38.6" y1="334.2" x2="35.8" y2="333.4" stroke="#5e5e5e" stroke-width="0.6"/>
<text transform="translate(32.6,335.8) scale(1.270,1)" font-family='"Liberation Sans", sans-serif' font-size="7.30" text-anchor="end" fill="#333">0.4</text>
<line x1="38.6" y1="314.8" x2="35.8" y2="314" stroke="#5e5e5e" stroke-width="0.6"/>
<text transform="translate(32.6,316.4) scale(1.270,1)" font-family='"Liberation Sans", sans-serif' font-size="7.30" text-anchor="end" fill="#333">0.6</text>
<line x1="38.6" y1="295.4" x2="35.8" y2="294.6" stroke="#5e5e5e" stroke-width="0.6"/>
<text transform="translate(32.6,297) scale(1.270,1)" font-family='"Liberation Sans", sans-serif' font-size="7.30" text-anchor="end" fill="#333">0.8</text>
<line x1="38.6" y1="276" x2="35.8" y2="275.2" stroke="#5e5e5e" stroke-width="0.6"/>
<text transform="translate(32.6,277.6) scale(1.270,1)" font-family='"Liberation Sans", sans-serif' font-size="7.30" text-anchor="end" fill="#333">1</text>
<line x1="38.6" y1="373" x2="35.6" y2="373.9" stroke="#5e5e5e" stroke-width="0.6"/>
<text transform="translate(30,383.2) scale(1.270,1)" font-family='"Liberation Sans", sans-serif' font-size="7.30" text-anchor="middle" fill="#333">1</text>
<line x1="93.3" y1="395.3" x2="90.3" y2="396.2" stroke="#5e5e5e" stroke-width="0.6"/>
<text transform="translate(80,404.8) scale(1.270,1)" font-family='"Liberation Sans", sans-serif' font-size="7.30" text-anchor="middle" fill="#333">0.5</text>
<line x1="148" y1="417.6" x2="145" y2="418.5" stroke="#5e5e5e" stroke-width="0.6"/>
<text transform="translate(138,426.6) scale(1.270,1)" font-family='"Liberation Sans", sans-serif' font-size="7.30" text-anchor="middle" fill="#333">0</text>
<line x1="148" y1="417.6" x2="150.6" y2="418.8" stroke="#5e5e5e" stroke-width="0.6"/>
<text transform="translate(156.4,428.4) scale(1.270,1)" font-family='"Liberation Sans", sans-serif' font-size="7.30" text-anchor="middle" fill="#333">0</text>
<line x1="195.2" y1="406.3" x2="197.8" y2="407.5" stroke="#5e5e5e" stroke-width="0.6"/>
<text transform="translate(206.4,417.1) scale(1.270,1)" font-family='"Liberation Sans", sans-serif' font-size="7.30" text-anchor="middle" fill="#333">20</text>
<line x1="242.4" y1="394.9" x2="245" y2="396.1" stroke="#5e5e5e" stroke-width="0.6"/>
<text transform="translate(253.8,405.8) scale(1.270,1)" font-family='"Liberation Sans", sans-serif' font-size="7.30" text-anchor="middle" fill="#333">40</text>
<line x1="289.6" y1="383.6" x2="292.2" y2="384.8" stroke="#5e5e5e" stroke-width="0.6"/>
<text transform="translate(301,394.2) scale(1.270,1)" font-family='"Liberation Sans", sans-serif' font-size="7.30" text-anchor="middle" fill="#333">60</text>
<text transform="translate(91.5,425.8) scale(1.200,1)" font-family='"Liberation Sans", sans-serif' font-size="7.80" text-anchor="middle" fill="#333" font-style="italic">ξ</text>
<text transform="translate(219.5,429.2) scale(1.270,1)" font-family='"Liberation Sans", sans-serif' font-size="7.60" text-anchor="middle" fill="#333">Time</text>
<text transform="translate(13.2,325) scale(1.270,1) rotate(-90)" font-family='"Liberation Sans", sans-serif' font-size="7.40" text-anchor="middle" fill="#333">I(t)</text>
<rect x="315.2" y="242.6" width="14" height="175.6" fill="url(#jet)" stroke="#666" stroke-width="0.45"/>
<line x1="326.6" y1="250.5" x2="329.2" y2="250.5" stroke="#444" stroke-width="0.6"/>
<text transform="translate(333,253.1) scale(1.140,1)" font-family='"Liberation Sans", sans-serif' font-size="7.30" text-anchor="start" fill="#333">0.9</text>
<line x1="326.6" y1="274" x2="329.2" y2="274" stroke="#444" stroke-width="0.6"/>
<text transform="translate(333,276.6) scale(1.140,1)" font-family='"Liberation Sans", sans-serif' font-size="7.30" text-anchor="start" fill="#333">0.8</text>
<line x1="326.6" y1="297.4" x2="329.2" y2="297.4" stroke="#444" stroke-width="0.6"/>
<text transform="translate(333,300) scale(1.140,1)" font-family='"Liberation Sans", sans-serif' font-size="7.30" text-anchor="start" fill="#333">0.7</text>
<line x1="326.6" y1="320.9" x2="329.2" y2="320.9" stroke="#444" stroke-width="0.6"/>
<text transform="translate(333,323.5) scale(1.140,1)" font-family='"Liberation Sans", sans-serif' font-size="7.30" text-anchor="start" fill="#333">0.6</text>
<line x1="326.6" y1="344.4" x2="329.2" y2="344.4" stroke="#444" stroke-width="0.6"/>
<text transform="translate(333,347) scale(1.140,1)" font-family='"Liberation Sans", sans-serif' font-size="7.30" text-anchor="start" fill="#333">0.5</text>
<line x1="326.6" y1="367.8" x2="329.2" y2="367.8" stroke="#444" stroke-width="0.6"/>
<text transform="translate(333,370.4) scale(1.140,1)" font-family='"Liberation Sans", sans-serif' font-size="7.30" text-anchor="start" fill="#333">0.4</text>
<line x1="326.6" y1="391.3" x2="329.2" y2="391.3" stroke="#444" stroke-width="0.6"/>
<text transform="translate(333,393.9) scale(1.140,1)" font-family='"Liberation Sans", sans-serif' font-size="7.30" text-anchor="start" fill="#333">0.3</text>
<line x1="326.6" y1="414.8" x2="329.2" y2="414.8" stroke="#444" stroke-width="0.6"/>
<text transform="translate(333,417.4) scale(1.140,1)" font-family='"Liberation Sans", sans-serif' font-size="7.30" text-anchor="start" fill="#333">0.2</text>
<line x1="85.8" y1="601.7" x2="195.2" y2="646.3" stroke="#e9e9e9" stroke-width="0.6"/>
<line x1="133" y1="590.3" x2="242.4" y2="634.9" stroke="#e9e9e9" stroke-width="0.6"/>
<line x1="180.2" y1="579" x2="289.6" y2="623.6" stroke="#e9e9e9" stroke-width="0.6"/>
<line x1="38.6" y1="613" x2="180.2" y2="579" stroke="#e9e9e9" stroke-width="0.6"/>
<line x1="93.3" y1="635.3" x2="234.9" y2="601.3" stroke="#e9e9e9" stroke-width="0.6"/>
<line x1="85.8" y1="601.7" x2="85.8" y2="506.1" stroke="#dcdcdc" stroke-width="0.6"/>
<line x1="133" y1="590.3" x2="133" y2="494.7" stroke="#dcdcdc" stroke-width="0.6"/>
<line x1="180.2" y1="579" x2="180.2" y2="483.4" stroke="#dcdcdc" stroke-width="0.6"/>
<line x1="235.1" y1="601.3" x2="235.1" y2="505.7" stroke="#dcdcdc" stroke-width="0.6"/>
<line x1="289.8" y1="623.6" x2="289.8" y2="528" stroke="#dcdcdc" stroke-width="0.6"/>
<line x1="38.6" y1="613" x2="180.4" y2="579" stroke="#e9e9e9" stroke-width="0.6"/>
<line x1="180.4" y1="579" x2="289.6" y2="623.6" stroke="#e9e9e9" stroke-width="0.6"/>
<line x1="38.6" y1="597.1" x2="180.4" y2="563.1" stroke="#e9e9e9" stroke-width="0.6"/>
<line x1="180.4" y1="563.1" x2="289.6" y2="607.7" stroke="#e9e9e9" stroke-width="0.6"/>
<line x1="38.6" y1="581.2" x2="180.4" y2="547.2" stroke="#e9e9e9" stroke-width="0.6"/>
<line x1="180.4" y1="547.2" x2="289.6" y2="591.8" stroke="#e9e9e9" stroke-width="0.6"/>
<line x1="38.6" y1="565.3" x2="180.4" y2="531.3" stroke="#e9e9e9" stroke-width="0.6"/>
<line x1="180.4" y1="531.3" x2="289.6" y2="575.9" stroke="#e9e9e9" stroke-width="0.6"/>
<line x1="38.6" y1="549.4" x2="180.4" y2="515.4" stroke="#e9e9e9" stroke-width="0.6"/>
<line x1="180.4" y1="515.4" x2="289.6" y2="560" stroke="#e9e9e9" stroke-width="0.6"/>
<line x1="38.6" y1="533.5" x2="180.4" y2="499.5" stroke="#e9e9e9" stroke-width="0.6"/>
<line x1="180.4" y1="499.5" x2="289.6" y2="544.1" stroke="#e9e9e9" stroke-width="0.6"/>
<line x1="38.6" y1="517.4" x2="180.4" y2="483.4" stroke="#e9e9e9" stroke-width="0.6"/>
<line x1="180.4" y1="483.4" x2="289.6" y2="528" stroke="#e9e9e9" stroke-width="0.6"/>
<mask id="ce" maskUnits="userSpaceOnUse" x="0" y="0" width="725" height="944"><path d="M38.6 613 L42 606 L46 592 L50 578 L55 564 L60 554 L66 544 L72 536 L80 528 L90 519 L100 512 L110 506 L120 501.4 L130 497 L145 492 L157 488.4 L165 502 L175 519 L185 534 L195 549 L205 562 L215 576 L225 588 L235 599 L245 609 L254.6 617.6 L211 628.6 L175 639 L145 648 L139 651 L136.8 653Z" fill="#fff"/></mask>
<g mask="url(#ce)">
<path d="M34 470 L42.2 470 L54 470 L66 470 L76.8 470 L87.8 470 L100 470 L114.4 470 L130 470 L145 470 L159.1 470 L172.6 470 L185 470 L195.3 470 L204.4 470 L215 470 L230 470 L246.4 470 L258 470 L258 670 L34 670Z" fill="#800000"/>
<path d="M34 496 L42.2 495.4 L54 494.7 L66 494 L76.8 493.6 L87.8 493.3 L100 493 L114.4 492.7 L130 492.4 L145 492 L159.1 491.4 L172.6 490.6 L185 490 L195.3 489.6 L204.4 489.3 L215 489 L230 488.6 L246.4 488.3 L258 488 L258 670 L34 670Z" fill="#860000"/>
<path d="M34 499.9 L42.2 499.3 L54 498.6 L66 497.8 L76.8 497.2 L87.8 496.6 L100 496 L114.4 495.5 L130 495 L145 494.4 L159.1 493.6 L172.6 492.8 L185 492.1 L195.3 491.6 L204.4 491.3 L215 490.9 L230 490.5 L246.4 490 L258 489.7 L258 670 L34 670Z" fill="#930000"/>
<path d="M34 503.8 L42.2 503.2 L54 502.4 L66 501.6 L76.8 500.7 L87.8 499.9 L100 499 L114.4 498.3 L130 497.5 L145 496.8 L159.1 495.9 L172.6 495 L185 494.2 L195.3 493.6 L204.4 493.2 L215 492.8 L230 492.3 L246.4 491.8 L258 491.4 L258 670 L34 670Z" fill="#9f0000"/>
<path d="M34 507.7 L42.2 507.1 L54 506.3 L66 505.4 L76.8 504.3 L87.8 503.1 L100 502 L114.4 501 L130 500.1 L145 499.2 L159.1 498.2 L172.6 497.2 L185 496.3 L195.3 495.7 L204.4 495.2 L215 494.7 L230 494.1 L246.4 493.5 L258 493.1 L258 670 L34 670Z" fill="#ac0000"/>
<path d="M34 511.6 L42.2 511 L54 510.2 L66 509.2 L76.8 507.9 L87.8 506.4 L100 505 L114.4 503.8 L130 502.7 L145 501.6 L159.1 500.5 L172.6 499.4 L185 498.4 L195.3 497.7 L204.4 497.1 L215 496.6 L230 495.9 L246.4 495.3 L258 494.8 L258 670 L34 670Z" fill="#b90000"/>
<path d="M34 515.5 L42.2 514.9 L54 514.1 L66 513 L76.8 511.5 L87.8 509.7 L100 508 L114.4 506.6 L130 505.3 L145 504 L159.1 502.7 L172.6 501.5 L185 500.5 L195.3 499.7 L204.4 499.1 L215 498.5 L230 497.8 L246.4 497 L258 496.5 L258 670 L34 670Z" fill="#c60000"/>
<path d="M34 519.4 L42.2 518.8 L54 518 L66 516.8 L76.8 515.1 L87.8 513 L100 511 L114.4 509.3 L130 507.8 L145 506.4 L159.1 505 L172.6 503.7 L185 502.6 L195.3 501.7 L204.4 501.1 L215 500.4 L230 499.6 L246.4 498.8 L258 498.2 L258 670 L34 670Z" fill="#d20000"/>
<path d="M34 523.3 L42.2 522.7 L54 521.9 L66 520.6 L76.8 518.6 L87.8 516.2 L100 514 L114.4 512.1 L130 510.4 L145 508.8 L159.1 507.3 L172.6 505.9 L185 504.7 L195.3 503.8 L204.4 503 L215 502.3 L230 501.4 L246.4 500.5 L258 499.9 L258 670 L34 670Z" fill="#df0000"/>
<path d="M34 527.2 L42.2 526.6 L54 525.8 L66 524.4 L76.8 522.2 L87.8 519.5 L100 517 L114.4 514.9 L130 513 L145 511.2 L159.1 509.6 L172.6 508.1 L185 506.8 L195.3 505.8 L204.4 505 L215 504.2 L230 503.2 L246.4 502.3 L258 501.6 L258 670 L34 670Z" fill="#ec0000"/>
<path d="M34 531.1 L42.2 530.5 L54 529.7 L66 528.2 L76.8 525.8 L87.8 522.8 L100 520 L114.4 517.7 L130 515.5 L145 513.6 L159.1 511.8 L172.6 510.3 L185 508.9 L195.3 507.8 L204.4 507 L215 506.1 L230 505.1 L246.4 504 L258 503.3 L258 670 L34 670Z" fill="#f90000"/>
<path d="M34 535 L42.2 534.4 L54 533.6 L66 532 L76.8 529.4 L87.8 526.1 L100 523 L114.4 520.4 L130 518.1 L145 516 L159.1 514.1 L172.6 512.4 L185 511 L195.3 509.9 L204.4 508.9 L215 508 L230 506.9 L246.4 505.8 L258 505 L258 670 L34 670Z" fill="#ff0600"/>
<path d="M34 535.6 L42.2 535.1 L54 534.3 L66 532.8 L76.8 530.4 L87.8 527.3 L100 524.4 L114.4 522 L130 519.8 L145 517.7 L159.1 515.8 L172.6 514.1 L185 512.6 L195.3 511.4 L204.4 510.5 L215 509.5 L230 508.4 L246.4 507.2 L258 506.4 L258 670 L34 670Z" fill="#ff1300"/>
<path d="M34 536.2 L42.2 535.7 L54 534.9 L66 533.6 L76.8 531.3 L87.8 528.5 L100 525.8 L114.4 523.5 L130 521.4 L145 519.4 L159.1 517.5 L172.6 515.7 L185 514.2 L195.3 513 L204.4 512 L215 511 L230 509.8 L246.4 508.6 L258 507.8 L258 670 L34 670Z" fill="#ff2000"/>
<path d="M34 536.8 L42.2 536.4 L54 535.6 L66 534.4 L76.8 532.3 L87.8 529.7 L100 527.2 L114.4 525.1 L130 523 L145 521.1 L159.1 519.2 L172.6 517.4 L185 515.8 L195.3 514.6 L204.4 513.5 L215 512.5 L230 511.3 L246.4 510.1 L258 509.2 L258 670 L34 670Z" fill="#ff2d00"/>
<path d="M34 537.4 L42.2 537 L54 536.3 L66 535.2 L76.8 533.3 L87.8 530.9 L100 528.6 L114.4 526.6 L130 524.7 L145 522.8 L159.1 520.9 L172.6 519 L185 517.4 L195.3 516.1 L204.4 515.1 L215 514 L230 512.7 L246.4 511.5 L258 510.6 L258 670 L34 670Z" fill="#ff3900"/>
<path d="M34 538 L42.2 537.6 L54 537 L66 536 L76.8 534.3 L87.8 532.1 L100 530 L114.4 528.1 L130 526.3 L145 524.5 L159.1 522.6 L172.6 520.7 L185 519 L195.3 517.7 L204.4 516.6 L215 515.5 L230 514.2 L246.4 512.9 L258 512 L258 670 L34 670Z" fill="#ff4600"/>
<path d="M34 538.6 L42.2 538.3 L54 537.7 L66 536.8 L76.8 535.3 L87.8 533.3 L100 531.4 L114.4 529.7 L130 528 L145 526.2 L159.1 524.3 L172.6 522.3 L185 520.6 L195.3 519.3 L204.4 518.1 L215 517 L230 515.7 L246.4 514.3 L258 513.4 L258 670 L34 670Z" fill="#ff5300"/>
<path d="M34 539.2 L42.2 538.9 L54 538.4 L66 537.6 L76.8 536.2 L87.8 534.5 L100 532.8 L114.4 531.2 L130 529.6 L145 527.9 L159.1 526 L172.6 524 L185 522.2 L195.3 520.8 L204.4 519.7 L215 518.5 L230 517.1 L246.4 515.8 L258 514.8 L258 670 L34 670Z" fill="#ff6000"/>
<path d="M34 539.8 L42.2 539.5 L54 539.1 L66 538.4 L76.8 537.2 L87.8 535.7 L100 534.2 L114.4 532.7 L130 531.2 L145 529.6 L159.1 527.7 L172.6 525.6 L185 523.8 L195.3 522.4 L204.4 521.2 L215 520 L230 518.6 L246.4 517.2 L258 516.2 L258 670 L34 670Z" fill="#ff6c00"/>
<path d="M34 540.4 L42.2 540.2 L54 539.8 L66 539.2 L76.8 538.2 L87.8 536.9 L100 535.6 L114.4 534.3 L130 532.9 L145 531.3 L159.1 529.4 L172.6 527.3 L185 525.4 L195.3 524 L204.4 522.7 L215 521.5 L230 520.1 L246.4 518.6 L258 517.6 L258 670 L34 670Z" fill="#ff7900"/>
<path d="M34 541 L42.2 540.8 L54 540.5 L66 540 L76.8 539.2 L87.8 538.1 L100 537 L114.4 535.8 L130 534.5 L145 533 L159.1 531.1 L172.6 528.9 L185 527 L195.3 525.5 L204.4 524.3 L215 523 L230 521.5 L246.4 520 L258 519 L258 670 L34 670Z" fill="#ff8600"/>
<path d="M34 541.8 L42.2 541.6 L54 541.4 L66 540.9 L76.8 540.2 L87.8 539.3 L100 538.3 L114.4 537.2 L130 536 L145 534.5 L159.1 532.6 L172.6 530.4 L185 528.4 L195.3 526.9 L204.4 525.6 L215 524.3 L230 522.8 L246.4 521.3 L258 520.2 L258 670 L34 670Z" fill="#ff9300"/>
<path d="M34 542.6 L42.2 542.4 L54 542.2 L66 541.8 L76.8 541.2 L87.8 540.5 L100 539.6 L114.4 538.6 L130 537.4 L145 536 L159.1 534.1 L172.6 531.8 L185 529.8 L195.3 528.3 L204.4 526.9 L215 525.6 L230 524 L246.4 522.5 L258 521.4 L258 670 L34 670Z" fill="#ff9f00"/>
<path d="M34 543.4 L42.2 543.3 L54 543 L66 542.7 L76.8 542.2 L87.8 541.7 L100 540.9 L114.4 540 L130 538.9 L145 537.5 L159.1 535.5 L172.6 533.3 L185 531.2 L195.3 529.6 L204.4 528.3 L215 526.9 L230 525.3 L246.4 523.7 L258 522.6 L258 670 L34 670Z" fill="#ffac00"/>
<path d="M34 544.2 L42.2 544.1 L54 543.9 L66 543.6 L76.8 543.3 L87.8 542.8 L100 542.2 L114.4 541.4 L130 540.4 L145 539 L159.1 537 L172.6 534.7 L185 532.6 L195.3 531 L204.4 529.6 L215 528.2 L230 526.6 L246.4 524.9 L258 523.8 L258 670 L34 670Z" fill="#ffb900"/>
<path d="M34 545 L42.2 544.9 L54 544.7 L66 544.5 L76.8 544.3 L87.8 544 L100 543.5 L114.4 542.8 L130 541.8 L145 540.5 L159.1 538.5 L172.6 536.1 L185 534 L195.3 532.4 L204.4 530.9 L215 529.5 L230 527.8 L246.4 526.2 L258 525 L258 670 L34 670Z" fill="#ffc600"/>
<path d="M34 545.8 L42.2 545.7 L54 545.6 L66 545.4 L76.8 545.3 L87.8 545.2 L100 544.8 L114.4 544.2 L130 543.3 L145 542 L159.1 540 L172.6 537.6 L185 535.4 L195.3 533.7 L204.4 532.3 L215 530.8 L230 529.1 L246.4 527.4 L258 526.2 L258 670 L34 670Z" fill="#ffd200"/>
<path d="M34 546.6 L42.2 546.5 L54 546.4 L66 546.3 L76.8 546.3 L87.8 546.3 L100 546.1 L114.4 545.6 L130 544.8 L145 543.5 L159.1 541.5 L172.6 539 L185 536.8 L195.3 535.1 L204.4 533.6 L215 532.1 L230 530.4 L246.4 528.6 L258 527.4 L258 670 L34 670Z" fill="#ffdf00"/>
<path d="M34 547.4 L42.2 547.3 L54 547.2 L66 547.2 L76.8 547.3 L87.8 547.5 L100 547.4 L114.4 547 L130 546.2 L145 545 L159.1 543 L172.6 540.5 L185 538.2 L195.3 536.5 L204.4 534.9 L215 533.4 L230 531.6 L246.4 529.8 L258 528.6 L258 670 L34 670Z" fill="#ffec00"/>
<path d="M34 548.2 L42.2 548.1 L54 548.1 L66 548.1 L76.8 548.4 L87.8 548.7 L100 548.7 L114.4 548.3 L130 547.7 L145 546.5 L159.1 544.5 L172.6 541.9 L185 539.6 L195.3 537.8 L204.4 536.3 L215 534.7 L230 532.9 L246.4 531.1 L258 529.8 L258 670 L34 670Z" fill="#fff900"/>
<path d="M34 549 L42.2 549 L54 548.9 L66 549 L76.8 549.4 L87.8 549.9 L100 550 L114.4 549.7 L130 549.1 L145 548 L159.1 546 L172.6 543.4 L185 541 L195.3 539.2 L204.4 537.6 L215 536 L230 534.1 L246.4 532.3 L258 531 L258 670 L34 670Z" fill="#f9ff06"/>
<path d="M34 550.7 L42.2 550.7 L54 550.6 L66 550.7 L76.8 551.1 L87.8 551.6 L100 551.8 L114.4 551.5 L130 550.9 L145 549.8 L159.1 547.8 L172.6 545.2 L185 542.8 L195.3 541 L204.4 539.4 L215 537.8 L230 535.9 L246.4 534.1 L258 532.8 L258 670 L34 670Z" fill="#ecff13"/>
<path d="M34 552.4 L42.2 552.4 L54 552.3 L66 552.4 L76.8 552.8 L87.8 553.3 L100 553.5 L114.4 553.3 L130 552.7 L145 551.6 L159.1 549.6 L172.6 547 L185 544.6 L195.3 542.8 L204.4 541.2 L215 539.6 L230 537.7 L246.4 535.9 L258 534.6 L258 670 L34 670Z" fill="#dfff20"/>
<path d="M34 554.1 L42.2 554.1 L54 554 L66 554.1 L76.8 554.5 L87.8 555 L100 555.2 L114.4 555 L130 554.5 L145 553.4 L159.1 551.4 L172.6 548.8 L185 546.4 L195.3 544.6 L204.4 543 L215 541.4 L230 539.5 L246.4 537.7 L258 536.4 L258 670 L34 670Z" fill="#d2ff2d"/>
<path d="M34 555.8 L42.2 555.8 L54 555.7 L66 555.8 L76.8 556.2 L87.8 556.8 L100 557 L114.4 556.8 L130 556.3 L145 555.2 L159.1 553.2 L172.6 550.6 L185 548.2 L195.3 546.4 L204.4 544.8 L215 543.2 L230 541.3 L246.4 539.5 L258 538.2 L258 670 L34 670Z" fill="#c6ff39"/>
<path d="M34 557.5 L42.2 557.5 L54 557.4 L66 557.5 L76.8 557.9 L87.8 558.5 L100 558.8 L114.4 558.6 L130 558.1 L145 557 L159.1 555 L172.6 552.4 L185 550 L195.3 548.2 L204.4 546.6 L215 545 L230 543.1 L246.4 541.3 L258 540 L258 670 L34 670Z" fill="#b9ff46"/>
<path d="M34 559.2 L42.2 559.2 L54 559.1 L66 559.2 L76.8 559.6 L87.8 560.2 L100 560.5 L114.4 560.4 L130 559.9 L145 558.8 L159.1 556.8 L172.6 554.2 L185 551.8 L195.3 550 L204.4 548.4 L215 546.8 L230 544.9 L246.4 543.1 L258 541.8 L258 670 L34 670Z" fill="#acff53"/>
<path d="M34 560.9 L42.2 560.9 L54 560.8 L66 560.9 L76.8 561.4 L87.8 562 L100 562.2 L114.4 562.1 L130 561.7 L145 560.6 L159.1 558.6 L172.6 556 L185 553.6 L195.3 551.8 L204.4 550.2 L215 548.6 L230 546.7 L246.4 544.9 L258 543.6 L258 670 L34 670Z" fill="#9fff60"/>
<path d="M34 562.6 L42.2 562.5 L54 562.5 L66 562.6 L76.8 563.1 L87.8 563.7 L100 564 L114.4 563.9 L130 563.4 L145 562.4 L159.1 560.4 L172.6 557.8 L185 555.4 L195.3 553.6 L204.4 552 L215 550.4 L230 548.5 L246.4 546.7 L258 545.4 L258 670 L34 670Z" fill="#93ff6c"/>
<path d="M34 564.3 L42.2 564.2 L54 564.2 L66 564.3 L76.8 564.8 L87.8 565.4 L100 565.8 L114.4 565.7 L130 565.2 L145 564.2 L159.1 562.2 L172.6 559.6 L185 557.2 L195.3 555.4 L204.4 553.8 L215 552.2 L230 550.3 L246.4 548.5 L258 547.2 L258 670 L34 670Z" fill="#86ff79"/>
<path d="M34 566 L42.2 565.9 L54 565.9 L66 566 L76.8 566.5 L87.8 567.2 L100 567.5 L114.4 567.4 L130 567 L145 566 L159.1 564 L172.6 561.4 L185 559 L195.3 557.2 L204.4 555.6 L215 554 L230 552.1 L246.4 550.3 L258 549 L258 670 L34 670Z" fill="#79ff86"/>
<path d="M34 567.6 L42.2 567.6 L54 567.6 L66 567.7 L76.8 568.2 L87.8 568.9 L100 569.2 L114.4 569.2 L130 568.8 L145 567.8 L159.1 565.8 L172.6 563.2 L185 560.8 L195.3 559 L204.4 557.4 L215 555.8 L230 553.9 L246.4 552 L258 550.7 L258 670 L34 670Z" fill="#6cff93"/>
<path d="M34 569.2 L42.2 569.2 L54 569.2 L66 569.4 L76.8 569.9 L87.8 570.6 L100 571 L114.4 571 L130 570.6 L145 569.6 L159.1 567.6 L172.6 565 L185 562.6 L195.3 560.8 L204.4 559.2 L215 557.6 L230 555.7 L246.4 553.8 L258 552.4 L258 670 L34 670Z" fill="#60ff9f"/>
<path d="M34 570.8 L42.2 570.8 L54 570.9 L66 571.1 L76.8 571.7 L87.8 572.4 L100 572.8 L114.4 572.7 L130 572.4 L145 571.4 L159.1 569.4 L172.6 566.8 L185 564.4 L195.3 562.6 L204.4 561 L215 559.4 L230 557.5 L246.4 555.5 L258 554.1 L258 670 L34 670Z" fill="#53ffac"/>
<path d="M34 572.4 L42.2 572.5 L54 572.6 L66 572.8 L76.8 573.4 L87.8 574.1 L100 574.5 L114.4 574.5 L130 574.2 L145 573.2 L159.1 571.2 L172.6 568.6 L185 566.2 L195.3 564.4 L204.4 562.8 L215 561.2 L230 559.2 L246.4 557.2 L258 555.8 L258 670 L34 670Z" fill="#46ffb9"/>
<path d="M34 574 L42.2 574.1 L54 574.2 L66 574.5 L76.8 575.1 L87.8 575.8 L100 576.2 L114.4 576.3 L130 576 L145 575 L159.1 573 L172.6 570.4 L185 568 L195.3 566.2 L204.4 564.6 L215 563 L230 561 L246.4 558.9 L258 557.5 L258 670 L34 670Z" fill="#39ffc6"/>
<path d="M34 575.6 L42.2 575.7 L54 575.9 L66 576.2 L76.8 576.8 L87.8 577.6 L100 578 L114.4 578 L130 577.7 L145 576.8 L159.1 574.8 L172.6 572.2 L185 569.8 L195.3 568 L204.4 566.4 L215 564.8 L230 562.8 L246.4 560.7 L258 559.2 L258 670 L34 670Z" fill="#2dffd2"/>
<path d="M34 577.2 L42.2 577.3 L54 577.6 L66 577.9 L76.8 578.5 L87.8 579.3 L100 579.8 L114.4 579.8 L130 579.5 L145 578.6 L159.1 576.6 L172.6 574 L185 571.6 L195.3 569.8 L204.4 568.2 L215 566.6 L230 564.5 L246.4 562.4 L258 560.9 L258 670 L34 670Z" fill="#20ffdf"/>
<path d="M34 578.8 L42.2 579 L54 579.2 L66 579.6 L76.8 580.3 L87.8 581 L100 581.5 L114.4 581.6 L130 581.3 L145 580.4 L159.1 578.4 L172.6 575.8 L185 573.4 L195.3 571.6 L204.4 570.1 L215 568.4 L230 566.3 L246.4 564.1 L258 562.6 L258 670 L34 670Z" fill="#13ffec"/>
<path d="M34 580.4 L42.2 580.6 L54 580.9 L66 581.3 L76.8 582 L87.8 582.8 L100 583.2 L114.4 583.3 L130 583.1 L145 582.2 L159.1 580.2 L172.6 577.6 L185 575.2 L195.3 573.4 L204.4 571.9 L215 570.2 L230 568.1 L246.4 565.9 L258 564.3 L258 670 L34 670Z" fill="#06fff9"/>
<path d="M34 582 L42.2 582.2 L54 582.6 L66 583 L76.8 583.7 L87.8 584.5 L100 585 L114.4 585.1 L130 584.9 L145 584 L159.1 582 L172.6 579.4 L185 577 L195.3 575.2 L204.4 573.7 L215 572 L230 569.9 L246.4 567.6 L258 566 L258 670 L34 670Z" fill="#00f9ff"/>
<path d="M34 583 L42.2 583.2 L54 583.5 L66 584 L76.8 584.7 L87.8 585.6 L100 586.1 L114.4 586.2 L130 586.1 L145 585.2 L159.1 583.3 L172.6 580.7 L185 578.3 L195.3 576.5 L204.4 575 L215 573.3 L230 571.2 L246.4 568.9 L258 567.3 L258 670 L34 670Z" fill="#00ecff"/>
<path d="M34 584 L42.2 584.2 L54 584.5 L66 585 L76.8 585.8 L87.8 586.6 L100 587.2 L114.4 587.4 L130 587.2 L145 586.4 L159.1 584.5 L172.6 582 L185 579.6 L195.3 577.8 L204.4 576.3 L215 574.6 L230 572.5 L246.4 570.2 L258 568.6 L258 670 L34 670Z" fill="#00dfff"/>
<path d="M34 585 L42.2 585.2 L54 585.5 L66 586 L76.8 586.8 L87.8 587.7 L100 588.3 L114.4 588.5 L130 588.4 L145 587.6 L159.1 585.7 L172.6 583.2 L185 580.9 L195.3 579.1 L204.4 577.6 L215 575.9 L230 573.8 L246.4 571.5 L258 569.9 L258 670 L34 670Z" fill="#00d2ff"/>
<path d="M34 586 L42.2 586.2 L54 586.5 L66 587 L76.8 587.8 L87.8 588.8 L100 589.4 L114.4 589.6 L130 589.6 L145 588.8 L159.1 587 L172.6 584.5 L185 582.2 L195.3 580.5 L204.4 578.9 L215 577.2 L230 575.1 L246.4 572.8 L258 571.2 L258 670 L34 670Z" fill="#00c6ff"/>
<path d="M34 587 L42.2 587.2 L54 587.5 L66 588 L76.8 588.8 L87.8 589.8 L100 590.5 L114.4 590.8 L130 590.7 L145 590 L159.1 588.2 L172.6 585.8 L185 583.5 L195.3 581.8 L204.4 580.2 L215 578.5 L230 576.4 L246.4 574.1 L258 572.5 L258 670 L34 670Z" fill="#00b9ff"/>
<path d="M34 588 L42.2 588.2 L54 588.5 L66 589 L76.8 589.9 L87.8 590.9 L100 591.6 L114.4 591.9 L130 591.9 L145 591.2 L159.1 589.5 L172.6 587.1 L185 584.8 L195.3 583.1 L204.4 581.5 L215 579.8 L230 577.7 L246.4 575.4 L258 573.8 L258 670 L34 670Z" fill="#00acff"/>
<path d="M34 589 L42.2 589.2 L54 589.5 L66 590 L76.8 590.9 L87.8 592 L100 592.7 L114.4 593 L130 593.1 L145 592.4 L159.1 590.7 L172.6 588.3 L185 586.1 L195.3 584.4 L204.4 582.8 L215 581.1 L230 579 L246.4 576.7 L258 575.1 L258 670 L34 670Z" fill="#009fff"/>
<path d="M34 590 L42.2 590.2 L54 590.5 L66 591 L76.8 591.9 L87.8 593 L100 593.8 L114.4 594.2 L130 594.2 L145 593.6 L159.1 591.9 L172.6 589.6 L185 587.4 L195.3 585.7 L204.4 584.1 L215 582.4 L230 580.3 L246.4 578 L258 576.4 L258 670 L34 670Z" fill="#0093ff"/>
<path d="M34 591 L42.2 591.2 L54 591.5 L66 592 L76.8 592.9 L87.8 594.1 L100 594.9 L114.4 595.3 L130 595.4 L145 594.8 L159.1 593.2 L172.6 590.9 L185 588.7 L195.3 587 L204.4 585.4 L215 583.7 L230 581.6 L246.4 579.3 L258 577.7 L258 670 L34 670Z" fill="#0086ff"/>
<path d="M34 592 L42.2 592.2 L54 592.5 L66 593 L76.8 594 L87.8 595.1 L100 596 L114.4 596.4 L130 596.6 L145 596 L159.1 594.4 L172.6 592.1 L185 590 L195.3 588.3 L204.4 586.7 L215 585 L230 582.9 L246.4 580.6 L258 579 L258 670 L34 670Z" fill="#0079ff"/>
<path d="M34 592.9 L42.2 593.1 L54 593.4 L66 593.9 L76.8 594.9 L87.8 596.1 L100 597 L114.4 597.5 L130 597.8 L145 597.4 L159.1 596.1 L172.6 594.1 L185 592.2 L195.3 590.7 L204.4 589.2 L215 587.7 L230 585.8 L246.4 583.7 L258 582.3 L258 670 L34 670Z" fill="#006cff"/>
<path d="M34 593.8 L42.2 594 L54 594.3 L66 594.8 L76.8 595.8 L87.8 597 L100 598 L114.4 598.6 L130 599 L145 598.8 L159.1 597.7 L172.6 596 L185 594.4 L195.3 593.1 L204.4 591.8 L215 590.4 L230 588.7 L246.4 586.9 L258 585.6 L258 670 L34 670Z" fill="#0060ff"/>
<path d="M34 594.7 L42.2 594.9 L54 595.2 L66 595.7 L76.8 596.7 L87.8 598 L100 599 L114.4 599.7 L130 600.2 L145 600.2 L159.1 599.4 L172.6 598 L185 596.6 L195.3 595.5 L204.4 594.3 L215 593.1 L230 591.6 L246.4 590 L258 588.9 L258 670 L34 670Z" fill="#0053ff"/>
<path d="M34 595.6 L42.2 595.8 L54 596.1 L66 596.6 L76.8 597.6 L87.8 598.9 L100 600 L114.4 600.8 L130 601.5 L145 601.6 L159.1 601 L172.6 599.9 L185 598.8 L195.3 597.8 L204.4 596.9 L215 595.8 L230 594.5 L246.4 593.2 L258 592.2 L258 670 L34 670Z" fill="#0046ff"/>
<path d="M34 596.5 L42.2 596.7 L54 596.9 L66 597.5 L76.8 598.5 L87.8 599.9 L100 601 L114.4 601.9 L130 602.7 L145 603 L159.1 602.6 L172.6 601.9 L185 601 L195.3 600.2 L204.4 599.4 L215 598.5 L230 597.4 L246.4 596.3 L258 595.5 L258 670 L34 670Z" fill="#0039ff"/>
<path d="M34 597.4 L42.2 597.6 L54 597.8 L66 598.4 L76.8 599.5 L87.8 600.8 L100 602 L114.4 603 L130 603.9 L145 604.4 L159.1 604.3 L172.6 603.8 L185 603.2 L195.3 602.6 L204.4 601.9 L215 601.2 L230 600.3 L246.4 599.4 L258 598.8 L258 670 L34 670Z" fill="#002dff"/>
<path d="M34 598.3 L42.2 598.5 L54 598.7 L66 599.3 L76.8 600.4 L87.8 601.7 L100 603 L114.4 604.1 L130 605.1 L145 605.8 L159.1 605.9 L172.6 605.7 L185 605.4 L195.3 605 L204.4 604.5 L215 603.9 L230 603.3 L246.4 602.6 L258 602.1 L258 670 L34 670Z" fill="#0020ff"/>
<path d="M34 599.2 L42.2 599.4 L54 599.6 L66 600.2 L76.8 601.3 L87.8 602.7 L100 604 L114.4 605.2 L130 606.4 L145 607.2 L159.1 607.6 L172.6 607.7 L185 607.6 L195.3 607.4 L204.4 607 L215 606.6 L230 606.2 L246.4 605.7 L258 605.4 L258 670 L34 670Z" fill="#0013ff"/>
<path d="M34 600.1 L42.2 600.3 L54 600.5 L66 601.1 L76.8 602.2 L87.8 603.6 L100 605 L114.4 606.3 L130 607.6 L145 608.6 L159.1 609.2 L172.6 609.6 L185 609.8 L195.3 609.8 L204.4 609.5 L215 609.3 L230 609.1 L246.4 608.9 L258 608.7 L258 670 L34 670Z" fill="#0006ff"/>
<path d="M34 601 L42.2 601.1 L54 601.4 L66 602 L76.8 603.1 L87.8 604.6 L100 606 L114.4 607.4 L130 608.8 L145 610 L159.1 610.9 L172.6 611.6 L185 612 L195.3 612.1 L204.4 612.1 L215 612 L230 612 L246.4 612 L258 612 L258 670 L34 670Z" fill="#0000f9"/>
<path d="M34 603 L42.2 603.4 L54 604 L66 605 L76.8 606.6 L87.8 608.6 L100 610.5 L114.4 612.3 L130 614.1 L145 615.5 L159.1 616.4 L172.6 617 L185 617.2 L195.3 617.2 L204.4 616.9 L215 616.5 L230 616.1 L246.4 615.8 L258 615.5 L258 670 L34 670Z" fill="#0000ee"/>
<path d="M34 605 L42.2 605.6 L54 606.6 L66 608 L76.8 610.1 L87.8 612.6 L100 615 L114.4 617.2 L130 619.4 L145 621 L159.1 621.9 L172.6 622.4 L185 622.5 L195.3 622.2 L204.4 621.6 L215 621 L230 620.3 L246.4 619.5 L258 619 L258 670 L34 670Z" fill="#0000e2"/>
<path d="M34 607 L42.2 607.9 L54 609.2 L66 611 L76.8 613.6 L87.8 616.6 L100 619.5 L114.4 622.2 L130 624.6 L145 626.5 L159.1 627.5 L172.6 627.8 L185 627.8 L195.3 627.3 L204.4 626.4 L215 625.5 L230 624.4 L246.4 623.3 L258 622.5 L258 670 L34 670Z" fill="#0000d7"/>
<path d="M34 609 L42.2 610.1 L54 611.8 L66 614 L76.8 617 L87.8 620.6 L100 624 L114.4 627.1 L130 629.9 L145 632 L159.1 633 L172.6 633.2 L185 633 L195.3 632.3 L204.4 631.2 L215 630 L230 628.6 L246.4 627.1 L258 626 L258 670 L34 670Z" fill="#0000cb"/>
<path d="M34 610.2 L42.2 611.8 L54 614 L66 616.8 L76.8 620.1 L87.8 623.9 L100 627.5 L114.4 631.1 L130 634.5 L145 636.8 L159.1 637.3 L172.6 636.8 L185 636 L195.3 635.1 L204.4 633.8 L215 632.5 L230 631 L246.4 629.4 L258 628.2 L258 670 L34 670Z" fill="#0000be"/>
<path d="M34 611.5 L42.2 613.4 L54 616.3 L66 619.5 L76.8 623.1 L87.8 627.1 L100 631 L114.4 635.1 L130 639 L145 641.5 L159.1 641.7 L172.6 640.4 L185 639 L195.3 637.8 L204.4 636.4 L215 635 L230 633.4 L246.4 631.7 L258 630.5 L258 670 L34 670Z" fill="#0000b1"/>
<path d="M34 612.8 L42.2 615.1 L54 618.5 L66 622.2 L76.8 626.1 L87.8 630.4 L100 634.5 L114.4 639 L130 643.5 L145 646.2 L159.1 646 L172.6 644 L185 642 L195.3 640.5 L204.4 639 L215 637.5 L230 635.8 L246.4 634 L258 632.8 L258 670 L34 670Z" fill="#0000a4"/>
<path d="M34 614 L42.2 616.8 L54 620.8 L66 625 L76.8 629.2 L87.8 633.6 L100 638 L114.4 643 L130 648.1 L145 651 L159.1 650.4 L172.6 647.6 L185 645 L195.3 643.3 L204.4 641.6 L215 640 L230 638.1 L246.4 636.3 L258 635 L258 670 L34 670Z" fill="#000096"/>
<path d="M34 627 L42.2 628.9 L54 631.8 L66 635 L76.8 638.6 L87.8 642.5 L100 646.5 L114.4 651 L130 655.4 L145 658 L159.1 657.4 L172.6 654.9 L185 652.5 L195.3 650.8 L204.4 649.1 L215 647.5 L230 645.6 L246.4 643.8 L258 642.5 L258 670 L34 670Z" fill="#000087"/>
</g>
<line x1="38.6" y1="613" x2="38.6" y2="517.4" stroke="#5e5e5e" stroke-width="0.6"/>
<line x1="38.6" y1="613" x2="148" y2="657.6" stroke="#5e5e5e" stroke-width="0.6"/>
<line x1="148" y1="657.6" x2="289.6" y2="623.6" stroke="#5e5e5e" stroke-width="0.6"/>
<line x1="38.6" y1="613" x2="35.8" y2="612.2" stroke="#5e5e5e" stroke-width="0.6"/>
<text transform="translate(32.6,614.6) scale(1.270,1)" font-family='"Liberation Sans", sans-serif' font-size="7.30" text-anchor="end" fill="#333">0</text>
<line x1="38.6" y1="597.1" x2="35.8" y2="596.3" stroke="#5e5e5e" stroke-width="0.6"/>
<text transform="translate(32.6,598.7) scale(1.270,1)" font-family='"Liberation Sans", sans-serif' font-size="7.30" text-anchor="end" fill="#333">0.05</text>
<line x1="38.6" y1="581.2" x2="35.8" y2="580.4" stroke="#5e5e5e" stroke-width="0.6"/>
<text transform="translate(32.6,582.8) scale(1.270,1)" font-family='"Liberation Sans", sans-serif' font-size="7.30" text-anchor="end" fill="#333">0.1</text>
<line x1="38.6" y1="565.3" x2="35.8" y2="564.5" stroke="#5e5e5e" stroke-width="0.6"/>
<text transform="translate(32.6,566.9) scale(1.270,1)" font-family='"Liberation Sans", sans-serif' font-size="7.30" text-anchor="end" fill="#333">0.15</text>
<line x1="38.6" y1="549.4" x2="35.8" y2="548.6" stroke="#5e5e5e" stroke-width="0.6"/>
<text transform="translate(32.6,551) scale(1.270,1)" font-family='"Liberation Sans", sans-serif' font-size="7.30" text-anchor="end" fill="#333">0.2</text>
<line x1="38.6" y1="533.5" x2="35.8" y2="532.7" stroke="#5e5e5e" stroke-width="0.6"/>
<text transform="translate(32.6,535.1) scale(1.270,1)" font-family='"Liberation Sans", sans-serif' font-size="7.30" text-anchor="end" fill="#333">0.25</text>
<line x1="38.6" y1="517.6" x2="35.8" y2="516.8" stroke="#5e5e5e" stroke-width="0.6"/>
<text transform="translate(32.6,519.2) scale(1.270,1)" font-family='"Liberation Sans", sans-serif' font-size="7.30" text-anchor="end" fill="#333">0.3</text>
<line x1="38.6" y1="613" x2="35.6" y2="613.9" stroke="#5e5e5e" stroke-width="0.6"/>
<text transform="translate(30,623.2) scale(1.270,1)" font-family='"Liberation Sans", sans-serif' font-size="7.30" text-anchor="middle" fill="#333">1</text>
<line x1="93.3" y1="635.3" x2="90.3" y2="636.2" stroke="#5e5e5e" stroke-width="0.6"/>
<text transform="translate(80,644.8) scale(1.270,1)" font-family='"Liberation Sans", sans-serif' font-size="7.30" text-anchor="middle" fill="#333">0.5</text>
<line x1="148" y1="657.6" x2="145" y2="658.5" stroke="#5e5e5e" stroke-width="0.6"/>
<text transform="translate(138,666.6) scale(1.270,1)" font-family='"Liberation Sans", sans-serif' font-size="7.30" text-anchor="middle" fill="#333">0</text>
<line x1="148" y1="657.6" x2="150.6" y2="658.8" stroke="#5e5e5e" stroke-width="0.6"/>
<text transform="translate(156.4,668.4) scale(1.270,1)" font-family='"Liberation Sans", sans-serif' font-size="7.30" text-anchor="middle" fill="#333">0</text>
<line x1="195.2" y1="646.3" x2="197.8" y2="647.5" stroke="#5e5e5e" stroke-width="0.6"/>
<text transform="translate(206.4,657.1) scale(1.270,1)" font-family='"Liberation Sans", sans-serif' font-size="7.30" text-anchor="middle" fill="#333">20</text>
<line x1="242.4" y1="634.9" x2="245" y2="636.1" stroke="#5e5e5e" stroke-width="0.6"/>
<text transform="translate(253.8,645.8) scale(1.270,1)" font-family='"Liberation Sans", sans-serif' font-size="7.30" text-anchor="middle" fill="#333">40</text>
<line x1="289.6" y1="623.6" x2="292.2" y2="624.8" stroke="#5e5e5e" stroke-width="0.6"/>
<text transform="translate(301,634.2) scale(1.270,1)" font-family='"Liberation Sans", sans-serif' font-size="7.30" text-anchor="middle" fill="#333">60</text>
<text transform="translate(91.5,665.8) scale(1.200,1)" font-family='"Liberation Sans", sans-serif' font-size="7.80" text-anchor="middle" fill="#333" font-style="italic">ξ</text>
<text transform="translate(219.5,669.2) scale(1.270,1)" font-family='"Liberation Sans", sans-serif' font-size="7.60" text-anchor="middle" fill="#333">Time</text>
<text transform="translate(8.4,565) scale(1.270,1) rotate(-90)" font-family='"Liberation Sans", sans-serif' font-size="7.40" text-anchor="middle" fill="#333">G(t)</text>
<rect x="315.2" y="482.3" width="14" height="175.5" fill="url(#jet)" stroke="#666" stroke-width="0.45"/>
<line x1="326.6" y1="486.5" x2="329.2" y2="486.5" stroke="#444" stroke-width="0.6"/>
<text transform="translate(333,489.1) scale(1.140,1)" font-family='"Liberation Sans", sans-serif' font-size="7.30" text-anchor="start" fill="#333">0.3</text>
<line x1="326.6" y1="515.4" x2="329.2" y2="515.4" stroke="#444" stroke-width="0.6"/>
<text transform="translate(333,518) scale(1.140,1)" font-family='"Liberation Sans", sans-serif' font-size="7.30" text-anchor="start" fill="#333">0.25</text>
<line x1="326.6" y1="544.3" x2="329.2" y2="544.3" stroke="#444" stroke-width="0.6"/>
<text transform="translate(333,546.9) scale(1.140,1)" font-family='"Liberation Sans", sans-serif' font-size="7.30" text-anchor="start" fill="#333">0.2</text>
<line x1="326.6" y1="573.3" x2="329.2" y2="573.3" stroke="#444" stroke-width="0.6"/>
<text transform="translate(333,575.9) scale(1.140,1)" font-family='"Liberation Sans", sans-serif' font-size="7.30" text-anchor="start" fill="#333">0.15</text>
<line x1="326.6" y1="602.2" x2="329.2" y2="602.2" stroke="#444" stroke-width="0.6"/>
<text transform="translate(333,604.8) scale(1.140,1)" font-family='"Liberation Sans", sans-serif' font-size="7.30" text-anchor="start" fill="#333">0.1</text>
<line x1="326.6" y1="631.2" x2="329.2" y2="631.2" stroke="#444" stroke-width="0.6"/>
<text transform="translate(333,633.8) scale(1.140,1)" font-family='"Liberation Sans", sans-serif' font-size="7.30" text-anchor="start" fill="#333">0.05</text>
<line x1="85.8" y1="841.2" x2="195.2" y2="885.8" stroke="#e9e9e9" stroke-width="0.6"/>
<line x1="133" y1="829.8" x2="242.4" y2="874.4" stroke="#e9e9e9" stroke-width="0.6"/>
<line x1="180.2" y1="818.5" x2="289.6" y2="863.1" stroke="#e9e9e9" stroke-width="0.6"/>
<line x1="38.6" y1="852.5" x2="180.2" y2="818.5" stroke="#e9e9e9" stroke-width="0.6"/>
<line x1="93.3" y1="874.8" x2="234.9" y2="840.8" stroke="#e9e9e9" stroke-width="0.6"/>
<line x1="85.8" y1="841.2" x2="85.8" y2="744.3" stroke="#dcdcdc" stroke-width="0.6"/>
<line x1="133" y1="829.8" x2="133" y2="732.9" stroke="#dcdcdc" stroke-width="0.6"/>
<line x1="180.2" y1="818.5" x2="180.2" y2="721.6" stroke="#dcdcdc" stroke-width="0.6"/>
<line x1="235.1" y1="840.8" x2="235.1" y2="743.9" stroke="#dcdcdc" stroke-width="0.6"/>
<line x1="289.8" y1="863.1" x2="289.8" y2="766.2" stroke="#dcdcdc" stroke-width="0.6"/>
<line x1="38.6" y1="852.5" x2="180.4" y2="818.5" stroke="#e9e9e9" stroke-width="0.6"/>
<line x1="180.4" y1="818.5" x2="289.6" y2="863.1" stroke="#e9e9e9" stroke-width="0.6"/>
<line x1="38.6" y1="836.4" x2="180.4" y2="802.4" stroke="#e9e9e9" stroke-width="0.6"/>
<line x1="180.4" y1="802.4" x2="289.6" y2="847" stroke="#e9e9e9" stroke-width="0.6"/>
<line x1="38.6" y1="820.2" x2="180.4" y2="786.2" stroke="#e9e9e9" stroke-width="0.6"/>
<line x1="180.4" y1="786.2" x2="289.6" y2="830.8" stroke="#e9e9e9" stroke-width="0.6"/>
<line x1="38.6" y1="804" x2="180.4" y2="770" stroke="#e9e9e9" stroke-width="0.6"/>
<line x1="180.4" y1="770" x2="289.6" y2="814.6" stroke="#e9e9e9" stroke-width="0.6"/>
<line x1="38.6" y1="787.9" x2="180.4" y2="753.9" stroke="#e9e9e9" stroke-width="0.6"/>
<line x1="180.4" y1="753.9" x2="289.6" y2="798.5" stroke="#e9e9e9" stroke-width="0.6"/>
<line x1="38.6" y1="771.8" x2="180.4" y2="737.8" stroke="#e9e9e9" stroke-width="0.6"/>
<line x1="180.4" y1="737.8" x2="289.6" y2="782.4" stroke="#e9e9e9" stroke-width="0.6"/>
<line x1="38.6" y1="755.6" x2="180.4" y2="721.6" stroke="#e9e9e9" stroke-width="0.6"/>
<line x1="180.4" y1="721.6" x2="289.6" y2="766.2" stroke="#e9e9e9" stroke-width="0.6"/>
<mask id="cg" maskUnits="userSpaceOnUse" x="0" y="0" width="725" height="944"><path d="M38.6 852.5 L42 840 L46 828 L50 817 L55 806 L60 796 L66 787 L72 779 L80 771 L90 763 L100 756.6 L110 751.6 L120 747.4 L130 744 L145 740 L157 738.6 L165 749 L175 763 L185 776 L195 790 L205 802 L215 814 L225 825 L235 835 L245 844 L254.6 852.4 L211 864 L175 874.4 L145 884 L139 887 L137 889 L136.8 893Z" fill="#fff"/></mask>
<g mask="url(#cg)">
<path d="M34 720 L42.2 720 L54 720 L66 720 L76.8 720 L87.8 720 L100 720 L114.4 720 L130 720 L145 720 L159.1 720 L172.6 720 L185 720 L195.3 720 L204.4 720 L215 720 L230 720 L246.4 720 L258 720 L258 910 L34 910Z" fill="#800000"/>
<path d="M34 748 L42.2 747.5 L54 746.7 L66 746 L76.8 745.3 L87.8 744.7 L100 744 L114.4 743.3 L130 742.7 L145 742 L159.1 741.3 L172.6 740.6 L185 740 L195.3 739.6 L204.4 739.3 L215 739 L230 738.6 L246.4 738.3 L258 738 L258 910 L34 910Z" fill="#860000"/>
<path d="M34 751.3 L42.2 750.8 L54 750 L66 749.2 L76.8 748.3 L87.8 747.3 L100 746.3 L114.4 745.5 L130 744.7 L145 743.9 L159.1 743.2 L172.6 742.4 L185 741.9 L195.3 741.4 L204.4 741.1 L215 740.8 L230 740.4 L246.4 740 L258 739.7 L258 910 L34 910Z" fill="#930000"/>
<path d="M34 754.6 L42.2 754.1 L54 753.3 L66 752.4 L76.8 751.2 L87.8 749.9 L100 748.6 L114.4 747.6 L130 746.6 L145 745.8 L159.1 745 L172.6 744.3 L185 743.7 L195.3 743.3 L204.4 742.9 L215 742.6 L230 742.2 L246.4 741.7 L258 741.4 L258 910 L34 910Z" fill="#9f0000"/>
<path d="M34 757.9 L42.2 757.4 L54 756.6 L66 755.6 L76.8 754.2 L87.8 752.4 L100 750.9 L114.4 749.7 L130 748.6 L145 747.7 L159.1 746.9 L172.6 746.2 L185 745.5 L195.3 745.1 L204.4 744.8 L215 744.4 L230 743.9 L246.4 743.4 L258 743.1 L258 910 L34 910Z" fill="#ac0000"/>
<path d="M34 761.2 L42.2 760.7 L54 759.9 L66 758.8 L76.8 757.1 L87.8 755 L100 753.2 L114.4 751.8 L130 750.6 L145 749.6 L159.1 748.7 L172.6 748 L185 747.4 L195.3 746.9 L204.4 746.6 L215 746.2 L230 745.7 L246.4 745.2 L258 744.8 L258 910 L34 910Z" fill="#b90000"/>
<path d="M34 764.5 L42.2 764 L54 763.2 L66 762 L76.8 760 L87.8 757.6 L100 755.5 L114.4 753.9 L130 752.6 L145 751.5 L159.1 750.6 L172.6 749.9 L185 749.2 L195.3 748.8 L204.4 748.4 L215 748 L230 747.5 L246.4 746.9 L258 746.5 L258 910 L34 910Z" fill="#c60000"/>
<path d="M34 767.8 L42.2 767.3 L54 766.5 L66 765.2 L76.8 763 L87.8 760.2 L100 757.8 L114.4 756 L130 754.6 L145 753.4 L159.1 752.4 L172.6 751.7 L185 751.1 L195.3 750.6 L204.4 750.2 L215 749.8 L230 749.2 L246.4 748.6 L258 748.2 L258 910 L34 910Z" fill="#d20000"/>
<path d="M34 771.1 L42.2 770.6 L54 769.8 L66 768.4 L76.8 765.9 L87.8 762.8 L100 760.1 L114.4 758.1 L130 756.6 L145 755.3 L159.1 754.3 L172.6 753.6 L185 753 L195.3 752.4 L204.4 752 L215 751.6 L230 751 L246.4 750.4 L258 749.9 L258 910 L34 910Z" fill="#df0000"/>
<path d="M34 774.4 L42.2 773.9 L54 773.1 L66 771.6 L76.8 768.9 L87.8 765.4 L100 762.4 L114.4 760.3 L130 758.6 L145 757.2 L159.1 756.2 L172.6 755.4 L185 754.8 L195.3 754.3 L204.4 753.9 L215 753.4 L230 752.8 L246.4 752.1 L258 751.6 L258 910 L34 910Z" fill="#ec0000"/>
<path d="M34 777.7 L42.2 777.2 L54 776.4 L66 774.8 L76.8 771.8 L87.8 768 L100 764.7 L114.4 762.4 L130 760.6 L145 759.1 L159.1 758 L172.6 757.3 L185 756.6 L195.3 756.1 L204.4 755.7 L215 755.2 L230 754.5 L246.4 753.8 L258 753.3 L258 910 L34 910Z" fill="#f90000"/>
<path d="M34 781 L42.2 780.5 L54 779.7 L66 778 L76.8 774.7 L87.8 770.6 L100 767 L114.4 764.5 L130 762.6 L145 761 L159.1 759.9 L172.6 759.1 L185 758.5 L195.3 757.9 L204.4 757.5 L215 757 L230 756.3 L246.4 755.5 L258 755 L258 910 L34 910Z" fill="#ff0600"/>
<path d="M34 781.7 L42.2 781.3 L54 780.5 L66 778.9 L76.8 775.9 L87.8 772 L100 768.6 L114.4 766.2 L130 764.4 L145 762.9 L159.1 761.7 L172.6 760.9 L185 760.1 L195.3 759.5 L204.4 759.1 L215 758.5 L230 757.7 L246.4 756.9 L258 756.3 L258 910 L34 910Z" fill="#ff1300"/>
<path d="M34 782.4 L42.2 782 L54 781.3 L66 779.8 L76.8 777 L87.8 773.4 L100 770.2 L114.4 768 L130 766.2 L145 764.7 L159.1 763.5 L172.6 762.6 L185 761.8 L195.3 761.1 L204.4 760.6 L215 760 L230 759.2 L246.4 758.2 L258 757.6 L258 910 L34 910Z" fill="#ff2000"/>
<path d="M34 783.1 L42.2 782.7 L54 782.1 L66 780.7 L76.8 778.1 L87.8 774.7 L100 771.8 L114.4 769.7 L130 768 L145 766.5 L159.1 765.3 L172.6 764.3 L185 763.5 L195.3 762.7 L204.4 762.2 L215 761.5 L230 760.6 L246.4 759.6 L258 758.9 L258 910 L34 910Z" fill="#ff2d00"/>
<path d="M34 783.8 L42.2 783.5 L54 782.9 L66 781.6 L76.8 779.2 L87.8 776.1 L100 773.4 L114.4 771.4 L130 769.8 L145 768.4 L159.1 767.1 L172.6 766 L185 765.1 L195.3 764.3 L204.4 763.7 L215 763 L230 762 L246.4 761 L258 760.2 L258 910 L34 910Z" fill="#ff3900"/>
<path d="M34 784.5 L42.2 784.2 L54 783.6 L66 782.5 L76.8 780.3 L87.8 777.5 L100 775 L114.4 773.2 L130 771.6 L145 770.2 L159.1 768.9 L172.6 767.8 L185 766.8 L195.3 765.9 L204.4 765.3 L215 764.5 L230 763.4 L246.4 762.3 L258 761.5 L258 910 L34 910Z" fill="#ff4600"/>
<path d="M34 785.2 L42.2 784.9 L54 784.4 L66 783.4 L76.8 781.4 L87.8 778.9 L100 776.6 L114.4 774.9 L130 773.5 L145 772.1 L159.1 770.8 L172.6 769.5 L185 768.4 L195.3 767.5 L204.4 766.8 L215 766 L230 764.9 L246.4 763.7 L258 762.8 L258 910 L34 910Z" fill="#ff5300"/>
<path d="M34 785.9 L42.2 785.7 L54 785.2 L66 784.3 L76.8 782.5 L87.8 780.3 L100 778.2 L114.4 776.6 L130 775.3 L145 774 L159.1 772.6 L172.6 771.2 L185 770 L195.3 769.1 L204.4 768.4 L215 767.5 L230 766.3 L246.4 765 L258 764.1 L258 910 L34 910Z" fill="#ff6000"/>
<path d="M34 786.6 L42.2 786.4 L54 786 L66 785.2 L76.8 783.6 L87.8 781.6 L100 779.8 L114.4 778.4 L130 777.1 L145 775.8 L159.1 774.4 L172.6 773 L185 771.7 L195.3 770.7 L204.4 769.9 L215 769 L230 767.7 L246.4 766.4 L258 765.4 L258 910 L34 910Z" fill="#ff6c00"/>
<path d="M34 787.3 L42.2 787.1 L54 786.8 L66 786.1 L76.8 784.8 L87.8 783 L100 781.4 L114.4 780.1 L130 778.9 L145 777.6 L159.1 776.2 L172.6 774.7 L185 773.4 L195.3 772.3 L204.4 771.5 L215 770.5 L230 769.2 L246.4 767.7 L258 766.7 L258 910 L34 910Z" fill="#ff7900"/>
<path d="M34 788 L42.2 787.9 L54 787.6 L66 787 L76.8 785.9 L87.8 784.4 L100 783 L114.4 781.8 L130 780.7 L145 779.5 L159.1 778 L172.6 776.4 L185 775 L195.3 773.9 L204.4 773 L215 772 L230 770.6 L246.4 769.1 L258 768 L258 910 L34 910Z" fill="#ff8600"/>
<path d="M34 788.7 L42.2 788.6 L54 788.3 L66 787.8 L76.8 786.8 L87.8 785.6 L100 784.4 L114.4 783.4 L130 782.3 L145 781.1 L159.1 779.7 L172.6 778 L185 776.5 L195.3 775.4 L204.4 774.5 L215 773.4 L230 772 L246.4 770.4 L258 769.3 L258 910 L34 910Z" fill="#ff9300"/>
<path d="M34 789.4 L42.2 789.3 L54 789 L66 788.6 L76.8 787.8 L87.8 786.8 L100 785.8 L114.4 784.9 L130 783.9 L145 782.8 L159.1 781.3 L172.6 779.6 L185 778.1 L195.3 776.9 L204.4 775.9 L215 774.8 L230 773.3 L246.4 771.7 L258 770.6 L258 910 L34 910Z" fill="#ff9f00"/>
<path d="M34 790.1 L42.2 790 L54 789.8 L66 789.4 L76.8 788.8 L87.8 788 L100 787.2 L114.4 786.4 L130 785.5 L145 784.5 L159.1 783 L172.6 781.2 L185 779.6 L195.3 778.4 L204.4 777.4 L215 776.2 L230 774.7 L246.4 773 L258 771.9 L258 910 L34 910Z" fill="#ffac00"/>
<path d="M34 790.8 L42.2 790.7 L54 790.5 L66 790.2 L76.8 789.8 L87.8 789.2 L100 788.6 L114.4 787.9 L130 787.1 L145 786.1 L159.1 784.6 L172.6 782.8 L185 781.2 L195.3 779.9 L204.4 778.8 L215 777.6 L230 776 L246.4 774.4 L258 773.2 L258 910 L34 910Z" fill="#ffb900"/>
<path d="M34 791.5 L42.2 791.4 L54 791.2 L66 791 L76.8 790.8 L87.8 790.4 L100 790 L114.4 789.4 L130 788.8 L145 787.8 L159.1 786.2 L172.6 784.4 L185 782.8 L195.3 781.4 L204.4 780.3 L215 779 L230 777.4 L246.4 775.7 L258 774.5 L258 910 L34 910Z" fill="#ffc600"/>
<path d="M34 792.2 L42.2 792.1 L54 791.9 L66 791.8 L76.8 791.7 L87.8 791.7 L100 791.4 L114.4 791 L130 790.4 L145 789.4 L159.1 787.9 L172.6 786 L185 784.3 L195.3 782.9 L204.4 781.7 L215 780.4 L230 778.7 L246.4 777 L258 775.8 L258 910 L34 910Z" fill="#ffd200"/>
<path d="M34 792.9 L42.2 792.8 L54 792.7 L66 792.6 L76.8 792.7 L87.8 792.9 L100 792.8 L114.4 792.5 L130 792 L145 791 L159.1 789.5 L172.6 787.6 L185 785.9 L195.3 784.4 L204.4 783.2 L215 781.8 L230 780.1 L246.4 778.3 L258 777.1 L258 910 L34 910Z" fill="#ffdf00"/>
<path d="M34 793.6 L42.2 793.5 L54 793.4 L66 793.4 L76.8 793.7 L87.8 794.1 L100 794.2 L114.4 794 L130 793.6 L145 792.7 L159.1 791.2 L172.6 789.2 L185 787.4 L195.3 785.9 L204.4 784.6 L215 783.2 L230 781.5 L246.4 779.7 L258 778.4 L258 910 L34 910Z" fill="#ffec00"/>
<path d="M34 794.3 L42.2 794.2 L54 794.1 L66 794.2 L76.8 794.7 L87.8 795.3 L100 795.6 L114.4 795.5 L130 795.2 L145 794.4 L159.1 792.8 L172.6 790.8 L185 789 L195.3 787.4 L204.4 786.1 L215 784.6 L230 782.8 L246.4 781 L258 779.7 L258 910 L34 910Z" fill="#fff900"/>
<path d="M34 795 L42.2 794.9 L54 794.9 L66 795 L76.8 795.6 L87.8 796.5 L100 797 L114.4 797.1 L130 796.8 L145 796 L159.1 794.5 L172.6 792.4 L185 790.5 L195.3 788.9 L204.4 787.5 L215 786 L230 784.2 L246.4 782.3 L258 781 L258 910 L34 910Z" fill="#f9ff06"/>
<path d="M34 796.5 L42.2 796.4 L54 796.4 L66 796.5 L76.8 797.1 L87.8 798 L100 798.5 L114.4 798.6 L130 798.3 L145 797.6 L159.1 796.1 L172.6 794.1 L185 792.2 L195.3 790.7 L204.4 789.3 L215 787.9 L230 786.1 L246.4 784.2 L258 782.9 L258 910 L34 910Z" fill="#ecff13"/>
<path d="M34 798 L42.2 797.9 L54 797.9 L66 798 L76.8 798.6 L87.8 799.5 L100 800 L114.4 800.1 L130 799.9 L145 799.2 L159.1 797.8 L172.6 795.8 L185 794 L195.3 792.5 L204.4 791.1 L215 789.7 L230 787.9 L246.4 786.1 L258 784.8 L258 910 L34 910Z" fill="#dfff20"/>
<path d="M34 799.5 L42.2 799.4 L54 799.4 L66 799.5 L76.8 800.1 L87.8 801 L100 801.5 L114.4 801.6 L130 801.5 L145 800.8 L159.1 799.4 L172.6 797.5 L185 795.8 L195.3 794.3 L204.4 793 L215 791.5 L230 789.8 L246.4 788 L258 786.7 L258 910 L34 910Z" fill="#d2ff2d"/>
<path d="M34 801 L42.2 800.9 L54 800.9 L66 801 L76.8 801.6 L87.8 802.5 L100 803 L114.4 803.2 L130 803 L145 802.4 L159.1 801.1 L172.6 799.2 L185 797.5 L195.3 796.1 L204.4 794.8 L215 793.4 L230 791.7 L246.4 789.9 L258 788.6 L258 910 L34 910Z" fill="#c6ff39"/>
<path d="M34 802.5 L42.2 802.4 L54 802.4 L66 802.5 L76.8 803.1 L87.8 803.9 L100 804.5 L114.4 804.7 L130 804.6 L145 804 L159.1 802.7 L172.6 800.9 L185 799.2 L195.3 797.9 L204.4 796.6 L215 795.2 L230 793.5 L246.4 791.8 L258 790.5 L258 910 L34 910Z" fill="#b9ff46"/>
<path d="M34 804 L42.2 803.9 L54 803.9 L66 804 L76.8 804.6 L87.8 805.4 L100 806 L114.4 806.2 L130 806.1 L145 805.6 L159.1 804.4 L172.6 802.6 L185 801 L195.3 799.7 L204.4 798.4 L215 797.1 L230 795.4 L246.4 793.6 L258 792.4 L258 910 L34 910Z" fill="#acff53"/>
<path d="M34 805.5 L42.2 805.4 L54 805.4 L66 805.5 L76.8 806.1 L87.8 806.9 L100 807.5 L114.4 807.7 L130 807.7 L145 807.2 L159.1 806 L172.6 804.3 L185 802.8 L195.3 801.5 L204.4 800.3 L215 799 L230 797.3 L246.4 795.5 L258 794.3 L258 910 L34 910Z" fill="#9fff60"/>
<path d="M34 807 L42.2 806.9 L54 806.9 L66 807 L76.8 807.6 L87.8 808.4 L100 809 L114.4 809.2 L130 809.3 L145 808.8 L159.1 807.6 L172.6 806 L185 804.5 L195.3 803.3 L204.4 802.1 L215 800.8 L230 799.2 L246.4 797.4 L258 796.2 L258 910 L34 910Z" fill="#93ff6c"/>
<path d="M34 808.5 L42.2 808.4 L54 808.4 L66 808.5 L76.8 809.1 L87.8 809.9 L100 810.5 L114.4 810.8 L130 810.8 L145 810.4 L159.1 809.3 L172.6 807.7 L185 806.2 L195.3 805 L204.4 803.9 L215 802.6 L230 801 L246.4 799.3 L258 798.1 L258 910 L34 910Z" fill="#86ff79"/>
<path d="M34 810 L42.2 809.9 L54 809.9 L66 810 L76.8 810.6 L87.8 811.4 L100 812 L114.4 812.3 L130 812.4 L145 812 L159.1 810.9 L172.6 809.4 L185 808 L195.3 806.8 L204.4 805.7 L215 804.5 L230 802.9 L246.4 801.2 L258 800 L258 910 L34 910Z" fill="#79ff86"/>
<path d="M34 811.5 L42.2 811.5 L54 811.4 L66 811.6 L76.8 812.2 L87.8 813 L100 813.6 L114.4 813.9 L130 814 L145 813.6 L159.1 812.6 L172.6 811.2 L185 809.8 L195.3 808.7 L204.4 807.6 L215 806.5 L230 804.9 L246.4 803.3 L258 802.1 L258 910 L34 910Z" fill="#6cff93"/>
<path d="M34 813 L42.2 813 L54 813 L66 813.2 L76.8 813.8 L87.8 814.6 L100 815.2 L114.4 815.5 L130 815.6 L145 815.3 L159.1 814.3 L172.6 812.9 L185 811.6 L195.3 810.5 L204.4 809.5 L215 808.4 L230 806.9 L246.4 805.3 L258 804.2 L258 910 L34 910Z" fill="#60ff9f"/>
<path d="M34 814.5 L42.2 814.5 L54 814.6 L66 814.8 L76.8 815.4 L87.8 816.2 L100 816.8 L114.4 817.1 L130 817.2 L145 817 L159.1 816 L172.6 814.7 L185 813.4 L195.3 812.4 L204.4 811.4 L215 810.4 L230 808.9 L246.4 807.4 L258 806.3 L258 910 L34 910Z" fill="#53ffac"/>
<path d="M34 816 L42.2 816 L54 816.1 L66 816.4 L76.8 817 L87.8 817.8 L100 818.4 L114.4 818.7 L130 818.9 L145 818.6 L159.1 817.7 L172.6 816.4 L185 815.2 L195.3 814.2 L204.4 813.3 L215 812.3 L230 810.9 L246.4 809.4 L258 808.4 L258 910 L34 910Z" fill="#46ffb9"/>
<path d="M34 817.5 L42.2 817.6 L54 817.7 L66 818 L76.8 818.6 L87.8 819.4 L100 820 L114.4 820.3 L130 820.5 L145 820.2 L159.1 819.4 L172.6 818.2 L185 817 L195.3 816.1 L204.4 815.2 L215 814.2 L230 812.9 L246.4 811.5 L258 810.5 L258 910 L34 910Z" fill="#39ffc6"/>
<path d="M34 819 L42.2 819.1 L54 819.3 L66 819.6 L76.8 820.2 L87.8 821 L100 821.6 L114.4 822 L130 822.1 L145 821.9 L159.1 821.1 L172.6 819.9 L185 818.8 L195.3 817.9 L204.4 817.1 L215 816.2 L230 814.9 L246.4 813.6 L258 812.6 L258 910 L34 910Z" fill="#2dffd2"/>
<path d="M34 820.5 L42.2 820.6 L54 820.8 L66 821.2 L76.8 821.8 L87.8 822.6 L100 823.2 L114.4 823.6 L130 823.7 L145 823.5 L159.1 822.8 L172.6 821.7 L185 820.6 L195.3 819.8 L204.4 819 L215 818.1 L230 816.9 L246.4 815.6 L258 814.7 L258 910 L34 910Z" fill="#20ffdf"/>
<path d="M34 822 L42.2 822.2 L54 822.4 L66 822.8 L76.8 823.4 L87.8 824.2 L100 824.8 L114.4 825.2 L130 825.4 L145 825.2 L159.1 824.5 L172.6 823.4 L185 822.4 L195.3 821.6 L204.4 820.9 L215 820.1 L230 819 L246.4 817.7 L258 816.8 L258 910 L34 910Z" fill="#13ffec"/>
<path d="M34 823.5 L42.2 823.7 L54 824 L66 824.4 L76.8 825 L87.8 825.8 L100 826.4 L114.4 826.8 L130 827 L145 826.9 L159.1 826.2 L172.6 825.2 L185 824.2 L195.3 823.5 L204.4 822.8 L215 822 L230 821 L246.4 819.8 L258 818.9 L258 910 L34 910Z" fill="#06fff9"/>
<path d="M34 825 L42.2 825.2 L54 825.6 L66 826 L76.8 826.6 L87.8 827.4 L100 828 L114.4 828.4 L130 828.6 L145 828.5 L159.1 827.9 L172.6 826.9 L185 826 L195.3 825.3 L204.4 824.7 L215 824 L230 823 L246.4 821.8 L258 821 L258 910 L34 910Z" fill="#00f9ff"/>
<path d="M34 825.9 L42.2 826.1 L54 826.4 L66 826.9 L76.8 827.6 L87.8 828.4 L100 829 L114.4 829.5 L130 829.7 L145 829.6 L159.1 829.1 L172.6 828.2 L185 827.4 L195.3 826.8 L204.4 826.2 L215 825.5 L230 824.5 L246.4 823.3 L258 822.5 L258 910 L34 910Z" fill="#00ecff"/>
<path d="M34 826.8 L42.2 827 L54 827.3 L66 827.8 L76.8 828.5 L87.8 829.4 L100 830.1 L114.4 830.6 L130 830.8 L145 830.8 L159.1 830.3 L172.6 829.6 L185 828.8 L195.3 828.2 L204.4 827.7 L215 827 L230 826 L246.4 824.8 L258 824 L258 910 L34 910Z" fill="#00dfff"/>
<path d="M34 827.7 L42.2 827.9 L54 828.2 L66 828.7 L76.8 829.5 L87.8 830.4 L100 831.1 L114.4 831.6 L130 831.9 L145 832 L159.1 831.6 L172.6 830.9 L185 830.2 L195.3 829.7 L204.4 829.2 L215 828.5 L230 827.5 L246.4 826.3 L258 825.5 L258 910 L34 910Z" fill="#00d2ff"/>
<path d="M34 828.6 L42.2 828.8 L54 829.1 L66 829.6 L76.8 830.4 L87.8 831.4 L100 832.2 L114.4 832.7 L130 833 L145 833.1 L159.1 832.8 L172.6 832.2 L185 831.6 L195.3 831.1 L204.4 830.6 L215 830 L230 829 L246.4 827.8 L258 827 L258 910 L34 910Z" fill="#00c6ff"/>
<path d="M34 829.5 L42.2 829.7 L54 830 L66 830.5 L76.8 831.4 L87.8 832.4 L100 833.2 L114.4 833.8 L130 834.1 L145 834.2 L159.1 834 L172.6 833.5 L185 833 L195.3 832.6 L204.4 832.1 L215 831.5 L230 830.5 L246.4 829.3 L258 828.5 L258 910 L34 910Z" fill="#00b9ff"/>
<path d="M34 830.4 L42.2 830.6 L54 830.9 L66 831.4 L76.8 832.3 L87.8 833.4 L100 834.3 L114.4 834.9 L130 835.3 L145 835.4 L159.1 835.2 L172.6 834.8 L185 834.4 L195.3 834 L204.4 833.6 L215 833 L230 832 L246.4 830.8 L258 830 L258 910 L34 910Z" fill="#00acff"/>
<path d="M34 831.3 L42.2 831.5 L54 831.8 L66 832.3 L76.8 833.2 L87.8 834.4 L100 835.4 L114.4 836 L130 836.4 L145 836.5 L159.1 836.5 L172.6 836.2 L185 835.8 L195.3 835.5 L204.4 835.1 L215 834.5 L230 833.5 L246.4 832.3 L258 831.5 L258 910 L34 910Z" fill="#009fff"/>
<path d="M34 832.2 L42.2 832.4 L54 832.7 L66 833.2 L76.8 834.2 L87.8 835.4 L100 836.4 L114.4 837 L130 837.5 L145 837.7 L159.1 837.7 L172.6 837.5 L185 837.2 L195.3 836.9 L204.4 836.6 L215 836 L230 835 L246.4 833.8 L258 833 L258 910 L34 910Z" fill="#0093ff"/>
<path d="M34 833.1 L42.2 833.3 L54 833.6 L66 834.1 L76.8 835.1 L87.8 836.4 L100 837.5 L114.4 838.1 L130 838.6 L145 838.9 L159.1 838.9 L172.6 838.8 L185 838.6 L195.3 838.4 L204.4 838 L215 837.5 L230 836.5 L246.4 835.3 L258 834.5 L258 910 L34 910Z" fill="#0086ff"/>
<path d="M34 834 L42.2 834.2 L54 834.4 L66 835 L76.8 836.1 L87.8 837.4 L100 838.5 L114.4 839.2 L130 839.7 L145 840 L159.1 840.1 L172.6 840.1 L185 840 L195.3 839.8 L204.4 839.5 L215 839 L230 838 L246.4 836.9 L258 836 L258 910 L34 910Z" fill="#0079ff"/>
<path d="M34 834.9 L42.2 835.1 L54 835.3 L66 835.9 L76.8 837 L87.8 838.4 L100 839.5 L114.4 840.3 L130 840.8 L145 841.2 L159.1 841.5 L172.6 841.7 L185 841.7 L195.3 841.7 L204.4 841.5 L215 841.1 L230 840.1 L246.4 838.8 L258 837.9 L258 910 L34 910Z" fill="#006cff"/>
<path d="M34 835.8 L42.2 836 L54 836.2 L66 836.8 L76.8 837.9 L87.8 839.4 L100 840.6 L114.4 841.4 L130 841.9 L145 842.4 L159.1 842.8 L172.6 843.2 L185 843.4 L195.3 843.5 L204.4 843.5 L215 843.2 L230 842.2 L246.4 840.8 L258 839.8 L258 910 L34 910Z" fill="#0060ff"/>
<path d="M34 836.7 L42.2 836.8 L54 837.1 L66 837.7 L76.8 838.9 L87.8 840.4 L100 841.6 L114.4 842.5 L130 843.1 L145 843.6 L159.1 844.2 L172.6 844.7 L185 845.1 L195.3 845.4 L204.4 845.6 L215 845.3 L230 844.2 L246.4 842.8 L258 841.7 L258 910 L34 910Z" fill="#0053ff"/>
<path d="M34 837.6 L42.2 837.7 L54 838 L66 838.6 L76.8 839.8 L87.8 841.4 L100 842.7 L114.4 843.6 L130 844.2 L145 844.8 L159.1 845.5 L172.6 846.2 L185 846.8 L195.3 847.3 L204.4 847.6 L215 847.4 L230 846.3 L246.4 844.7 L258 843.6 L258 910 L34 910Z" fill="#0046ff"/>
<path d="M34 838.5 L42.2 838.6 L54 838.9 L66 839.5 L76.8 840.8 L87.8 842.4 L100 843.8 L114.4 844.6 L130 845.3 L145 846 L159.1 846.9 L172.6 847.8 L185 848.5 L195.3 849.1 L204.4 849.6 L215 849.5 L230 848.4 L246.4 846.7 L258 845.5 L258 910 L34 910Z" fill="#0039ff"/>
<path d="M34 839.4 L42.2 839.5 L54 839.8 L66 840.4 L76.8 841.7 L87.8 843.4 L100 844.8 L114.4 845.7 L130 846.4 L145 847.2 L159.1 848.2 L172.6 849.3 L185 850.2 L195.3 851 L204.4 851.6 L215 851.6 L230 850.5 L246.4 848.7 L258 847.4 L258 910 L34 910Z" fill="#002dff"/>
<path d="M34 840.3 L42.2 840.4 L54 840.7 L66 841.3 L76.8 842.6 L87.8 844.3 L100 845.9 L114.4 846.8 L130 847.6 L145 848.4 L159.1 849.6 L172.6 850.8 L185 851.9 L195.3 852.9 L204.4 853.6 L215 853.7 L230 852.5 L246.4 850.7 L258 849.3 L258 910 L34 910Z" fill="#0020ff"/>
<path d="M34 841.2 L42.2 841.3 L54 841.6 L66 842.2 L76.8 843.6 L87.8 845.3 L100 846.9 L114.4 847.9 L130 848.7 L145 849.6 L159.1 850.9 L172.6 852.4 L185 853.6 L195.3 854.7 L204.4 855.6 L215 855.8 L230 854.6 L246.4 852.6 L258 851.2 L258 910 L34 910Z" fill="#0013ff"/>
<path d="M34 842.1 L42.2 842.2 L54 842.4 L66 843.1 L76.8 844.5 L87.8 846.3 L100 848 L114.4 849 L130 849.8 L145 850.8 L159.1 852.2 L172.6 853.9 L185 855.3 L195.3 856.6 L204.4 857.7 L215 857.9 L230 856.7 L246.4 854.6 L258 853.1 L258 910 L34 910Z" fill="#0006ff"/>
<path d="M34 843 L42.2 843.1 L54 843.3 L66 844 L76.8 845.4 L87.8 847.3 L100 849 L114.4 850.1 L130 850.9 L145 852 L159.1 853.6 L172.6 855.4 L185 857 L195.3 858.4 L204.4 859.7 L215 860 L230 858.7 L246.4 856.6 L258 855 L258 910 L34 910Z" fill="#0000f9"/>
<path d="M34 844.5 L42.2 844.9 L54 845.6 L66 846.8 L76.8 848.6 L87.8 850.8 L100 852.8 L114.4 854.1 L130 855.3 L145 856.5 L159.1 858 L172.6 859.5 L185 860.8 L195.3 861.9 L204.4 862.9 L215 863 L230 861.6 L246.4 859.4 L258 857.8 L258 910 L34 910Z" fill="#0000ee"/>
<path d="M34 846 L42.2 846.8 L54 847.9 L66 849.5 L76.8 851.7 L87.8 854.2 L100 856.5 L114.4 858.2 L130 859.7 L145 861 L159.1 862.3 L172.6 863.5 L185 864.5 L195.3 865.4 L204.4 866.1 L215 866 L230 864.5 L246.4 862.2 L258 860.5 L258 910 L34 910Z" fill="#0000e2"/>
<path d="M34 847.5 L42.2 848.6 L54 850.2 L66 852.2 L76.8 854.8 L87.8 857.7 L100 860.2 L114.4 862.3 L130 864 L145 865.5 L159.1 866.7 L172.6 867.6 L185 868.2 L195.3 868.9 L204.4 869.3 L215 869 L230 867.4 L246.4 865 L258 863.2 L258 910 L34 910Z" fill="#0000d7"/>
<path d="M34 849 L42.2 850.4 L54 852.6 L66 855 L76.8 857.9 L87.8 861.1 L100 864 L114.4 866.4 L130 868.4 L145 870 L159.1 871 L172.6 871.6 L185 872 L195.3 872.4 L204.4 872.5 L215 872 L230 870.2 L246.4 867.8 L258 866 L258 910 L34 910Z" fill="#0000cb"/>
<path d="M34 850.2 L42.2 852 L54 854.6 L66 857.5 L76.8 860.7 L87.8 864.2 L100 867.5 L114.4 870.5 L130 873.1 L145 875 L159.1 875.7 L172.6 875.5 L185 875.2 L195.3 875.1 L204.4 874.9 L215 874 L230 872 L246.4 869.4 L258 867.5 L258 910 L34 910Z" fill="#0000be"/>
<path d="M34 851.5 L42.2 853.6 L54 856.7 L66 860 L76.8 863.6 L87.8 867.4 L100 871 L114.4 874.5 L130 877.9 L145 880 L159.1 880.3 L172.6 879.5 L185 878.5 L195.3 877.9 L204.4 877.2 L215 876 L230 873.7 L246.4 871 L258 869 L258 910 L34 910Z" fill="#0000b1"/>
<path d="M34 852.8 L42.2 855.2 L54 858.7 L66 862.5 L76.8 866.4 L87.8 870.5 L100 874.5 L114.4 878.6 L130 882.6 L145 885 L159.1 885 L172.6 883.4 L185 881.8 L195.3 880.7 L204.4 879.5 L215 878 L230 875.5 L246.4 872.6 L258 870.5 L258 910 L34 910Z" fill="#0000a4"/>
<path d="M34 854 L42.2 856.8 L54 860.8 L66 865 L76.8 869.2 L87.8 873.7 L100 878 L114.4 882.7 L130 887.3 L145 890 L159.1 889.6 L172.6 887.3 L185 885 L195.3 883.4 L204.4 881.9 L215 880 L230 877.3 L246.4 874.2 L258 872 L258 910 L34 910Z" fill="#000096"/>
<path d="M34 867 L42.2 868.9 L54 871.8 L66 875 L76.8 878.6 L87.8 882.6 L100 886.5 L114.4 890.8 L130 895 L145 897.5 L159.1 897 L172.6 894.8 L185 892.5 L195.3 890.9 L204.4 889.3 L215 887.5 L230 885.2 L246.4 882.7 L258 881 L258 910 L34 910Z" fill="#000087"/>
</g>
<line x1="38.6" y1="852.5" x2="38.6" y2="755.6" stroke="#5e5e5e" stroke-width="0.6"/>
<line x1="38.6" y1="852.5" x2="148" y2="897.1" stroke="#5e5e5e" stroke-width="0.6"/>
<line x1="148" y1="897.1" x2="289.6" y2="863.1" stroke="#5e5e5e" stroke-width="0.6"/>
<line x1="38.6" y1="852.5" x2="35.8" y2="851.7" stroke="#5e5e5e" stroke-width="0.6"/>
<text transform="translate(32.6,854.1) scale(1.270,1)" font-family='"Liberation Sans", sans-serif' font-size="7.30" text-anchor="end" fill="#333">0</text>
<line x1="38.6" y1="836.4" x2="35.8" y2="835.6" stroke="#5e5e5e" stroke-width="0.6"/>
<text transform="translate(32.6,838) scale(1.270,1)" font-family='"Liberation Sans", sans-serif' font-size="7.30" text-anchor="end" fill="#333">0.5</text>
<line x1="38.6" y1="820.2" x2="35.8" y2="819.4" stroke="#5e5e5e" stroke-width="0.6"/>
<text transform="translate(32.6,821.8) scale(1.270,1)" font-family='"Liberation Sans", sans-serif' font-size="7.30" text-anchor="end" fill="#333">1</text>
<line x1="38.6" y1="804" x2="35.8" y2="803.2" stroke="#5e5e5e" stroke-width="0.6"/>
<text transform="translate(32.6,805.6) scale(1.270,1)" font-family='"Liberation Sans", sans-serif' font-size="7.30" text-anchor="end" fill="#333">1.5</text>
<line x1="38.6" y1="787.9" x2="35.8" y2="787.1" stroke="#5e5e5e" stroke-width="0.6"/>
<text transform="translate(32.6,789.5) scale(1.270,1)" font-family='"Liberation Sans", sans-serif' font-size="7.30" text-anchor="end" fill="#333">2</text>
<line x1="38.6" y1="771.8" x2="35.8" y2="771" stroke="#5e5e5e" stroke-width="0.6"/>
<text transform="translate(32.6,773.4) scale(1.270,1)" font-family='"Liberation Sans", sans-serif' font-size="7.30" text-anchor="end" fill="#333">2.5</text>
<line x1="38.6" y1="755.6" x2="35.8" y2="754.8" stroke="#5e5e5e" stroke-width="0.6"/>
<text transform="translate(32.6,757.2) scale(1.270,1)" font-family='"Liberation Sans", sans-serif' font-size="7.30" text-anchor="end" fill="#333">3</text>
<line x1="38.6" y1="852.5" x2="35.6" y2="853.4" stroke="#5e5e5e" stroke-width="0.6"/>
<text transform="translate(30,862.7) scale(1.270,1)" font-family='"Liberation Sans", sans-serif' font-size="7.30" text-anchor="middle" fill="#333">1</text>
<line x1="93.3" y1="874.8" x2="90.3" y2="875.7" stroke="#5e5e5e" stroke-width="0.6"/>
<text transform="translate(80,884.3) scale(1.270,1)" font-family='"Liberation Sans", sans-serif' font-size="7.30" text-anchor="middle" fill="#333">0.5</text>
<line x1="148" y1="897.1" x2="145" y2="898" stroke="#5e5e5e" stroke-width="0.6"/>
<text transform="translate(138,906.1) scale(1.270,1)" font-family='"Liberation Sans", sans-serif' font-size="7.30" text-anchor="middle" fill="#333">0</text>
<line x1="148" y1="897.1" x2="150.6" y2="898.3" stroke="#5e5e5e" stroke-width="0.6"/>
<text transform="translate(156.4,907.9) scale(1.270,1)" font-family='"Liberation Sans", sans-serif' font-size="7.30" text-anchor="middle" fill="#333">0</text>
<line x1="195.2" y1="885.8" x2="197.8" y2="887" stroke="#5e5e5e" stroke-width="0.6"/>
<text transform="translate(206.4,896.6) scale(1.270,1)" font-family='"Liberation Sans", sans-serif' font-size="7.30" text-anchor="middle" fill="#333">20</text>
<line x1="242.4" y1="874.4" x2="245" y2="875.6" stroke="#5e5e5e" stroke-width="0.6"/>
<text transform="translate(253.8,885.3) scale(1.270,1)" font-family='"Liberation Sans", sans-serif' font-size="7.30" text-anchor="middle" fill="#333">40</text>
<line x1="289.6" y1="863.1" x2="292.2" y2="864.3" stroke="#5e5e5e" stroke-width="0.6"/>
<text transform="translate(301,873.7) scale(1.270,1)" font-family='"Liberation Sans", sans-serif' font-size="7.30" text-anchor="middle" fill="#333">60</text>
<text transform="translate(91.5,905.3) scale(1.200,1)" font-family='"Liberation Sans", sans-serif' font-size="7.80" text-anchor="middle" fill="#333" font-style="italic">ξ</text>
<text transform="translate(219.5,908.7) scale(1.270,1)" font-family='"Liberation Sans", sans-serif' font-size="7.60" text-anchor="middle" fill="#333">Time</text>
<text transform="translate(12.4,804.5) scale(1.270,1) rotate(-90)" font-family='"Liberation Sans", sans-serif' font-size="7.40" text-anchor="middle" fill="#333">J(t)</text>
<rect x="315.2" y="722.3" width="14" height="175.3" fill="url(#jet)" stroke="#666" stroke-width="0.45"/>
<line x1="326.6" y1="734.4" x2="329.2" y2="734.4" stroke="#444" stroke-width="0.6"/>
<text transform="translate(333,737) scale(1.140,1)" font-family='"Liberation Sans", sans-serif' font-size="7.30" text-anchor="start" fill="#333">2.5</text>
<line x1="326.6" y1="767.5" x2="329.2" y2="767.5" stroke="#444" stroke-width="0.6"/>
<text transform="translate(333,770.1) scale(1.140,1)" font-family='"Liberation Sans", sans-serif' font-size="7.30" text-anchor="start" fill="#333">2</text>
<line x1="326.6" y1="800" x2="329.2" y2="800" stroke="#444" stroke-width="0.6"/>
<text transform="translate(333,802.6) scale(1.140,1)" font-family='"Liberation Sans", sans-serif' font-size="7.30" text-anchor="start" fill="#333">1.5</text>
<line x1="326.6" y1="832.8" x2="329.2" y2="832.8" stroke="#444" stroke-width="0.6"/>
<text transform="translate(333,835.4) scale(1.140,1)" font-family='"Liberation Sans", sans-serif' font-size="7.30" text-anchor="start" fill="#333">1</text>
<line x1="326.6" y1="865.6" x2="329.2" y2="865.6" stroke="#444" stroke-width="0.6"/>
<text transform="translate(333,868.2) scale(1.140,1)" font-family='"Liberation Sans", sans-serif' font-size="7.30" text-anchor="start" fill="#333">0.5</text>
<line x1="326.6" y1="897.4" x2="329.2" y2="897.4" stroke="#444" stroke-width="0.6"/>
<text transform="translate(333,900) scale(1.140,1)" font-family='"Liberation Sans", sans-serif' font-size="7.30" text-anchor="start" fill="#333">0</text>
<clipPath id="kb"><rect x="418" y="3" width="260.5" height="175"/></clipPath>
<rect x="418" y="3" width="260.5" height="175" fill="#800000"/>
<g clip-path="url(#kb)">
<path d="M418.9 3 L418.9 14.2 L418.9 29.9 L418.8 48.3 L418.8 67.8 L418.8 86.6 L418.8 103 L418.8 117.8 L418.8 132.6 L418.8 146.8 L418.8 159.5 L418.8 170.1 L418.8 178 L418.8 180 L680.5 180 L680.5 1 L418.9 1Z" fill="#b04000"/>
<path d="M419.5 3 L419.5 8.9 L419.4 16.5 L419.4 25.8 L419.3 36.7 L419.2 49.1 L419.2 63 L419.2 80.3 L419.1 101.5 L419.1 124.2 L419.1 146.1 L419.1 164.9 L419.1 178 L419.1 180 L680.5 180 L680.5 1 L419.5 1Z" fill="#c89600"/>
<path d="M420.4 3 L420.3 8.9 L420.2 16.5 L420.1 25.8 L420 36.7 L419.9 49.1 L419.8 63 L419.7 80.3 L419.7 101.5 L419.7 124.2 L419.6 146.1 L419.6 164.9 L419.6 178 L419.6 180 L680.5 180 L680.5 1 L420.4 1Z" fill="#c4bc08"/>
<path d="M421.4 3 L421.3 9.5 L421.3 18.6 L421.2 29.2 L421.1 40.8 L421 52.3 L420.9 63 L420.8 73.1 L420.7 83.2 L420.6 93.3 L420.5 103.4 L420.4 113.3 L420.3 123 L420.2 133.1 L420.2 143.7 L420.2 154.2 L420.1 163.9 L420.1 172.1 L420.1 178 L420.1 180 L680.5 180 L680.5 1 L421.4 1Z" fill="#66ff99"/>
<path d="M421.4 3 L421.3 9.5 L421.3 18.6 L421.2 29.2 L421.1 40.8 L421 52.3 L420.9 63 L420.8 73.1 L420.7 83.2 L420.6 93.3 L420.5 103.4 L420.4 113.3 L420.3 123 L420.2 133.1 L420.2 143.7 L420.2 154.2 L420.1 163.9 L420.1 172.1 L420.1 178" fill="none" stroke="#101010" stroke-width="0.25"/>
<path d="M423.1 3 L423.1 9.9 L423.1 19.7 L423 31.1 L423 43 L423 54 L423 63 L423 69.8 L423 75.4 L423.1 80.1 L423.1 84.4 L423.2 88.6 L423.2 93 L423.2 97.6 L423.3 102.2 L423.4 106.7 L423.4 111 L423.5 115.1 L423.6 119 L423.7 122.7 L423.8 126.1 L424 129.4 L424.1 132.5 L424.3 135.4 L424.5 138.3 L424.7 141 L424.9 143.5 L425.1 145.9 L425.3 148.2 L425.6 150.5 L425.9 152.7 L426.2 154.9 L426.6 157.2 L426.9 159.4 L427.4 161.5 L427.8 163.4 L428.3 165.3 L428.9 167 L429.5 168.7 L430.1 170.2 L430.8 171.6 L431.5 172.8 L432.2 174 L432.9 175 L433.8 175.9 L434.6 176.7 L435.4 177.3 L436 177.9 L436.5 178.3 L436.5 180 L680.5 180 L680.5 1 L423.1 1Z" fill="#0ae4ff"/>
<path d="M423.1 3 L423.1 9.9 L423.1 19.7 L423 31.1 L423 43 L423 54 L423 63 L423 69.8 L423 75.4 L423.1 80.1 L423.1 84.4 L423.2 88.6 L423.2 93 L423.2 97.6 L423.3 102.2 L423.4 106.7 L423.4 111 L423.5 115.1 L423.6 119 L423.7 122.7 L423.8 126.1 L424 129.4 L424.1 132.5 L424.3 135.4 L424.5 138.3 L424.7 141 L424.9 143.5 L425.1 145.9 L425.3 148.2 L425.6 150.5 L425.9 152.7 L426.2 154.9 L426.6 157.2 L426.9 159.4 L427.4 161.5 L427.8 163.4 L428.3 165.3 L428.9 167 L429.5 168.7 L430.1 170.2 L430.8 171.6 L431.5 172.8 L432.2 174 L432.9 175 L433.8 175.9 L434.6 176.7 L435.4 177.3 L436 177.9 L436.5 178.3" fill="none" stroke="#101010" stroke-width="0.45"/>
<path d="M425.9 3 L425.9 4 L426 8.5 L426.1 17.4 L426.2 29.5 L426.4 42.7 L426.6 55.7 L426.9 67.6 L427.3 78.1 L427.9 87.2 L428.5 95.1 L429.2 101.9 L430 107.9 L430.9 113 L432 117.6 L433.1 121.6 L434.5 125.2 L435.9 128.4 L437.5 131.2 L439.3 133.8 L441.2 136.2 L443.2 138.3 L445.4 140.2 L447.8 142 L450.4 143.7 L453.1 145.2 L456.1 146.6 L459.2 147.9 L462.5 149.1 L465.9 150.2 L469.6 151.3 L473.5 152.3 L477.6 153.2 L481.9 154.1 L486.4 154.9 L491.2 155.7 L496.1 156.4 L501.3 157.1 L506.7 157.8 L512.4 158.4 L518.2 159 L524.4 159.6 L530.7 160.1 L537.3 160.7 L544.2 161.2 L551.3 161.6 L558.7 162.1 L566.3 162.5 L574.2 162.9 L582.4 163.3 L590.8 163.7 L599.5 164.1 L608.5 164.4 L617.8 164.8 L627.4 165.1 L637.2 165.4 L647.3 165.7 L657.8 166 L668.5 166.3 L679.5 166.6 L680.5 166.6 L680.5 1 L425.9 1Z" fill="#005cff"/>
<path d="M425.9 3 L425.9 4 L426 8.5 L426.1 17.4 L426.2 29.5 L426.4 42.7 L426.6 55.7 L426.9 67.6 L427.3 78.1 L427.9 87.2 L428.5 95.1 L429.2 101.9 L430 107.9 L430.9 113 L432 117.6 L433.1 121.6 L434.5 125.2 L435.9 128.4 L437.5 131.2 L439.3 133.8 L441.2 136.2 L443.2 138.3 L445.4 140.2 L447.8 142 L450.4 143.7 L453.1 145.2 L456.1 146.6 L459.2 147.9 L462.5 149.1 L465.9 150.2 L469.6 151.3 L473.5 152.3 L477.6 153.2 L481.9 154.1 L486.4 154.9 L491.2 155.7 L496.1 156.4 L501.3 157.1 L506.7 157.8 L512.4 158.4 L518.2 159 L524.4 159.6 L530.7 160.1 L537.3 160.7 L544.2 161.2 L551.3 161.6 L558.7 162.1 L566.3 162.5 L574.2 162.9 L582.4 163.3 L590.8 163.7 L599.5 164.1 L608.5 164.4 L617.8 164.8 L627.4 165.1 L637.2 165.4 L647.3 165.7 L657.8 166 L668.5 166.3 L679.5 166.6" fill="none" stroke="#101010" stroke-width="0.45"/>
<path d="M427 3 L427 3.1 L427 3.8 L427.1 5.2 L427.2 7.5 L427.4 10.8 L427.7 15 L428 20.1 L428.4 25.8 L428.9 32 L429.5 38.4 L430.2 44.9 L431 51.3 L432 57.5 L433 63.4 L434.2 68.9 L435.5 74.1 L436.9 79 L438.5 83.4 L440.3 87.5 L442.2 91.3 L444.2 94.8 L446.4 97.9 L448.8 100.8 L451.4 103.5 L454.1 106 L457 108.2 L460.1 110.3 L463.4 112.2 L466.8 114 L470.5 115.6 L474.4 117.1 L478.5 118.5 L482.7 119.8 L487.2 121 L492 122.1 L496.9 123.2 L502.1 124.1 L507.4 125.1 L513.1 125.9 L518.9 126.7 L525 127.5 L531.4 128.2 L537.9 128.8 L544.8 129.5 L551.9 130 L559.2 130.6 L566.8 131.1 L574.7 131.6 L582.8 132.1 L591.2 132.5 L599.9 133 L608.8 133.4 L618.1 133.7 L627.6 134.1 L637.4 134.4 L647.5 134.8 L657.8 135.1 L668.5 135.4 L679.5 135.7 L680.5 135.7 L680.5 1 L427 1Z" fill="#0000d8"/>
<path d="M427 3 L427 3.1 L427 3.8 L427.1 5.2 L427.2 7.5 L427.4 10.8 L427.7 15 L428 20.1 L428.4 25.8 L428.9 32 L429.5 38.4 L430.2 44.9 L431 51.3 L432 57.5 L433 63.4 L434.2 68.9 L435.5 74.1 L436.9 79 L438.5 83.4 L440.3 87.5 L442.2 91.3 L444.2 94.8 L446.4 97.9 L448.8 100.8 L451.4 103.5 L454.1 106 L457 108.2 L460.1 110.3 L463.4 112.2 L466.8 114 L470.5 115.6 L474.4 117.1 L478.5 118.5 L482.7 119.8 L487.2 121 L492 122.1 L496.9 123.2 L502.1 124.1 L507.4 125.1 L513.1 125.9 L518.9 126.7 L525 127.5 L531.4 128.2 L537.9 128.8 L544.8 129.5 L551.9 130 L559.2 130.6 L566.8 131.1 L574.7 131.6 L582.8 132.1 L591.2 132.5 L599.9 133 L608.8 133.4 L618.1 133.7 L627.6 134.1 L637.4 134.4 L647.5 134.8 L657.8 135.1 L668.5 135.4 L679.5 135.7" fill="none" stroke="#101010" stroke-width="0.45"/>
</g>
<rect x="418" y="3" width="260.5" height="175" fill="none" stroke="#222" stroke-width="0.5"/>
<line x1="418" y1="3" x2="420.5" y2="3" stroke="#222" stroke-width="0.5"/>
<line x1="678.5" y1="3" x2="676" y2="3" stroke="#222" stroke-width="0.5"/>
<text transform="translate(414.2,5.4) scale(1.370,1)" font-family='"Liberation Sans", sans-serif' font-size="6.70" text-anchor="end" fill="#1a1a1a">1</text>
<line x1="418" y1="22.4" x2="420.5" y2="22.4" stroke="#222" stroke-width="0.5"/>
<line x1="678.5" y1="22.4" x2="676" y2="22.4" stroke="#222" stroke-width="0.5"/>
<text transform="translate(414.2,24.8) scale(1.370,1)" font-family='"Liberation Sans", sans-serif' font-size="6.70" text-anchor="end" fill="#1a1a1a">0.9</text>
<line x1="418" y1="41.9" x2="420.5" y2="41.9" stroke="#222" stroke-width="0.5"/>
<line x1="678.5" y1="41.9" x2="676" y2="41.9" stroke="#222" stroke-width="0.5"/>
<text transform="translate(414.2,44.3) scale(1.370,1)" font-family='"Liberation Sans", sans-serif' font-size="6.70" text-anchor="end" fill="#1a1a1a">0.8</text>
<line x1="418" y1="61.3" x2="420.5" y2="61.3" stroke="#222" stroke-width="0.5"/>
<line x1="678.5" y1="61.3" x2="676" y2="61.3" stroke="#222" stroke-width="0.5"/>
<text transform="translate(414.2,63.7) scale(1.370,1)" font-family='"Liberation Sans", sans-serif' font-size="6.70" text-anchor="end" fill="#1a1a1a">0.7</text>
<line x1="418" y1="80.8" x2="420.5" y2="80.8" stroke="#222" stroke-width="0.5"/>
<line x1="678.5" y1="80.8" x2="676" y2="80.8" stroke="#222" stroke-width="0.5"/>
<text transform="translate(414.2,83.2) scale(1.370,1)" font-family='"Liberation Sans", sans-serif' font-size="6.70" text-anchor="end" fill="#1a1a1a">0.6</text>
<line x1="418" y1="100.2" x2="420.5" y2="100.2" stroke="#222" stroke-width="0.5"/>
<line x1="678.5" y1="100.2" x2="676" y2="100.2" stroke="#222" stroke-width="0.5"/>
<text transform="translate(414.2,102.6) scale(1.370,1)" font-family='"Liberation Sans", sans-serif' font-size="6.70" text-anchor="end" fill="#1a1a1a">0.5</text>
<line x1="418" y1="119.7" x2="420.5" y2="119.7" stroke="#222" stroke-width="0.5"/>
<line x1="678.5" y1="119.7" x2="676" y2="119.7" stroke="#222" stroke-width="0.5"/>
<text transform="translate(414.2,122.1) scale(1.370,1)" font-family='"Liberation Sans", sans-serif' font-size="6.70" text-anchor="end" fill="#1a1a1a">0.4</text>
<line x1="418" y1="139.1" x2="420.5" y2="139.1" stroke="#222" stroke-width="0.5"/>
<line x1="678.5" y1="139.1" x2="676" y2="139.1" stroke="#222" stroke-width="0.5"/>
<text transform="translate(414.2,141.5) scale(1.370,1)" font-family='"Liberation Sans", sans-serif' font-size="6.70" text-anchor="end" fill="#1a1a1a">0.3</text>
<line x1="418" y1="158.6" x2="420.5" y2="158.6" stroke="#222" stroke-width="0.5"/>
<line x1="678.5" y1="158.6" x2="676" y2="158.6" stroke="#222" stroke-width="0.5"/>
<text transform="translate(414.2,161) scale(1.370,1)" font-family='"Liberation Sans", sans-serif' font-size="6.70" text-anchor="end" fill="#1a1a1a">0.2</text>
<line x1="418" y1="178" x2="420.5" y2="178" stroke="#222" stroke-width="0.5"/>
<line x1="678.5" y1="178" x2="676" y2="178" stroke="#222" stroke-width="0.5"/>
<text transform="translate(414.2,180.4) scale(1.370,1)" font-family='"Liberation Sans", sans-serif' font-size="6.70" text-anchor="end" fill="#1a1a1a">0.1</text>
<line x1="418" y1="178" x2="418" y2="175.5" stroke="#222" stroke-width="0.5"/>
<line x1="418" y1="3" x2="418" y2="5.5" stroke="#222" stroke-width="0.5"/>
<text transform="translate(418,188.7) scale(1.370,1)" font-family='"Liberation Sans", sans-serif' font-size="6.70" text-anchor="middle" fill="#1a1a1a">0</text>
<line x1="470.1" y1="178" x2="470.1" y2="175.5" stroke="#222" stroke-width="0.5"/>
<line x1="470.1" y1="3" x2="470.1" y2="5.5" stroke="#222" stroke-width="0.5"/>
<text transform="translate(470.1,188.7) scale(1.370,1)" font-family='"Liberation Sans", sans-serif' font-size="6.70" text-anchor="middle" fill="#1a1a1a">10</text>
<line x1="522.2" y1="178" x2="522.2" y2="175.5" stroke="#222" stroke-width="0.5"/>
<line x1="522.2" y1="3" x2="522.2" y2="5.5" stroke="#222" stroke-width="0.5"/>
<text transform="translate(522.2,188.7) scale(1.370,1)" font-family='"Liberation Sans", sans-serif' font-size="6.70" text-anchor="middle" fill="#1a1a1a">20</text>
<line x1="574.3" y1="178" x2="574.3" y2="175.5" stroke="#222" stroke-width="0.5"/>
<line x1="574.3" y1="3" x2="574.3" y2="5.5" stroke="#222" stroke-width="0.5"/>
<text transform="translate(574.3,188.7) scale(1.370,1)" font-family='"Liberation Sans", sans-serif' font-size="6.70" text-anchor="middle" fill="#1a1a1a">30</text>
<line x1="626.4" y1="178" x2="626.4" y2="175.5" stroke="#222" stroke-width="0.5"/>
<line x1="626.4" y1="3" x2="626.4" y2="5.5" stroke="#222" stroke-width="0.5"/>
<text transform="translate(626.4,188.7) scale(1.370,1)" font-family='"Liberation Sans", sans-serif' font-size="6.70" text-anchor="middle" fill="#1a1a1a">40</text>
<line x1="678.5" y1="178" x2="678.5" y2="175.5" stroke="#222" stroke-width="0.5"/>
<line x1="678.5" y1="3" x2="678.5" y2="5.5" stroke="#222" stroke-width="0.5"/>
<text transform="translate(678.5,188.7) scale(1.370,1)" font-family='"Liberation Sans", sans-serif' font-size="6.70" text-anchor="middle" fill="#1a1a1a">50</text>
<text transform="translate(548.5,198.6) scale(1.370,1)" font-family='"Liberation Sans", sans-serif' font-size="7.20" text-anchor="middle" fill="#1a1a1a">Time</text>
<text transform="translate(397.2,91) rotate(-90)" font-family='"Liberation Sans", sans-serif' font-size="9.50" text-anchor="middle" fill="#1a1a1a">ξ</text>
<rect x="691" y="3" width="14.5" height="175" fill="url(#jet)" stroke="#222" stroke-width="0.45"/>
<line x1="703" y1="3.6" x2="705.5" y2="3.6" stroke="#222" stroke-width="0.5"/>
<text transform="translate(708.8,6) scale(1.270,1)" font-family='"Liberation Sans", sans-serif' font-size="6.70" text-anchor="start" fill="#1a1a1a">0.8</text>
<line x1="703" y1="26.3" x2="705.5" y2="26.3" stroke="#222" stroke-width="0.5"/>
<text transform="translate(708.8,28.7) scale(1.270,1)" font-family='"Liberation Sans", sans-serif' font-size="6.70" text-anchor="start" fill="#1a1a1a">0.7</text>
<line x1="703" y1="49" x2="705.5" y2="49" stroke="#222" stroke-width="0.5"/>
<text transform="translate(708.8,51.4) scale(1.270,1)" font-family='"Liberation Sans", sans-serif' font-size="6.70" text-anchor="start" fill="#1a1a1a">0.6</text>
<line x1="703" y1="72" x2="705.5" y2="72" stroke="#222" stroke-width="0.5"/>
<text transform="translate(708.8,74.4) scale(1.270,1)" font-family='"Liberation Sans", sans-serif' font-size="6.70" text-anchor="start" fill="#1a1a1a">0.5</text>
<line x1="703" y1="94.6" x2="705.5" y2="94.6" stroke="#222" stroke-width="0.5"/>
<text transform="translate(708.8,97) scale(1.270,1)" font-family='"Liberation Sans", sans-serif' font-size="6.70" text-anchor="start" fill="#1a1a1a">0.4</text>
<line x1="703" y1="117.6" x2="705.5" y2="117.6" stroke="#222" stroke-width="0.5"/>
<text transform="translate(708.8,120) scale(1.270,1)" font-family='"Liberation Sans", sans-serif' font-size="6.70" text-anchor="start" fill="#1a1a1a">0.3</text>
<line x1="703" y1="140.6" x2="705.5" y2="140.6" stroke="#222" stroke-width="0.5"/>
<text transform="translate(708.8,143) scale(1.270,1)" font-family='"Liberation Sans", sans-serif' font-size="6.70" text-anchor="start" fill="#1a1a1a">0.2</text>
<line x1="703" y1="163.3" x2="705.5" y2="163.3" stroke="#222" stroke-width="0.5"/>
<text transform="translate(708.8,165.7) scale(1.270,1)" font-family='"Liberation Sans", sans-serif' font-size="6.70" text-anchor="start" fill="#1a1a1a">0.1</text>
<path d="M431.8 3 L432 4.3 L432.3 6.1 L432.6 8.2 L432.9 10.4 L433.3 12.6 L433.7 14.5 L434.1 16.2 L434.5 17.8 L435 19.4 L435.5 21 L436 22.5 L436.6 24.1 L437.3 25.7 L438 27.4 L438.7 29.1 L439.5 30.7 L440.4 32.3 L441.4 33.8 L442.5 35.2 L443.7 36.5 L444.9 37.8 L446.3 39.1 L447.7 40.3 L449.1 41.5 L450.6 42.7 L452.2 43.9 L453.8 45 L455.5 46.1 L457.2 47.2 L458.8 48.3 L460.4 49.3 L462 50.3 L463.6 51.3 L465.2 52.2 L466.8 53.1 L468.4 54 L470 54.9 L471.6 55.7 L473.2 56.5 L474.9 57.3 L476.5 58.1 L478.1 58.9 L479.7 59.6 L481.2 60.3 L482.7 61 L484.3 61.7 L485.9 62.4 L487.7 63.2 L489.5 64 L491.3 64.8 L493.2 65.7 L495.2 66.6 L497.5 67.7 L500 68.8 L502.9 70.1 L506.1 71.6 L509.5 73.1 L513 74.7 L516.6 76.3 L520 77.8 L523.3 79.3 L526.7 80.8 L530 82.3 L533.3 83.7 L536.7 85.2 L540 86.6 L543.3 88 L546.6 89.4 L549.9 90.8 L553.3 92.1 L556.6 93.4 L560 94.6 L563.7 95.8 L567.6 97 L571.6 98.2 L575.4 99.3 L578.5 100.1 L580.8 100.8 L600 101.6 L620 102.6 L645 103.6 L678.5 105 L678.5 3 L432 3Z" fill="#00008f"/>
<path d="M431.8 3 L432 4.3 L432.3 6.1 L432.6 8.2 L432.9 10.4 L433.3 12.6 L433.7 14.5 L434.1 16.2 L434.5 17.8 L435 19.4 L435.5 21 L436 22.5 L436.6 24.1 L437.3 25.7 L438 27.4 L438.7 29.1 L439.5 30.7 L440.4 32.3 L441.4 33.8 L442.5 35.2 L443.7 36.5 L444.9 37.8 L446.3 39.1 L447.7 40.3 L449.1 41.5 L450.6 42.7 L452.2 43.9 L453.8 45 L455.5 46.1 L457.2 47.2 L458.8 48.3 L460.4 49.3 L462 50.3 L463.6 51.3 L465.2 52.2 L466.8 53.1 L468.4 54 L470 54.9 L471.6 55.7 L473.2 56.5 L474.9 57.3 L476.5 58.1 L478.1 58.9 L479.7 59.6 L481.2 60.3 L482.7 61 L484.3 61.7 L485.9 62.4 L487.7 63.2 L489.5 64 L491.3 64.8 L493.2 65.7 L495.2 66.6 L497.5 67.7 L500 68.8 L502.9 70.1 L506.1 71.6 L509.5 73.1 L513 74.7 L516.6 76.3 L520 77.8 L523.3 79.3 L526.7 80.8 L530 82.3 L533.3 83.7 L536.7 85.2 L540 86.6 L543.3 88 L546.6 89.4 L549.9 90.8 L553.3 92.1 L556.6 93.4 L560 94.6 L563.7 95.8 L567.6 97 L571.6 98.2 L575.4 99.3 L578.5 100.1 L580.8 100.8 L600 101.6 L620 102.6 L645 103.6 L678.5 105" fill="none" stroke="#101010" stroke-width="0.45"/>
<rect x="418" y="3" width="260.5" height="175" fill="none" stroke="#222" stroke-width="0.5"/>
<clipPath id="kd"><rect x="418" y="243" width="260.5" height="175"/></clipPath>
<rect x="418" y="243" width="260.5" height="175" fill="#00008f"/>
<g clip-path="url(#kd)">
<path d="M420.6 243 L420.6 249.5 L420.5 258.8 L420.4 269.6 L420.4 280.9 L420.3 291.4 L420.2 300 L420.1 306.5 L420 311.7 L419.9 316.2 L419.9 320.4 L419.8 324.8 L419.7 330 L419.6 335.9 L419.6 342.3 L419.6 348.9 L419.5 355.5 L419.5 361.9 L419.4 368 L419.3 373.9 L419.2 379.9 L419.1 385.6 L418.9 391 L418.8 395.9 L418.7 400 L418.6 403.3 L418.4 405.9 L418.3 408 L418.2 409.6 L418.1 410.9 L418 412 L416 412 L416 420 L680.5 420 L680.5 241 L420.6 241Z" fill="#0023ff"/>
<path d="M420.6 243 L420.6 249.5 L420.5 258.8 L420.4 269.6 L420.4 280.9 L420.3 291.4 L420.2 300 L420.1 306.5 L420 311.7 L419.9 316.2 L419.9 320.4 L419.8 324.8 L419.7 330 L419.6 335.9 L419.6 342.3 L419.6 348.9 L419.5 355.5 L419.5 361.9 L419.4 368 L419.3 373.9 L419.2 379.9 L419.1 385.6 L418.9 391 L418.8 395.9 L418.7 400 L418.6 403.3 L418.4 405.9 L418.3 408 L418.2 409.6 L418.1 410.9 L418 412" fill="none" stroke="#101010" stroke-width="0.45"/>
<path d="M422.5 243 L422.4 249.5 L422.3 258.8 L422.2 269.6 L422.1 280.9 L421.9 291.4 L421.8 300 L421.7 306.5 L421.6 311.7 L421.5 316.2 L421.3 320.4 L421.2 324.8 L421.1 330 L421 335.9 L420.9 342.1 L420.8 348.6 L420.7 355.1 L420.5 361.6 L420.4 368 L420.2 374.5 L420 381.3 L419.8 388.1 L419.6 394.6 L419.4 400.3 L419.2 405 L419 408.6 L418.8 411.3 L418.5 413.3 L418.3 414.8 L418.1 416 L418 417 L416 417 L416 420 L680.5 420 L680.5 241 L422.5 241Z" fill="#00b1ff"/>
<path d="M422.5 243 L422.4 249.5 L422.3 258.8 L422.2 269.6 L422.1 280.9 L421.9 291.4 L421.8 300 L421.7 306.5 L421.6 311.7 L421.5 316.2 L421.3 320.4 L421.2 324.8 L421.1 330 L421 335.9 L420.9 342.1 L420.8 348.6 L420.7 355.1 L420.5 361.6 L420.4 368 L420.2 374.5 L420 381.3 L419.8 388.1 L419.6 394.6 L419.4 400.3 L419.2 405 L419 408.6 L418.8 411.3 L418.5 413.3 L418.3 414.8 L418.1 416 L418 417" fill="none" stroke="#101010" stroke-width="0.45"/>
<path d="M425 243 L425 249.4 L424.9 258.4 L424.9 269 L424.8 280.1 L424.7 290.8 L424.7 300 L424.7 307.2 L424.6 313.1 L424.5 318.6 L424.5 324.4 L424.5 331.3 L424.5 340 L424.5 351.8 L424.6 366.4 L424.7 382 L424.8 397.1 L424.9 410 L425 419 L425 420 L680.5 420 L680.5 241 L425 241Z" fill="#40ffbf"/>
<path d="M425 243 L425 249.4 L424.9 258.4 L424.9 269 L424.8 280.1 L424.7 290.8 L424.7 300 L424.7 307.2 L424.6 313.1 L424.5 318.6 L424.5 324.4 L424.5 331.3 L424.5 340 L424.5 351.8 L424.6 366.4 L424.7 382 L424.8 397.1 L424.9 410 L425 419" fill="none" stroke="#101010" stroke-width="0.45"/>
<path d="M428.2 243 L428.2 244.1 L428.3 249.3 L428.3 259.4 L428.5 273 L428.6 287.9 L428.9 302.5 L429.2 315.8 L429.6 327.5 L430.1 337.6 L430.7 346.4 L431.4 353.9 L432.2 360.4 L433.2 366.1 L434.2 371 L435.4 375.4 L436.7 379.3 L438.1 382.7 L439.7 385.8 L441.4 388.6 L443.3 391.1 L445.4 393.4 L447.6 395.4 L449.9 397.4 L452.5 399.1 L455.2 400.7 L458.1 402.2 L461.1 403.6 L464.4 404.9 L467.9 406.1 L471.5 407.2 L475.4 408.2 L479.4 409.2 L483.7 410.1 L488.2 411 L492.9 411.8 L497.8 412.6 L502.9 413.3 L508.3 414 L513.9 414.6 L519.7 415.3 L525.8 415.8 L532.1 416.4 L538.6 416.9 L545.4 417.5 L552.5 417.9 L559.8 418.4 L567.3 418.9 L575.2 419.3 L583.3 419.7 L591.6 420.1 L600.3 420.5 L609.2 420.8 L618.4 421.2 L627.8 421.5 L637.6 421.8 L647.6 422.2 L658 422.5 L668.6 422.8 L679.5 423 L680.5 423 L680.5 241 L428.2 241Z" fill="#d6ff29"/>
<path d="M428.2 243 L428.2 244.1 L428.3 249.3 L428.3 259.4 L428.5 273 L428.6 287.9 L428.9 302.5 L429.2 315.8 L429.6 327.5 L430.1 337.6 L430.7 346.4 L431.4 353.9 L432.2 360.4 L433.2 366.1 L434.2 371 L435.4 375.4 L436.7 379.3 L438.1 382.7 L439.7 385.8 L441.4 388.6 L443.3 391.1 L445.4 393.4 L447.6 395.4 L449.9 397.4 L452.5 399.1 L455.2 400.7 L458.1 402.2 L461.1 403.6 L464.4 404.9 L467.9 406.1 L471.5 407.2 L475.4 408.2 L479.4 409.2 L483.7 410.1 L488.2 411 L492.9 411.8 L497.8 412.6 L502.9 413.3 L508.3 414 L513.9 414.6 L519.7 415.3 L525.8 415.8 L532.1 416.4 L538.6 416.9 L545.4 417.5 L552.5 417.9 L559.8 418.4 L567.3 418.9 L575.2 419.3 L583.3 419.7 L591.6 420.1 L600.3 420.5 L609.2 420.8 L618.4 421.2 L627.8 421.5 L637.6 421.8 L647.6 422.2 L658 422.5 L668.6 422.8 L679.5 423" fill="none" stroke="#101010" stroke-width="0.45"/>
<path d="M435 243 L435 243.4 L435 245.5 L435.1 249.8 L435.2 256.3 L435.4 264.7 L435.6 274.2 L436 284 L436.4 293.6 L436.8 302.7 L437.4 311 L438.1 318.6 L438.9 325.4 L439.8 331.4 L440.8 336.9 L442 341.7 L443.2 346 L444.6 349.9 L446.2 353.4 L447.9 356.6 L449.7 359.4 L451.7 362 L453.8 364.4 L456.1 366.5 L458.6 368.5 L461.2 370.4 L464 372 L467 373.6 L470.2 375 L473.6 376.4 L477.1 377.6 L480.9 378.8 L484.8 379.9 L489 380.9 L493.3 381.8 L497.9 382.7 L502.7 383.6 L507.7 384.4 L512.9 385.1 L518.3 385.8 L524 386.5 L529.9 387.1 L536 387.7 L542.4 388.3 L549 388.8 L555.9 389.4 L563 389.9 L570.4 390.3 L578 390.8 L585.9 391.2 L594 391.6 L602.4 392 L611.1 392.4 L620 392.8 L629.2 393.1 L638.7 393.5 L648.5 393.8 L658.5 394.1 L668.9 394.4 L679.5 394.7 L680.5 394.7 L680.5 241 L435 241Z" fill="#ff9400"/>
<path d="M435 243 L435 243.4 L435 245.5 L435.1 249.8 L435.2 256.3 L435.4 264.7 L435.6 274.2 L436 284 L436.4 293.6 L436.8 302.7 L437.4 311 L438.1 318.6 L438.9 325.4 L439.8 331.4 L440.8 336.9 L442 341.7 L443.2 346 L444.6 349.9 L446.2 353.4 L447.9 356.6 L449.7 359.4 L451.7 362 L453.8 364.4 L456.1 366.5 L458.6 368.5 L461.2 370.4 L464 372 L467 373.6 L470.2 375 L473.6 376.4 L477.1 377.6 L480.9 378.8 L484.8 379.9 L489 380.9 L493.3 381.8 L497.9 382.7 L502.7 383.6 L507.7 384.4 L512.9 385.1 L518.3 385.8 L524 386.5 L529.9 387.1 L536 387.7 L542.4 388.3 L549 388.8 L555.9 389.4 L563 389.9 L570.4 390.3 L578 390.8 L585.9 391.2 L594 391.6 L602.4 392 L611.1 392.4 L620 392.8 L629.2 393.1 L638.7 393.5 L648.5 393.8 L658.5 394.1 L668.9 394.4 L679.5 394.7" fill="none" stroke="#101010" stroke-width="0.45"/>
</g>
<rect x="418" y="243" width="260.5" height="175" fill="none" stroke="#222" stroke-width="0.5"/>
<line x1="418" y1="243" x2="420.5" y2="243" stroke="#222" stroke-width="0.5"/>
<line x1="678.5" y1="243" x2="676" y2="243" stroke="#222" stroke-width="0.5"/>
<text transform="translate(414.2,245.4) scale(1.370,1)" font-family='"Liberation Sans", sans-serif' font-size="6.70" text-anchor="end" fill="#1a1a1a">1</text>
<line x1="418" y1="262.4" x2="420.5" y2="262.4" stroke="#222" stroke-width="0.5"/>
<line x1="678.5" y1="262.4" x2="676" y2="262.4" stroke="#222" stroke-width="0.5"/>
<text transform="translate(414.2,264.8) scale(1.370,1)" font-family='"Liberation Sans", sans-serif' font-size="6.70" text-anchor="end" fill="#1a1a1a">0.9</text>
<line x1="418" y1="281.9" x2="420.5" y2="281.9" stroke="#222" stroke-width="0.5"/>
<line x1="678.5" y1="281.9" x2="676" y2="281.9" stroke="#222" stroke-width="0.5"/>
<text transform="translate(414.2,284.3) scale(1.370,1)" font-family='"Liberation Sans", sans-serif' font-size="6.70" text-anchor="end" fill="#1a1a1a">0.8</text>
<line x1="418" y1="301.3" x2="420.5" y2="301.3" stroke="#222" stroke-width="0.5"/>
<line x1="678.5" y1="301.3" x2="676" y2="301.3" stroke="#222" stroke-width="0.5"/>
<text transform="translate(414.2,303.7) scale(1.370,1)" font-family='"Liberation Sans", sans-serif' font-size="6.70" text-anchor="end" fill="#1a1a1a">0.7</text>
<line x1="418" y1="320.8" x2="420.5" y2="320.8" stroke="#222" stroke-width="0.5"/>
<line x1="678.5" y1="320.8" x2="676" y2="320.8" stroke="#222" stroke-width="0.5"/>
<text transform="translate(414.2,323.2) scale(1.370,1)" font-family='"Liberation Sans", sans-serif' font-size="6.70" text-anchor="end" fill="#1a1a1a">0.6</text>
<line x1="418" y1="340.2" x2="420.5" y2="340.2" stroke="#222" stroke-width="0.5"/>
<line x1="678.5" y1="340.2" x2="676" y2="340.2" stroke="#222" stroke-width="0.5"/>
<text transform="translate(414.2,342.6) scale(1.370,1)" font-family='"Liberation Sans", sans-serif' font-size="6.70" text-anchor="end" fill="#1a1a1a">0.5</text>
<line x1="418" y1="359.7" x2="420.5" y2="359.7" stroke="#222" stroke-width="0.5"/>
<line x1="678.5" y1="359.7" x2="676" y2="359.7" stroke="#222" stroke-width="0.5"/>
<text transform="translate(414.2,362.1) scale(1.370,1)" font-family='"Liberation Sans", sans-serif' font-size="6.70" text-anchor="end" fill="#1a1a1a">0.4</text>
<line x1="418" y1="379.1" x2="420.5" y2="379.1" stroke="#222" stroke-width="0.5"/>
<line x1="678.5" y1="379.1" x2="676" y2="379.1" stroke="#222" stroke-width="0.5"/>
<text transform="translate(414.2,381.5) scale(1.370,1)" font-family='"Liberation Sans", sans-serif' font-size="6.70" text-anchor="end" fill="#1a1a1a">0.3</text>
<line x1="418" y1="398.6" x2="420.5" y2="398.6" stroke="#222" stroke-width="0.5"/>
<line x1="678.5" y1="398.6" x2="676" y2="398.6" stroke="#222" stroke-width="0.5"/>
<text transform="translate(414.2,401) scale(1.370,1)" font-family='"Liberation Sans", sans-serif' font-size="6.70" text-anchor="end" fill="#1a1a1a">0.2</text>
<line x1="418" y1="418" x2="420.5" y2="418" stroke="#222" stroke-width="0.5"/>
<line x1="678.5" y1="418" x2="676" y2="418" stroke="#222" stroke-width="0.5"/>
<text transform="translate(414.2,420.4) scale(1.370,1)" font-family='"Liberation Sans", sans-serif' font-size="6.70" text-anchor="end" fill="#1a1a1a">0.1</text>
<line x1="418" y1="418" x2="418" y2="415.5" stroke="#222" stroke-width="0.5"/>
<line x1="418" y1="243" x2="418" y2="245.5" stroke="#222" stroke-width="0.5"/>
<text transform="translate(418,428.7) scale(1.370,1)" font-family='"Liberation Sans", sans-serif' font-size="6.70" text-anchor="middle" fill="#1a1a1a">0</text>
<line x1="470.1" y1="418" x2="470.1" y2="415.5" stroke="#222" stroke-width="0.5"/>
<line x1="470.1" y1="243" x2="470.1" y2="245.5" stroke="#222" stroke-width="0.5"/>
<text transform="translate(470.1,428.7) scale(1.370,1)" font-family='"Liberation Sans", sans-serif' font-size="6.70" text-anchor="middle" fill="#1a1a1a">10</text>
<line x1="522.2" y1="418" x2="522.2" y2="415.5" stroke="#222" stroke-width="0.5"/>
<line x1="522.2" y1="243" x2="522.2" y2="245.5" stroke="#222" stroke-width="0.5"/>
<text transform="translate(522.2,428.7) scale(1.370,1)" font-family='"Liberation Sans", sans-serif' font-size="6.70" text-anchor="middle" fill="#1a1a1a">20</text>
<line x1="574.3" y1="418" x2="574.3" y2="415.5" stroke="#222" stroke-width="0.5"/>
<line x1="574.3" y1="243" x2="574.3" y2="245.5" stroke="#222" stroke-width="0.5"/>
<text transform="translate(574.3,428.7) scale(1.370,1)" font-family='"Liberation Sans", sans-serif' font-size="6.70" text-anchor="middle" fill="#1a1a1a">30</text>
<line x1="626.4" y1="418" x2="626.4" y2="415.5" stroke="#222" stroke-width="0.5"/>
<line x1="626.4" y1="243" x2="626.4" y2="245.5" stroke="#222" stroke-width="0.5"/>
<text transform="translate(626.4,428.7) scale(1.370,1)" font-family='"Liberation Sans", sans-serif' font-size="6.70" text-anchor="middle" fill="#1a1a1a">40</text>
<line x1="678.5" y1="418" x2="678.5" y2="415.5" stroke="#222" stroke-width="0.5"/>
<line x1="678.5" y1="243" x2="678.5" y2="245.5" stroke="#222" stroke-width="0.5"/>
<text transform="translate(678.5,428.7) scale(1.370,1)" font-family='"Liberation Sans", sans-serif' font-size="6.70" text-anchor="middle" fill="#1a1a1a">50</text>
<text transform="translate(548.5,438.6) scale(1.370,1)" font-family='"Liberation Sans", sans-serif' font-size="7.20" text-anchor="middle" fill="#1a1a1a">Time</text>
<text transform="translate(397.2,331) rotate(-90)" font-family='"Liberation Sans", sans-serif' font-size="9.50" text-anchor="middle" fill="#1a1a1a">ξ</text>
<rect x="691" y="243" width="14.5" height="175" fill="url(#jet)" stroke="#222" stroke-width="0.45"/>
<line x1="703" y1="243.5" x2="705.5" y2="243.5" stroke="#222" stroke-width="0.5"/>
<text transform="translate(708.8,245.9) scale(1.270,1)" font-family='"Liberation Sans", sans-serif' font-size="6.70" text-anchor="start" fill="#1a1a1a">0.9</text>
<line x1="703" y1="267.9" x2="705.5" y2="267.9" stroke="#222" stroke-width="0.5"/>
<text transform="translate(708.8,270.3) scale(1.270,1)" font-family='"Liberation Sans", sans-serif' font-size="6.70" text-anchor="start" fill="#1a1a1a">0.8</text>
<line x1="703" y1="292.3" x2="705.5" y2="292.3" stroke="#222" stroke-width="0.5"/>
<text transform="translate(708.8,294.7) scale(1.270,1)" font-family='"Liberation Sans", sans-serif' font-size="6.70" text-anchor="start" fill="#1a1a1a">0.7</text>
<line x1="703" y1="316.9" x2="705.5" y2="316.9" stroke="#222" stroke-width="0.5"/>
<text transform="translate(708.8,319.3) scale(1.270,1)" font-family='"Liberation Sans", sans-serif' font-size="6.70" text-anchor="start" fill="#1a1a1a">0.6</text>
<line x1="703" y1="341.2" x2="705.5" y2="341.2" stroke="#222" stroke-width="0.5"/>
<text transform="translate(708.8,343.6) scale(1.270,1)" font-family='"Liberation Sans", sans-serif' font-size="6.70" text-anchor="start" fill="#1a1a1a">0.5</text>
<line x1="703" y1="365.8" x2="705.5" y2="365.8" stroke="#222" stroke-width="0.5"/>
<text transform="translate(708.8,368.2) scale(1.270,1)" font-family='"Liberation Sans", sans-serif' font-size="6.70" text-anchor="start" fill="#1a1a1a">0.4</text>
<line x1="703" y1="390.4" x2="705.5" y2="390.4" stroke="#222" stroke-width="0.5"/>
<text transform="translate(708.8,392.8) scale(1.270,1)" font-family='"Liberation Sans", sans-serif' font-size="6.70" text-anchor="start" fill="#1a1a1a">0.3</text>
<line x1="703" y1="414.8" x2="705.5" y2="414.8" stroke="#222" stroke-width="0.5"/>
<text transform="translate(708.8,417.2) scale(1.270,1)" font-family='"Liberation Sans", sans-serif' font-size="6.70" text-anchor="start" fill="#1a1a1a">0.2</text>
<path d="M487.4 243 L486.6 245.9 L485.4 249.8 L484.1 254.4 L482.7 259.6 L481.3 264.8 L480 269.9 L478.8 275 L477.7 280.4 L476.6 285.9 L475.5 291.4 L474.5 296.8 L473.5 302 L472.6 307.1 L471.7 312.3 L470.9 317.4 L470.1 322.2 L469.4 326.5 L468.9 330 L468.5 332.8 L468.3 334.9 L468.1 336.4 L468 337.7 L468 338.6 L467.9 339.4 L467.9 339.4 L469.2 340.1 L471.1 341.2 L473.3 342.4 L475.7 343.7 L478 344.9 L480 345.9 L481.8 346.7 L483.5 347.3 L485.1 347.9 L486.7 348.4 L488.4 348.9 L490 349.4 L491.6 349.9 L493 350.3 L494.4 350.7 L495.9 351.2 L497.8 351.6 L500 352.2 L502.8 352.9 L505.9 353.6 L509.4 354.4 L513 355.2 L516.6 355.9 L520 356.6 L523.3 357.2 L526.7 357.7 L530 358.3 L533.3 358.7 L536.7 359.2 L540 359.6 L543.3 360 L546.7 360.3 L550 360.6 L553.3 360.9 L556.7 361.1 L560 361.4 L563.3 361.6 L566.7 361.9 L570 362.1 L573.3 362.3 L576.7 362.4 L580 362.6 L583.3 362.8 L586.7 362.9 L590 363 L593.3 363.2 L596.7 363.3 L600 363.4 L603.3 363.5 L606.5 363.6 L609.7 363.7 L613 363.8 L616.4 363.9 L620 364 L623.8 364.1 L627.6 364.2 L631.7 364.3 L635.9 364.4 L640.3 364.5 L645 364.6 L650.5 364.8 L656.8 365 L663.3 365.2 L669.5 365.5 L674.8 365.7 L678.5 365.8 L678.5 243Z" fill="#ff0600"/>
<path d="M487.4 243 L486.6 245.9 L485.4 249.8 L484.1 254.4 L482.7 259.6 L481.3 264.8 L480 269.9 L478.8 275 L477.7 280.4 L476.6 285.9 L475.5 291.4 L474.5 296.8 L473.5 302 L472.6 307.1 L471.7 312.3 L470.9 317.4 L470.1 322.2 L469.4 326.5 L468.9 330 L468.5 332.8 L468.3 334.9 L468.1 336.4 L468 337.7 L468 338.6 L467.9 339.4 L467.9 339.4 L469.2 340.1 L471.1 341.2 L473.3 342.4 L475.7 343.7 L478 344.9 L480 345.9 L481.8 346.7 L483.5 347.3 L485.1 347.9 L486.7 348.4 L488.4 348.9 L490 349.4 L491.6 349.9 L493 350.3 L494.4 350.7 L495.9 351.2 L497.8 351.6 L500 352.2 L502.8 352.9 L505.9 353.6 L509.4 354.4 L513 355.2 L516.6 355.9 L520 356.6 L523.3 357.2 L526.7 357.7 L530 358.3 L533.3 358.7 L536.7 359.2 L540 359.6 L543.3 360 L546.7 360.3 L550 360.6 L553.3 360.9 L556.7 361.1 L560 361.4 L563.3 361.6 L566.7 361.9 L570 362.1 L573.3 362.3 L576.7 362.4 L580 362.6 L583.3 362.8 L586.7 362.9 L590 363 L593.3 363.2 L596.7 363.3 L600 363.4 L603.3 363.5 L606.5 363.6 L609.7 363.7 L613 363.8 L616.4 363.9 L620 364 L623.8 364.1 L627.6 364.2 L631.7 364.3 L635.9 364.4 L640.3 364.5 L645 364.6 L650.5 364.8 L656.8 365 L663.3 365.2 L669.5 365.5 L674.8 365.7 L678.5 365.8" fill="none" stroke="#101010" stroke-width="0.45"/>
<path d="M620.5 243 L621.2 245.3 L622.3 248.6 L623.5 252.3 L624.8 255.9 L626.2 259.3 L627.8 262.8 L629.4 266.3 L631 269.5 L632.5 272.5 L634.1 275.4 L635.7 278.1 L637.2 280.7 L638.8 283.1 L640.3 285.2 L641.9 287.3 L643.4 289.3 L644.9 291.3 L646.5 293.2 L648 295 L649.6 296.8 L651.1 298.5 L652.7 300.1 L654.2 301.6 L655.8 303 L657.3 304.4 L658.9 305.6 L660.4 306.8 L662 308 L663.5 309.1 L665.1 310.1 L666.7 311.1 L668.2 312 L669.8 312.8 L671.4 313.6 L673 314.2 L674.4 314.8 L675.7 315.2 L676.8 315.6 L677.8 315.8 L678.5 316 L678.5 243Z" fill="#800000"/>
<path d="M620.5 243 L621.2 245.3 L622.3 248.6 L623.5 252.3 L624.8 255.9 L626.2 259.3 L627.8 262.8 L629.4 266.3 L631 269.5 L632.5 272.5 L634.1 275.4 L635.7 278.1 L637.2 280.7 L638.8 283.1 L640.3 285.2 L641.9 287.3 L643.4 289.3 L644.9 291.3 L646.5 293.2 L648 295 L649.6 296.8 L651.1 298.5 L652.7 300.1 L654.2 301.6 L655.8 303 L657.3 304.4 L658.9 305.6 L660.4 306.8 L662 308 L663.5 309.1 L665.1 310.1 L666.7 311.1 L668.2 312 L669.8 312.8 L671.4 313.6 L673 314.2 L674.4 314.8 L675.7 315.2 L676.8 315.6 L677.8 315.8 L678.5 316" fill="none" stroke="#101010" stroke-width="0.45"/>
<rect x="418" y="243" width="260.5" height="175" fill="none" stroke="#222" stroke-width="0.5"/>
<clipPath id="kf"><rect x="418" y="482.4" width="260.5" height="175"/></clipPath>
<rect x="418" y="482.4" width="260.5" height="175" fill="#00008f"/>
<g clip-path="url(#kf)">
<path d="M433.3 482.4 L433.3 482.5 L433.3 482.9 L433.4 483.9 L433.5 485.5 L433.7 487.8 L433.9 490.8 L434.3 494.6 L434.7 499.1 L435.2 504.2 L435.7 509.7 L436.4 515.5 L437.2 521.6 L438.1 527.8 L439.2 534 L440.3 540.1 L441.6 546 L443 551.8 L444.5 557.3 L446.2 562.5 L448.1 567.5 L450.1 572.1 L452.2 576.5 L454.6 580.7 L457.1 584.5 L459.7 588.1 L462.5 591.5 L465.6 594.7 L468.8 597.6 L472.1 600.4 L475.7 603 L479.5 605.4 L483.5 607.7 L487.7 609.8 L492 611.8 L496.6 613.7 L501.5 615.5 L506.5 617.1 L511.7 618.7 L517.2 620.1 L522.9 621.5 L528.9 622.8 L535 624.1 L541.5 625.2 L548.1 626.3 L555 627.4 L562.2 628.4 L569.6 629.3 L577.3 630.2 L585.2 631.1 L593.4 631.9 L601.9 632.6 L610.6 633.4 L619.6 634.1 L628.9 634.7 L638.4 635.4 L648.3 636 L658.4 636.6 L668.8 637.1 L679.5 637.6 L680.5 637.6 L680.5 480.4 L433.3 480.4Z" fill="#0030ff"/>
<path d="M433.3 482.4 L433.3 482.5 L433.3 482.9 L433.4 483.9 L433.5 485.5 L433.7 487.8 L433.9 490.8 L434.3 494.6 L434.7 499.1 L435.2 504.2 L435.7 509.7 L436.4 515.5 L437.2 521.6 L438.1 527.8 L439.2 534 L440.3 540.1 L441.6 546 L443 551.8 L444.5 557.3 L446.2 562.5 L448.1 567.5 L450.1 572.1 L452.2 576.5 L454.6 580.7 L457.1 584.5 L459.7 588.1 L462.5 591.5 L465.6 594.7 L468.8 597.6 L472.1 600.4 L475.7 603 L479.5 605.4 L483.5 607.7 L487.7 609.8 L492 611.8 L496.6 613.7 L501.5 615.5 L506.5 617.1 L511.7 618.7 L517.2 620.1 L522.9 621.5 L528.9 622.8 L535 624.1 L541.5 625.2 L548.1 626.3 L555 627.4 L562.2 628.4 L569.6 629.3 L577.3 630.2 L585.2 631.1 L593.4 631.9 L601.9 632.6 L610.6 633.4 L619.6 634.1 L628.9 634.7 L638.4 635.4 L648.3 636 L658.4 636.6 L668.8 637.1 L679.5 637.6" fill="none" stroke="#101010" stroke-width="0.45"/>
<path d="M446.1 482.4 L446.1 482.5 L446.1 482.7 L446.2 483.4 L446.3 484.5 L446.4 486 L446.7 488 L447 490.4 L447.3 493.1 L447.8 496.2 L448.4 499.5 L449 502.9 L449.8 506.4 L450.6 509.9 L451.6 513.4 L452.7 516.9 L453.9 520.3 L455.2 523.6 L456.7 526.8 L458.3 529.9 L460.1 532.9 L462 535.8 L464 538.6 L466.2 541.3 L468.6 543.9 L471.1 546.4 L473.8 548.8 L476.6 551.2 L479.7 553.5 L482.9 555.7 L486.3 557.8 L489.9 559.8 L493.6 561.8 L497.6 563.4 L501.7 564.8 L506.1 566.3 L510.7 567.8 L515.4 569.4 L520.4 570.9 L525.6 572.3 L531 573.7 L536.7 575.1 L542.5 576.4 L548.6 577.8 L554.9 579.1 L561.5 580.5 L568.3 582.1 L575.3 583.7 L582.6 585.3 L590.1 586.9 L597.9 588.4 L605.9 589.8 L614.2 591.1 L622.7 592.3 L631.5 593.4 L640.6 594.6 L649.9 595.7 L659.5 596.8 L669.4 597.9 L679.5 598.9 L680.5 598.9 L680.5 480.4 L446.1 480.4Z" fill="#00d4ff"/>
<path d="M446.1 482.4 L446.1 482.5 L446.1 482.7 L446.2 483.4 L446.3 484.5 L446.4 486 L446.7 488 L447 490.4 L447.3 493.1 L447.8 496.2 L448.4 499.5 L449 502.9 L449.8 506.4 L450.6 509.9 L451.6 513.4 L452.7 516.9 L453.9 520.3 L455.2 523.6 L456.7 526.8 L458.3 529.9 L460.1 532.9 L462 535.8 L464 538.6 L466.2 541.3 L468.6 543.9 L471.1 546.4 L473.8 548.8 L476.6 551.2 L479.7 553.5 L482.9 555.7 L486.3 557.8 L489.9 559.8 L493.6 561.8 L497.6 563.4 L501.7 564.8 L506.1 566.3 L510.7 567.8 L515.4 569.4 L520.4 570.9 L525.6 572.3 L531 573.7 L536.7 575.1 L542.5 576.4 L548.6 577.8 L554.9 579.1 L561.5 580.5 L568.3 582.1 L575.3 583.7 L582.6 585.3 L590.1 586.9 L597.9 588.4 L605.9 589.8 L614.2 591.1 L622.7 592.3 L631.5 593.4 L640.6 594.6 L649.9 595.7 L659.5 596.8 L669.4 597.9 L679.5 598.9" fill="none" stroke="#101010" stroke-width="0.45"/>
<path d="M460.7 482.4 L460.7 482.4 L460.8 482.5 L460.8 482.7 L460.9 483 L461.1 483.4 L461.3 484 L461.6 484.8 L462 485.7 L462.4 486.8 L462.9 488.2 L463.5 489.7 L464.2 491.3 L465 493.2 L465.9 495.2 L467 497.3 L468.1 499.5 L469.4 501.9 L470.7 504.3 L472.2 506.8 L473.9 509.3 L475.7 511.8 L477.6 514.4 L479.6 516.9 L481.8 519.4 L484.2 521.9 L486.7 524.3 L489.4 526.6 L492.2 528.9 L495.3 531.1 L498.4 533.3 L501.8 535.3 L505.3 537.3 L509 539.2 L512.9 541 L517 542.8 L521.3 544.4 L525.8 546 L530.4 547.5 L535.3 548.9 L540.4 550.3 L545.7 551.6 L551.1 552.8 L556.9 554 L562.8 555.1 L568.9 556.2 L575.3 557.2 L581.9 558.1 L588.7 559 L595.7 559.9 L603 560.7 L610.5 561.4 L618.3 562.2 L626.3 562.9 L634.5 563.5 L643 564.1 L651.7 564.7 L660.7 565.3 L670 565.8 L679.5 566.3 L680.5 566.3 L680.5 480.4 L460.7 480.4Z" fill="#7dff7a"/>
<path d="M460.7 482.4 L460.7 482.4 L460.8 482.5 L460.8 482.7 L460.9 483 L461.1 483.4 L461.3 484 L461.6 484.8 L462 485.7 L462.4 486.8 L462.9 488.2 L463.5 489.7 L464.2 491.3 L465 493.2 L465.9 495.2 L467 497.3 L468.1 499.5 L469.4 501.9 L470.7 504.3 L472.2 506.8 L473.9 509.3 L475.7 511.8 L477.6 514.4 L479.6 516.9 L481.8 519.4 L484.2 521.9 L486.7 524.3 L489.4 526.6 L492.2 528.9 L495.3 531.1 L498.4 533.3 L501.8 535.3 L505.3 537.3 L509 539.2 L512.9 541 L517 542.8 L521.3 544.4 L525.8 546 L530.4 547.5 L535.3 548.9 L540.4 550.3 L545.7 551.6 L551.1 552.8 L556.9 554 L562.8 555.1 L568.9 556.2 L575.3 557.2 L581.9 558.1 L588.7 559 L595.7 559.9 L603 560.7 L610.5 561.4 L618.3 562.2 L626.3 562.9 L634.5 563.5 L643 564.1 L651.7 564.7 L660.7 565.3 L670 565.8 L679.5 566.3" fill="none" stroke="#101010" stroke-width="0.45"/>
<path d="M481.5 482.4 L481.5 482.4 L481.5 482.4 L481.6 482.5 L481.7 482.6 L481.8 482.8 L482 483.1 L482.3 483.4 L482.6 483.8 L483 484.3 L483.4 484.9 L484 485.6 L484.6 486.4 L485.4 487.2 L486.2 488.2 L487.1 489.2 L488.1 490.4 L489.3 491.6 L490.5 492.9 L491.9 494.2 L493.4 495.7 L495 497.1 L496.7 498.7 L498.6 500.3 L500.6 501.9 L502.7 503.5 L505 505.1 L507.4 506.8 L510 508.4 L512.7 510.1 L515.6 511.7 L518.6 513.3 L521.8 514.9 L525.2 516.4 L528.7 517.9 L532.4 519.3 L536.3 520.7 L540.3 522.1 L544.6 523.4 L549 524.7 L553.6 525.9 L558.3 527 L563.3 528.1 L568.5 529.1 L573.8 530.1 L579.4 531 L585.2 531.9 L591.1 532.7 L597.3 533.5 L603.7 534.2 L610.3 534.9 L617.1 535.6 L624.1 536.2 L631.3 536.7 L638.8 537.3 L646.5 537.8 L654.4 538.2 L662.5 538.7 L670.9 539.1 L679.5 539.4 L680.5 539.4 L680.5 480.4 L481.5 480.4Z" fill="#ffd000"/>
<path d="M481.5 482.4 L481.5 482.4 L481.5 482.4 L481.6 482.5 L481.7 482.6 L481.8 482.8 L482 483.1 L482.3 483.4 L482.6 483.8 L483 484.3 L483.4 484.9 L484 485.6 L484.6 486.4 L485.4 487.2 L486.2 488.2 L487.1 489.2 L488.1 490.4 L489.3 491.6 L490.5 492.9 L491.9 494.2 L493.4 495.7 L495 497.1 L496.7 498.7 L498.6 500.3 L500.6 501.9 L502.7 503.5 L505 505.1 L507.4 506.8 L510 508.4 L512.7 510.1 L515.6 511.7 L518.6 513.3 L521.8 514.9 L525.2 516.4 L528.7 517.9 L532.4 519.3 L536.3 520.7 L540.3 522.1 L544.6 523.4 L549 524.7 L553.6 525.9 L558.3 527 L563.3 528.1 L568.5 529.1 L573.8 530.1 L579.4 531 L585.2 531.9 L591.1 532.7 L597.3 533.5 L603.7 534.2 L610.3 534.9 L617.1 535.6 L624.1 536.2 L631.3 536.7 L638.8 537.3 L646.5 537.8 L654.4 538.2 L662.5 538.7 L670.9 539.1 L679.5 539.4" fill="none" stroke="#101010" stroke-width="0.45"/>
<path d="M513.6 482.4 L513.6 482.4 L513.6 482.4 L513.7 482.5 L513.8 482.5 L513.9 482.6 L514.1 482.7 L514.3 482.9 L514.5 483.1 L514.9 483.3 L515.3 483.6 L515.7 483.9 L516.3 484.3 L516.9 484.7 L517.6 485.1 L518.3 485.6 L519.2 486.2 L520.1 486.8 L521.2 487.4 L522.3 488.1 L523.6 488.8 L524.9 489.5 L526.4 490.3 L527.9 491 L529.6 491.9 L531.4 492.7 L533.3 493.5 L535.4 494.4 L537.5 495.2 L539.8 496.1 L542.2 496.9 L544.7 497.8 L547.4 498.6 L550.2 499.5 L553.2 500.3 L556.3 501.1 L559.5 501.9 L562.9 502.6 L566.5 503.4 L570.2 504.1 L574 504.8 L578 505.4 L582.2 506.1 L586.5 506.7 L591 507.2 L595.6 507.8 L600.5 508.3 L605.5 508.8 L610.6 509.3 L616 509.8 L621.5 510.2 L627.2 510.6 L633.1 511 L639.1 511.3 L645.4 511.7 L651.8 512 L658.5 512.3 L665.3 512.6 L672.3 512.8 L679.5 513.1 L680.5 513.1 L680.5 480.4 L513.6 480.4Z" fill="#ff2800"/>
<path d="M513.6 482.4 L513.6 482.4 L513.6 482.4 L513.7 482.5 L513.8 482.5 L513.9 482.6 L514.1 482.7 L514.3 482.9 L514.5 483.1 L514.9 483.3 L515.3 483.6 L515.7 483.9 L516.3 484.3 L516.9 484.7 L517.6 485.1 L518.3 485.6 L519.2 486.2 L520.1 486.8 L521.2 487.4 L522.3 488.1 L523.6 488.8 L524.9 489.5 L526.4 490.3 L527.9 491 L529.6 491.9 L531.4 492.7 L533.3 493.5 L535.4 494.4 L537.5 495.2 L539.8 496.1 L542.2 496.9 L544.7 497.8 L547.4 498.6 L550.2 499.5 L553.2 500.3 L556.3 501.1 L559.5 501.9 L562.9 502.6 L566.5 503.4 L570.2 504.1 L574 504.8 L578 505.4 L582.2 506.1 L586.5 506.7 L591 507.2 L595.6 507.8 L600.5 508.3 L605.5 508.8 L610.6 509.3 L616 509.8 L621.5 510.2 L627.2 510.6 L633.1 511 L639.1 511.3 L645.4 511.7 L651.8 512 L658.5 512.3 L665.3 512.6 L672.3 512.8 L679.5 513.1" fill="none" stroke="#101010" stroke-width="0.45"/>
<path d="M612.3 482.4 L612.3 482.4 L612.3 482.4 L612.3 482.4 L612.3 482.4 L612.4 482.4 L612.4 482.4 L612.5 482.4 L612.6 482.4 L612.8 482.4 L612.9 482.4 L613.1 482.5 L613.3 482.5 L613.6 482.5 L613.9 482.5 L614.2 482.5 L614.5 482.6 L614.9 482.6 L615.3 482.6 L615.8 482.6 L616.3 482.7 L616.9 482.7 L617.4 482.7 L618.1 482.8 L618.8 482.8 L619.5 482.9 L620.3 482.9 L621.1 483 L622 483 L622.9 483.1 L623.9 483.2 L624.9 483.2 L626 483.3 L627.1 483.4 L628.3 483.5 L629.6 483.6 L630.9 483.6 L632.3 483.7 L633.7 483.8 L635.2 483.9 L636.7 484 L638.4 484.1 L640.1 484.2 L641.8 484.4 L643.6 484.5 L645.5 484.6 L647.5 484.7 L649.5 484.9 L651.6 485 L653.8 485.1 L656 485.3 L658.3 485.4 L660.7 485.6 L663.1 485.7 L665.7 485.9 L668.3 486.1 L671 486.2 L673.7 486.4 L676.6 486.6 L679.5 486.8 L680.5 486.8 L680.5 480.4 L612.3 480.4Z" fill="#800000"/>
<path d="M612.3 482.4 L612.3 482.4 L612.3 482.4 L612.3 482.4 L612.3 482.4 L612.4 482.4 L612.4 482.4 L612.5 482.4 L612.6 482.4 L612.8 482.4 L612.9 482.4 L613.1 482.5 L613.3 482.5 L613.6 482.5 L613.9 482.5 L614.2 482.5 L614.5 482.6 L614.9 482.6 L615.3 482.6 L615.8 482.6 L616.3 482.7 L616.9 482.7 L617.4 482.7 L618.1 482.8 L618.8 482.8 L619.5 482.9 L620.3 482.9 L621.1 483 L622 483 L622.9 483.1 L623.9 483.2 L624.9 483.2 L626 483.3 L627.1 483.4 L628.3 483.5 L629.6 483.6 L630.9 483.6 L632.3 483.7 L633.7 483.8 L635.2 483.9 L636.7 484 L638.4 484.1 L640.1 484.2 L641.8 484.4 L643.6 484.5 L645.5 484.6 L647.5 484.7 L649.5 484.9 L651.6 485 L653.8 485.1 L656 485.3 L658.3 485.4 L660.7 485.6 L663.1 485.7 L665.7 485.9 L668.3 486.1 L671 486.2 L673.7 486.4 L676.6 486.6 L679.5 486.8" fill="none" stroke="#101010" stroke-width="0.45"/>
</g>
<rect x="418" y="482.4" width="260.5" height="175" fill="none" stroke="#222" stroke-width="0.5"/>
<line x1="418" y1="482.4" x2="420.5" y2="482.4" stroke="#222" stroke-width="0.5"/>
<line x1="678.5" y1="482.4" x2="676" y2="482.4" stroke="#222" stroke-width="0.5"/>
<text transform="translate(414.2,484.8) scale(1.370,1)" font-family='"Liberation Sans", sans-serif' font-size="6.70" text-anchor="end" fill="#1a1a1a">1</text>
<line x1="418" y1="501.8" x2="420.5" y2="501.8" stroke="#222" stroke-width="0.5"/>
<line x1="678.5" y1="501.8" x2="676" y2="501.8" stroke="#222" stroke-width="0.5"/>
<text transform="translate(414.2,504.2) scale(1.370,1)" font-family='"Liberation Sans", sans-serif' font-size="6.70" text-anchor="end" fill="#1a1a1a">0.9</text>
<line x1="418" y1="521.3" x2="420.5" y2="521.3" stroke="#222" stroke-width="0.5"/>
<line x1="678.5" y1="521.3" x2="676" y2="521.3" stroke="#222" stroke-width="0.5"/>
<text transform="translate(414.2,523.7) scale(1.370,1)" font-family='"Liberation Sans", sans-serif' font-size="6.70" text-anchor="end" fill="#1a1a1a">0.8</text>
<line x1="418" y1="540.7" x2="420.5" y2="540.7" stroke="#222" stroke-width="0.5"/>
<line x1="678.5" y1="540.7" x2="676" y2="540.7" stroke="#222" stroke-width="0.5"/>
<text transform="translate(414.2,543.1) scale(1.370,1)" font-family='"Liberation Sans", sans-serif' font-size="6.70" text-anchor="end" fill="#1a1a1a">0.7</text>
<line x1="418" y1="560.2" x2="420.5" y2="560.2" stroke="#222" stroke-width="0.5"/>
<line x1="678.5" y1="560.2" x2="676" y2="560.2" stroke="#222" stroke-width="0.5"/>
<text transform="translate(414.2,562.6) scale(1.370,1)" font-family='"Liberation Sans", sans-serif' font-size="6.70" text-anchor="end" fill="#1a1a1a">0.6</text>
<line x1="418" y1="579.6" x2="420.5" y2="579.6" stroke="#222" stroke-width="0.5"/>
<line x1="678.5" y1="579.6" x2="676" y2="579.6" stroke="#222" stroke-width="0.5"/>
<text transform="translate(414.2,582) scale(1.370,1)" font-family='"Liberation Sans", sans-serif' font-size="6.70" text-anchor="end" fill="#1a1a1a">0.5</text>
<line x1="418" y1="599.1" x2="420.5" y2="599.1" stroke="#222" stroke-width="0.5"/>
<line x1="678.5" y1="599.1" x2="676" y2="599.1" stroke="#222" stroke-width="0.5"/>
<text transform="translate(414.2,601.5) scale(1.370,1)" font-family='"Liberation Sans", sans-serif' font-size="6.70" text-anchor="end" fill="#1a1a1a">0.4</text>
<line x1="418" y1="618.5" x2="420.5" y2="618.5" stroke="#222" stroke-width="0.5"/>
<line x1="678.5" y1="618.5" x2="676" y2="618.5" stroke="#222" stroke-width="0.5"/>
<text transform="translate(414.2,620.9) scale(1.370,1)" font-family='"Liberation Sans", sans-serif' font-size="6.70" text-anchor="end" fill="#1a1a1a">0.3</text>
<line x1="418" y1="638" x2="420.5" y2="638" stroke="#222" stroke-width="0.5"/>
<line x1="678.5" y1="638" x2="676" y2="638" stroke="#222" stroke-width="0.5"/>
<text transform="translate(414.2,640.4) scale(1.370,1)" font-family='"Liberation Sans", sans-serif' font-size="6.70" text-anchor="end" fill="#1a1a1a">0.2</text>
<line x1="418" y1="657.4" x2="420.5" y2="657.4" stroke="#222" stroke-width="0.5"/>
<line x1="678.5" y1="657.4" x2="676" y2="657.4" stroke="#222" stroke-width="0.5"/>
<text transform="translate(414.2,659.8) scale(1.370,1)" font-family='"Liberation Sans", sans-serif' font-size="6.70" text-anchor="end" fill="#1a1a1a">0.1</text>
<line x1="418" y1="657.4" x2="418" y2="654.9" stroke="#222" stroke-width="0.5"/>
<line x1="418" y1="482.4" x2="418" y2="484.9" stroke="#222" stroke-width="0.5"/>
<text transform="translate(418,668.1) scale(1.370,1)" font-family='"Liberation Sans", sans-serif' font-size="6.70" text-anchor="middle" fill="#1a1a1a">0</text>
<line x1="470.1" y1="657.4" x2="470.1" y2="654.9" stroke="#222" stroke-width="0.5"/>
<line x1="470.1" y1="482.4" x2="470.1" y2="484.9" stroke="#222" stroke-width="0.5"/>
<text transform="translate(470.1,668.1) scale(1.370,1)" font-family='"Liberation Sans", sans-serif' font-size="6.70" text-anchor="middle" fill="#1a1a1a">10</text>
<line x1="522.2" y1="657.4" x2="522.2" y2="654.9" stroke="#222" stroke-width="0.5"/>
<line x1="522.2" y1="482.4" x2="522.2" y2="484.9" stroke="#222" stroke-width="0.5"/>
<text transform="translate(522.2,668.1) scale(1.370,1)" font-family='"Liberation Sans", sans-serif' font-size="6.70" text-anchor="middle" fill="#1a1a1a">20</text>
<line x1="574.3" y1="657.4" x2="574.3" y2="654.9" stroke="#222" stroke-width="0.5"/>
<line x1="574.3" y1="482.4" x2="574.3" y2="484.9" stroke="#222" stroke-width="0.5"/>
<text transform="translate(574.3,668.1) scale(1.370,1)" font-family='"Liberation Sans", sans-serif' font-size="6.70" text-anchor="middle" fill="#1a1a1a">30</text>
<line x1="626.4" y1="657.4" x2="626.4" y2="654.9" stroke="#222" stroke-width="0.5"/>
<line x1="626.4" y1="482.4" x2="626.4" y2="484.9" stroke="#222" stroke-width="0.5"/>
<text transform="translate(626.4,668.1) scale(1.370,1)" font-family='"Liberation Sans", sans-serif' font-size="6.70" text-anchor="middle" fill="#1a1a1a">40</text>
<line x1="678.5" y1="657.4" x2="678.5" y2="654.9" stroke="#222" stroke-width="0.5"/>
<line x1="678.5" y1="482.4" x2="678.5" y2="484.9" stroke="#222" stroke-width="0.5"/>
<text transform="translate(678.5,668.1) scale(1.370,1)" font-family='"Liberation Sans", sans-serif' font-size="6.70" text-anchor="middle" fill="#1a1a1a">50</text>
<text transform="translate(548.5,678) scale(1.370,1)" font-family='"Liberation Sans", sans-serif' font-size="7.20" text-anchor="middle" fill="#1a1a1a">Time</text>
<text transform="translate(397.2,570.4) rotate(-90)" font-family='"Liberation Sans", sans-serif' font-size="9.50" text-anchor="middle" fill="#1a1a1a">ξ</text>
<rect x="691" y="482.4" width="14.5" height="175" fill="url(#jet)" stroke="#222" stroke-width="0.45"/>
<line x1="703" y1="483" x2="705.5" y2="483" stroke="#222" stroke-width="0.5"/>
<text transform="translate(708.8,485.4) scale(1.270,1)" font-family='"Liberation Sans", sans-serif' font-size="6.70" text-anchor="start" fill="#1a1a1a">0.3</text>
<line x1="703" y1="512.5" x2="705.5" y2="512.5" stroke="#222" stroke-width="0.5"/>
<text transform="translate(708.8,514.9) scale(1.270,1)" font-family='"Liberation Sans", sans-serif' font-size="6.70" text-anchor="start" fill="#1a1a1a">0.25</text>
<line x1="703" y1="542.2" x2="705.5" y2="542.2" stroke="#222" stroke-width="0.5"/>
<text transform="translate(708.8,544.6) scale(1.270,1)" font-family='"Liberation Sans", sans-serif' font-size="6.70" text-anchor="start" fill="#1a1a1a">0.2</text>
<line x1="703" y1="571.5" x2="705.5" y2="571.5" stroke="#222" stroke-width="0.5"/>
<text transform="translate(708.8,573.9) scale(1.270,1)" font-family='"Liberation Sans", sans-serif' font-size="6.70" text-anchor="start" fill="#1a1a1a">0.15</text>
<line x1="703" y1="601.2" x2="705.5" y2="601.2" stroke="#222" stroke-width="0.5"/>
<text transform="translate(708.8,603.6) scale(1.270,1)" font-family='"Liberation Sans", sans-serif' font-size="6.70" text-anchor="start" fill="#1a1a1a">0.1</text>
<line x1="703" y1="630.8" x2="705.5" y2="630.8" stroke="#222" stroke-width="0.5"/>
<text transform="translate(708.8,633.2) scale(1.270,1)" font-family='"Liberation Sans", sans-serif' font-size="6.70" text-anchor="start" fill="#1a1a1a">0.05</text>
<clipPath id="kh"><rect x="418" y="722.4" width="260.5" height="175"/></clipPath>
<rect x="418" y="722.4" width="260.5" height="175" fill="#00008f"/>
<g clip-path="url(#kh)">
<path d="M427.8 722.4 L427.8 722.6 L427.8 723.7 L427.9 726.1 L428 729.9 L428.2 735.3 L428.4 742 L428.8 749.8 L429.2 758.4 L429.7 767.3 L430.3 776.3 L431 785 L431.8 793.4 L432.7 801.3 L433.8 808.6 L434.9 815.3 L436.2 821.5 L437.7 827.1 L439.3 832.2 L441 836.9 L442.9 841.1 L444.9 844.9 L447.1 848.4 L449.5 851.5 L452.1 854.4 L454.8 857 L457.7 859.5 L460.8 861.7 L464 863.7 L467.5 865.6 L471.2 867.3 L475 868.9 L479.1 870.3 L483.3 871.7 L487.8 872.9 L492.5 874.1 L497.5 875.2 L502.6 876.2 L508 877.2 L513.6 878.1 L519.4 878.9 L525.5 879.7 L531.8 880.4 L538.4 881.1 L545.2 881.7 L552.2 882.4 L559.6 882.9 L567.1 883.5 L575 884 L583.1 884.5 L591.5 884.9 L600.1 885.4 L609 885.8 L618.2 886.2 L627.7 886.6 L637.5 886.9 L647.6 887.3 L657.9 887.6 L668.6 887.9 L679.5 888.2 L680.5 888.2 L680.5 720.4 L427.8 720.4Z" fill="#004cff"/>
<path d="M427.8 722.4 L427.8 722.6 L427.8 723.7 L427.9 726.1 L428 729.9 L428.2 735.3 L428.4 742 L428.8 749.8 L429.2 758.4 L429.7 767.3 L430.3 776.3 L431 785 L431.8 793.4 L432.7 801.3 L433.8 808.6 L434.9 815.3 L436.2 821.5 L437.7 827.1 L439.3 832.2 L441 836.9 L442.9 841.1 L444.9 844.9 L447.1 848.4 L449.5 851.5 L452.1 854.4 L454.8 857 L457.7 859.5 L460.8 861.7 L464 863.7 L467.5 865.6 L471.2 867.3 L475 868.9 L479.1 870.3 L483.3 871.7 L487.8 872.9 L492.5 874.1 L497.5 875.2 L502.6 876.2 L508 877.2 L513.6 878.1 L519.4 878.9 L525.5 879.7 L531.8 880.4 L538.4 881.1 L545.2 881.7 L552.2 882.4 L559.6 882.9 L567.1 883.5 L575 884 L583.1 884.5 L591.5 884.9 L600.1 885.4 L609 885.8 L618.2 886.2 L627.7 886.6 L637.5 886.9 L647.6 887.3 L657.9 887.6 L668.6 887.9 L679.5 888.2" fill="none" stroke="#101010" stroke-width="0.45"/>
<path d="M441.6 722.4 L441.6 722.5 L441.6 722.8 L441.7 723.6 L441.8 724.8 L442 726.6 L442.2 728.9 L442.5 731.7 L442.9 734.9 L443.4 738.3 L443.9 742 L444.6 745.8 L445.4 749.7 L446.2 753.5 L447.2 757.3 L448.4 761.1 L449.6 764.7 L451 768.2 L452.5 771.7 L454.1 774.9 L455.9 778.1 L457.8 781.2 L459.9 784.1 L462.1 786.9 L464.5 789.7 L467.1 792.3 L469.8 794.7 L472.8 797.1 L475.9 799.4 L479.1 801.7 L482.6 803.8 L486.2 805.9 L490.1 807.8 L494.1 809.5 L498.3 811.2 L502.8 812.8 L507.4 814.4 L512.3 815.9 L517.4 817.4 L522.7 818.9 L528.2 820.4 L533.9 822.3 L539.9 824.3 L546.1 826 L552.6 827.7 L559.2 829.4 L566.1 830.9 L573.3 832.4 L580.7 833.9 L588.4 835.2 L596.3 836.4 L604.5 837.6 L612.9 838.6 L621.6 839.7 L630.6 840.6 L639.8 841.6 L649.3 842.5 L659.1 843.4 L669.2 844.3 L679.5 845.1 L680.5 845.1 L680.5 720.4 L441.6 720.4Z" fill="#1affe6"/>
<path d="M441.6 722.4 L441.6 722.5 L441.6 722.8 L441.7 723.6 L441.8 724.8 L442 726.6 L442.2 728.9 L442.5 731.7 L442.9 734.9 L443.4 738.3 L443.9 742 L444.6 745.8 L445.4 749.7 L446.2 753.5 L447.2 757.3 L448.4 761.1 L449.6 764.7 L451 768.2 L452.5 771.7 L454.1 774.9 L455.9 778.1 L457.8 781.2 L459.9 784.1 L462.1 786.9 L464.5 789.7 L467.1 792.3 L469.8 794.7 L472.8 797.1 L475.9 799.4 L479.1 801.7 L482.6 803.8 L486.2 805.9 L490.1 807.8 L494.1 809.5 L498.3 811.2 L502.8 812.8 L507.4 814.4 L512.3 815.9 L517.4 817.4 L522.7 818.9 L528.2 820.4 L533.9 822.3 L539.9 824.3 L546.1 826 L552.6 827.7 L559.2 829.4 L566.1 830.9 L573.3 832.4 L580.7 833.9 L588.4 835.2 L596.3 836.4 L604.5 837.6 L612.9 838.6 L621.6 839.7 L630.6 840.6 L639.8 841.6 L649.3 842.5 L659.1 843.4 L669.2 844.3 L679.5 845.1" fill="none" stroke="#101010" stroke-width="0.45"/>
<path d="M460.5 722.4 L460.5 722.4 L460.5 722.5 L460.6 722.6 L460.7 722.9 L460.8 723.3 L461 723.8 L461.3 724.4 L461.7 725.3 L462.1 726.2 L462.6 727.4 L463.2 728.7 L463.9 730.2 L464.8 731.9 L465.7 733.7 L466.7 735.7 L467.8 737.7 L469.1 739.9 L470.5 742.3 L472 744.6 L473.6 747.1 L475.4 749.6 L477.3 752.1 L479.4 754.7 L481.6 757.2 L484 759.7 L486.5 762.2 L489.2 764.7 L492 767.1 L495 769.4 L498.2 771.7 L501.6 773.9 L505.1 776 L508.8 778 L512.7 779.9 L516.8 781.7 L521.1 783.5 L525.6 785.1 L530.2 786.7 L535.1 788.2 L540.2 789.6 L545.5 790.9 L551 792.1 L556.7 793.3 L562.6 794.4 L568.8 795.4 L575.1 796.3 L581.7 797.2 L588.6 798.1 L595.6 798.8 L602.9 799.6 L610.4 800.3 L618.2 800.9 L626.2 801.5 L634.5 802 L643 802.6 L651.7 803 L660.7 803.5 L670 803.9 L679.5 804.3 L680.5 804.3 L680.5 720.4 L460.5 720.4Z" fill="#f0ff10"/>
<path d="M460.5 722.4 L460.5 722.4 L460.5 722.5 L460.6 722.6 L460.7 722.9 L460.8 723.3 L461 723.8 L461.3 724.4 L461.7 725.3 L462.1 726.2 L462.6 727.4 L463.2 728.7 L463.9 730.2 L464.8 731.9 L465.7 733.7 L466.7 735.7 L467.8 737.7 L469.1 739.9 L470.5 742.3 L472 744.6 L473.6 747.1 L475.4 749.6 L477.3 752.1 L479.4 754.7 L481.6 757.2 L484 759.7 L486.5 762.2 L489.2 764.7 L492 767.1 L495 769.4 L498.2 771.7 L501.6 773.9 L505.1 776 L508.8 778 L512.7 779.9 L516.8 781.7 L521.1 783.5 L525.6 785.1 L530.2 786.7 L535.1 788.2 L540.2 789.6 L545.5 790.9 L551 792.1 L556.7 793.3 L562.6 794.4 L568.8 795.4 L575.1 796.3 L581.7 797.2 L588.6 798.1 L595.6 798.8 L602.9 799.6 L610.4 800.3 L618.2 800.9 L626.2 801.5 L634.5 802 L643 802.6 L651.7 803 L660.7 803.5 L670 803.9 L679.5 804.3" fill="none" stroke="#101010" stroke-width="0.45"/>
<path d="M489.5 722.4 L489.5 722.4 L489.5 722.4 L489.6 722.5 L489.7 722.6 L489.8 722.7 L490 722.9 L490.2 723.2 L490.6 723.5 L490.9 723.8 L491.4 724.3 L491.9 724.8 L492.5 725.4 L493.2 726 L494 726.8 L494.9 727.6 L495.9 728.4 L497 729.4 L498.2 730.4 L499.5 731.4 L500.9 732.6 L502.5 733.7 L504.1 734.9 L505.9 736.2 L507.8 737.5 L509.9 738.8 L512.1 740.1 L514.4 741.4 L516.9 742.8 L519.5 744.1 L522.2 745.5 L525.2 746.8 L528.2 748.1 L531.4 749.4 L534.8 750.7 L538.4 751.9 L542.1 753.1 L546 754.3 L550 755.4 L554.3 756.5 L558.7 757.6 L563.3 758.6 L568 759.6 L573 760.5 L578.1 761.4 L583.4 762.3 L589 763.1 L594.7 763.8 L600.6 764.5 L606.7 765.2 L613.1 765.9 L619.6 766.5 L626.3 767 L633.3 767.6 L640.4 768.1 L647.8 768.5 L655.4 769 L663.2 769.4 L671.2 769.7 L679.5 770.1 L680.5 770.1 L680.5 720.4 L489.5 720.4Z" fill="#ff4000"/>
<path d="M489.5 722.4 L489.5 722.4 L489.5 722.4 L489.6 722.5 L489.7 722.6 L489.8 722.7 L490 722.9 L490.2 723.2 L490.6 723.5 L490.9 723.8 L491.4 724.3 L491.9 724.8 L492.5 725.4 L493.2 726 L494 726.8 L494.9 727.6 L495.9 728.4 L497 729.4 L498.2 730.4 L499.5 731.4 L500.9 732.6 L502.5 733.7 L504.1 734.9 L505.9 736.2 L507.8 737.5 L509.9 738.8 L512.1 740.1 L514.4 741.4 L516.9 742.8 L519.5 744.1 L522.2 745.5 L525.2 746.8 L528.2 748.1 L531.4 749.4 L534.8 750.7 L538.4 751.9 L542.1 753.1 L546 754.3 L550 755.4 L554.3 756.5 L558.7 757.6 L563.3 758.6 L568 759.6 L573 760.5 L578.1 761.4 L583.4 762.3 L589 763.1 L594.7 763.8 L600.6 764.5 L606.7 765.2 L613.1 765.9 L619.6 766.5 L626.3 767 L633.3 767.6 L640.4 768.1 L647.8 768.5 L655.4 769 L663.2 769.4 L671.2 769.7 L679.5 770.1" fill="none" stroke="#101010" stroke-width="0.45"/>
<path d="M557 722.4 L557 722.4 L557 722.4 L557 722.4 L557.1 722.4 L557.2 722.4 L557.3 722.5 L557.4 722.5 L557.6 722.5 L557.9 722.6 L558.2 722.6 L558.5 722.7 L558.9 722.8 L559.4 722.9 L559.9 723 L560.5 723.1 L561.1 723.2 L561.8 723.3 L562.6 723.5 L563.4 723.6 L564.3 723.8 L565.3 724 L566.4 724.2 L567.5 724.4 L568.8 724.6 L570.1 724.8 L571.5 725 L573 725.3 L574.6 725.5 L576.3 725.8 L578.1 726.1 L580 726.4 L581.9 726.7 L584 727 L586.2 727.3 L588.5 727.6 L590.9 727.9 L593.4 728.2 L596 728.6 L598.7 728.9 L601.6 729.2 L604.5 729.6 L607.6 729.9 L610.8 730.3 L614.1 730.6 L617.6 731 L621.1 731.3 L624.8 731.6 L628.6 732 L632.6 732.3 L636.6 732.7 L640.9 733 L645.2 733.4 L649.7 733.7 L654.3 734 L659.1 734.3 L664 734.7 L669 735 L674.2 735.3 L679.5 735.6 L680.5 735.6 L680.5 720.4 L557 720.4Z" fill="#800000"/>
<path d="M557 722.4 L557 722.4 L557 722.4 L557 722.4 L557.1 722.4 L557.2 722.4 L557.3 722.5 L557.4 722.5 L557.6 722.5 L557.9 722.6 L558.2 722.6 L558.5 722.7 L558.9 722.8 L559.4 722.9 L559.9 723 L560.5 723.1 L561.1 723.2 L561.8 723.3 L562.6 723.5 L563.4 723.6 L564.3 723.8 L565.3 724 L566.4 724.2 L567.5 724.4 L568.8 724.6 L570.1 724.8 L571.5 725 L573 725.3 L574.6 725.5 L576.3 725.8 L578.1 726.1 L580 726.4 L581.9 726.7 L584 727 L586.2 727.3 L588.5 727.6 L590.9 727.9 L593.4 728.2 L596 728.6 L598.7 728.9 L601.6 729.2 L604.5 729.6 L607.6 729.9 L610.8 730.3 L614.1 730.6 L617.6 731 L621.1 731.3 L624.8 731.6 L628.6 732 L632.6 732.3 L636.6 732.7 L640.9 733 L645.2 733.4 L649.7 733.7 L654.3 734 L659.1 734.3 L664 734.7 L669 735 L674.2 735.3 L679.5 735.6" fill="none" stroke="#101010" stroke-width="0.45"/>
</g>
<rect x="418" y="722.4" width="260.5" height="175" fill="none" stroke="#222" stroke-width="0.5"/>
<line x1="418" y1="722.4" x2="420.5" y2="722.4" stroke="#222" stroke-width="0.5"/>
<line x1="678.5" y1="722.4" x2="676" y2="722.4" stroke="#222" stroke-width="0.5"/>
<text transform="translate(414.2,724.8) scale(1.370,1)" font-family='"Liberation Sans", sans-serif' font-size="6.70" text-anchor="end" fill="#1a1a1a">1</text>
<line x1="418" y1="741.8" x2="420.5" y2="741.8" stroke="#222" stroke-width="0.5"/>
<line x1="678.5" y1="741.8" x2="676" y2="741.8" stroke="#222" stroke-width="0.5"/>
<text transform="translate(414.2,744.2) scale(1.370,1)" font-family='"Liberation Sans", sans-serif' font-size="6.70" text-anchor="end" fill="#1a1a1a">0.9</text>
<line x1="418" y1="761.3" x2="420.5" y2="761.3" stroke="#222" stroke-width="0.5"/>
<line x1="678.5" y1="761.3" x2="676" y2="761.3" stroke="#222" stroke-width="0.5"/>
<text transform="translate(414.2,763.7) scale(1.370,1)" font-family='"Liberation Sans", sans-serif' font-size="6.70" text-anchor="end" fill="#1a1a1a">0.8</text>
<line x1="418" y1="780.7" x2="420.5" y2="780.7" stroke="#222" stroke-width="0.5"/>
<line x1="678.5" y1="780.7" x2="676" y2="780.7" stroke="#222" stroke-width="0.5"/>
<text transform="translate(414.2,783.1) scale(1.370,1)" font-family='"Liberation Sans", sans-serif' font-size="6.70" text-anchor="end" fill="#1a1a1a">0.7</text>
<line x1="418" y1="800.2" x2="420.5" y2="800.2" stroke="#222" stroke-width="0.5"/>
<line x1="678.5" y1="800.2" x2="676" y2="800.2" stroke="#222" stroke-width="0.5"/>
<text transform="translate(414.2,802.6) scale(1.370,1)" font-family='"Liberation Sans", sans-serif' font-size="6.70" text-anchor="end" fill="#1a1a1a">0.6</text>
<line x1="418" y1="819.6" x2="420.5" y2="819.6" stroke="#222" stroke-width="0.5"/>
<line x1="678.5" y1="819.6" x2="676" y2="819.6" stroke="#222" stroke-width="0.5"/>
<text transform="translate(414.2,822) scale(1.370,1)" font-family='"Liberation Sans", sans-serif' font-size="6.70" text-anchor="end" fill="#1a1a1a">0.5</text>
<line x1="418" y1="839.1" x2="420.5" y2="839.1" stroke="#222" stroke-width="0.5"/>
<line x1="678.5" y1="839.1" x2="676" y2="839.1" stroke="#222" stroke-width="0.5"/>
<text transform="translate(414.2,841.5) scale(1.370,1)" font-family='"Liberation Sans", sans-serif' font-size="6.70" text-anchor="end" fill="#1a1a1a">0.4</text>
<line x1="418" y1="858.5" x2="420.5" y2="858.5" stroke="#222" stroke-width="0.5"/>
<line x1="678.5" y1="858.5" x2="676" y2="858.5" stroke="#222" stroke-width="0.5"/>
<text transform="translate(414.2,860.9) scale(1.370,1)" font-family='"Liberation Sans", sans-serif' font-size="6.70" text-anchor="end" fill="#1a1a1a">0.3</text>
<line x1="418" y1="878" x2="420.5" y2="878" stroke="#222" stroke-width="0.5"/>
<line x1="678.5" y1="878" x2="676" y2="878" stroke="#222" stroke-width="0.5"/>
<text transform="translate(414.2,880.4) scale(1.370,1)" font-family='"Liberation Sans", sans-serif' font-size="6.70" text-anchor="end" fill="#1a1a1a">0.2</text>
<line x1="418" y1="897.4" x2="420.5" y2="897.4" stroke="#222" stroke-width="0.5"/>
<line x1="678.5" y1="897.4" x2="676" y2="897.4" stroke="#222" stroke-width="0.5"/>
<text transform="translate(414.2,899.8) scale(1.370,1)" font-family='"Liberation Sans", sans-serif' font-size="6.70" text-anchor="end" fill="#1a1a1a">0.1</text>
<line x1="418" y1="897.4" x2="418" y2="894.9" stroke="#222" stroke-width="0.5"/>
<line x1="418" y1="722.4" x2="418" y2="724.9" stroke="#222" stroke-width="0.5"/>
<text transform="translate(418,908.1) scale(1.370,1)" font-family='"Liberation Sans", sans-serif' font-size="6.70" text-anchor="middle" fill="#1a1a1a">0</text>
<line x1="470.1" y1="897.4" x2="470.1" y2="894.9" stroke="#222" stroke-width="0.5"/>
<line x1="470.1" y1="722.4" x2="470.1" y2="724.9" stroke="#222" stroke-width="0.5"/>
<text transform="translate(470.1,908.1) scale(1.370,1)" font-family='"Liberation Sans", sans-serif' font-size="6.70" text-anchor="middle" fill="#1a1a1a">10</text>
<line x1="522.2" y1="897.4" x2="522.2" y2="894.9" stroke="#222" stroke-width="0.5"/>
<line x1="522.2" y1="722.4" x2="522.2" y2="724.9" stroke="#222" stroke-width="0.5"/>
<text transform="translate(522.2,908.1) scale(1.370,1)" font-family='"Liberation Sans", sans-serif' font-size="6.70" text-anchor="middle" fill="#1a1a1a">20</text>
<line x1="574.3" y1="897.4" x2="574.3" y2="894.9" stroke="#222" stroke-width="0.5"/>
<line x1="574.3" y1="722.4" x2="574.3" y2="724.9" stroke="#222" stroke-width="0.5"/>
<text transform="translate(574.3,908.1) scale(1.370,1)" font-family='"Liberation Sans", sans-serif' font-size="6.70" text-anchor="middle" fill="#1a1a1a">30</text>
<line x1="626.4" y1="897.4" x2="626.4" y2="894.9" stroke="#222" stroke-width="0.5"/>
<line x1="626.4" y1="722.4" x2="626.4" y2="724.9" stroke="#222" stroke-width="0.5"/>
<text transform="translate(626.4,908.1) scale(1.370,1)" font-family='"Liberation Sans", sans-serif' font-size="6.70" text-anchor="middle" fill="#1a1a1a">40</text>
<line x1="678.5" y1="897.4" x2="678.5" y2="894.9" stroke="#222" stroke-width="0.5"/>
<line x1="678.5" y1="722.4" x2="678.5" y2="724.9" stroke="#222" stroke-width="0.5"/>
<text transform="translate(678.5,908.1) scale(1.370,1)" font-family='"Liberation Sans", sans-serif' font-size="6.70" text-anchor="middle" fill="#1a1a1a">50</text>
<text transform="translate(548.5,918) scale(1.370,1)" font-family='"Liberation Sans", sans-serif' font-size="7.20" text-anchor="middle" fill="#1a1a1a">Time</text>
<text transform="translate(397.2,810.4) rotate(-90)" font-family='"Liberation Sans", sans-serif' font-size="9.50" text-anchor="middle" fill="#1a1a1a">ξ</text>
<rect x="691" y="722.4" width="14.5" height="175" fill="url(#jet)" stroke="#222" stroke-width="0.45"/>
<line x1="703" y1="722.8" x2="705.5" y2="722.8" stroke="#222" stroke-width="0.5"/>
<text transform="translate(708.8,725.2) scale(1.270,1)" font-family='"Liberation Sans", sans-serif' font-size="6.70" text-anchor="start" fill="#1a1a1a">2.5</text>
<line x1="703" y1="757.7" x2="705.5" y2="757.7" stroke="#222" stroke-width="0.5"/>
<text transform="translate(708.8,760.1) scale(1.270,1)" font-family='"Liberation Sans", sans-serif' font-size="6.70" text-anchor="start" fill="#1a1a1a">2</text>
<line x1="703" y1="793" x2="705.5" y2="793" stroke="#222" stroke-width="0.5"/>
<text transform="translate(708.8,795.4) scale(1.270,1)" font-family='"Liberation Sans", sans-serif' font-size="6.70" text-anchor="start" fill="#1a1a1a">1.5</text>
<line x1="703" y1="828" x2="705.5" y2="828" stroke="#222" stroke-width="0.5"/>
<text transform="translate(708.8,830.4) scale(1.270,1)" font-family='"Liberation Sans", sans-serif' font-size="6.70" text-anchor="start" fill="#1a1a1a">1</text>
<line x1="703" y1="863.4" x2="705.5" y2="863.4" stroke="#222" stroke-width="0.5"/>
<text transform="translate(708.8,865.8) scale(1.270,1)" font-family='"Liberation Sans", sans-serif' font-size="6.70" text-anchor="start" fill="#1a1a1a">0.5</text>
<line x1="703" y1="897.6" x2="705.5" y2="897.6" stroke="#222" stroke-width="0.5"/>
<text transform="translate(708.8,900) scale(1.270,1)" font-family='"Liberation Sans", sans-serif' font-size="6.70" text-anchor="start" fill="#1a1a1a">0</text>
<text transform="translate(187,220.6) scale(1.195,1)" font-family='"Liberation Serif", serif' font-size="12.00" text-anchor="middle" fill="#111">(a) <tspan font-style="italic" font-size="13.5">β</tspan></text>
<text transform="translate(565,220.6) scale(1.195,1)" font-family='"Liberation Serif", serif' font-size="12.00" text-anchor="middle" fill="#111">(b) <tspan font-style="italic" font-size="13.5">β</tspan> at Fractional phase</text>
<text transform="translate(187.7,461) scale(1.172,1)" font-family='"Liberation Serif", serif' font-size="12.00" text-anchor="middle" fill="#111">(c) I(t)</text>
<text transform="translate(565.5,460.8) scale(1.172,1)" font-family='"Liberation Serif", serif' font-size="12.00" text-anchor="middle" fill="#111">(d) I(t) at Fractional phase</text>
<text transform="translate(187.7,701) scale(1.172,1)" font-family='"Liberation Serif", serif' font-size="12.00" text-anchor="middle" fill="#111">(e) G(t)</text>
<text transform="translate(565.5,701) scale(1.172,1)" font-family='"Liberation Serif", serif' font-size="12.00" text-anchor="middle" fill="#111">(f) G(t)at Fractional phase</text>
<text transform="translate(187.7,940.8) scale(1.172,1)" font-family='"Liberation Serif", serif' font-size="12.00" text-anchor="middle" fill="#111">(g) J(t)</text>
<text transform="translate(565.5,941) scale(1.172,1)" font-family='"Liberation Serif", serif' font-size="12.00" text-anchor="middle" fill="#111">(h) J(t) at Fractional phase</text>
</g>
</svg>
</body></html>
